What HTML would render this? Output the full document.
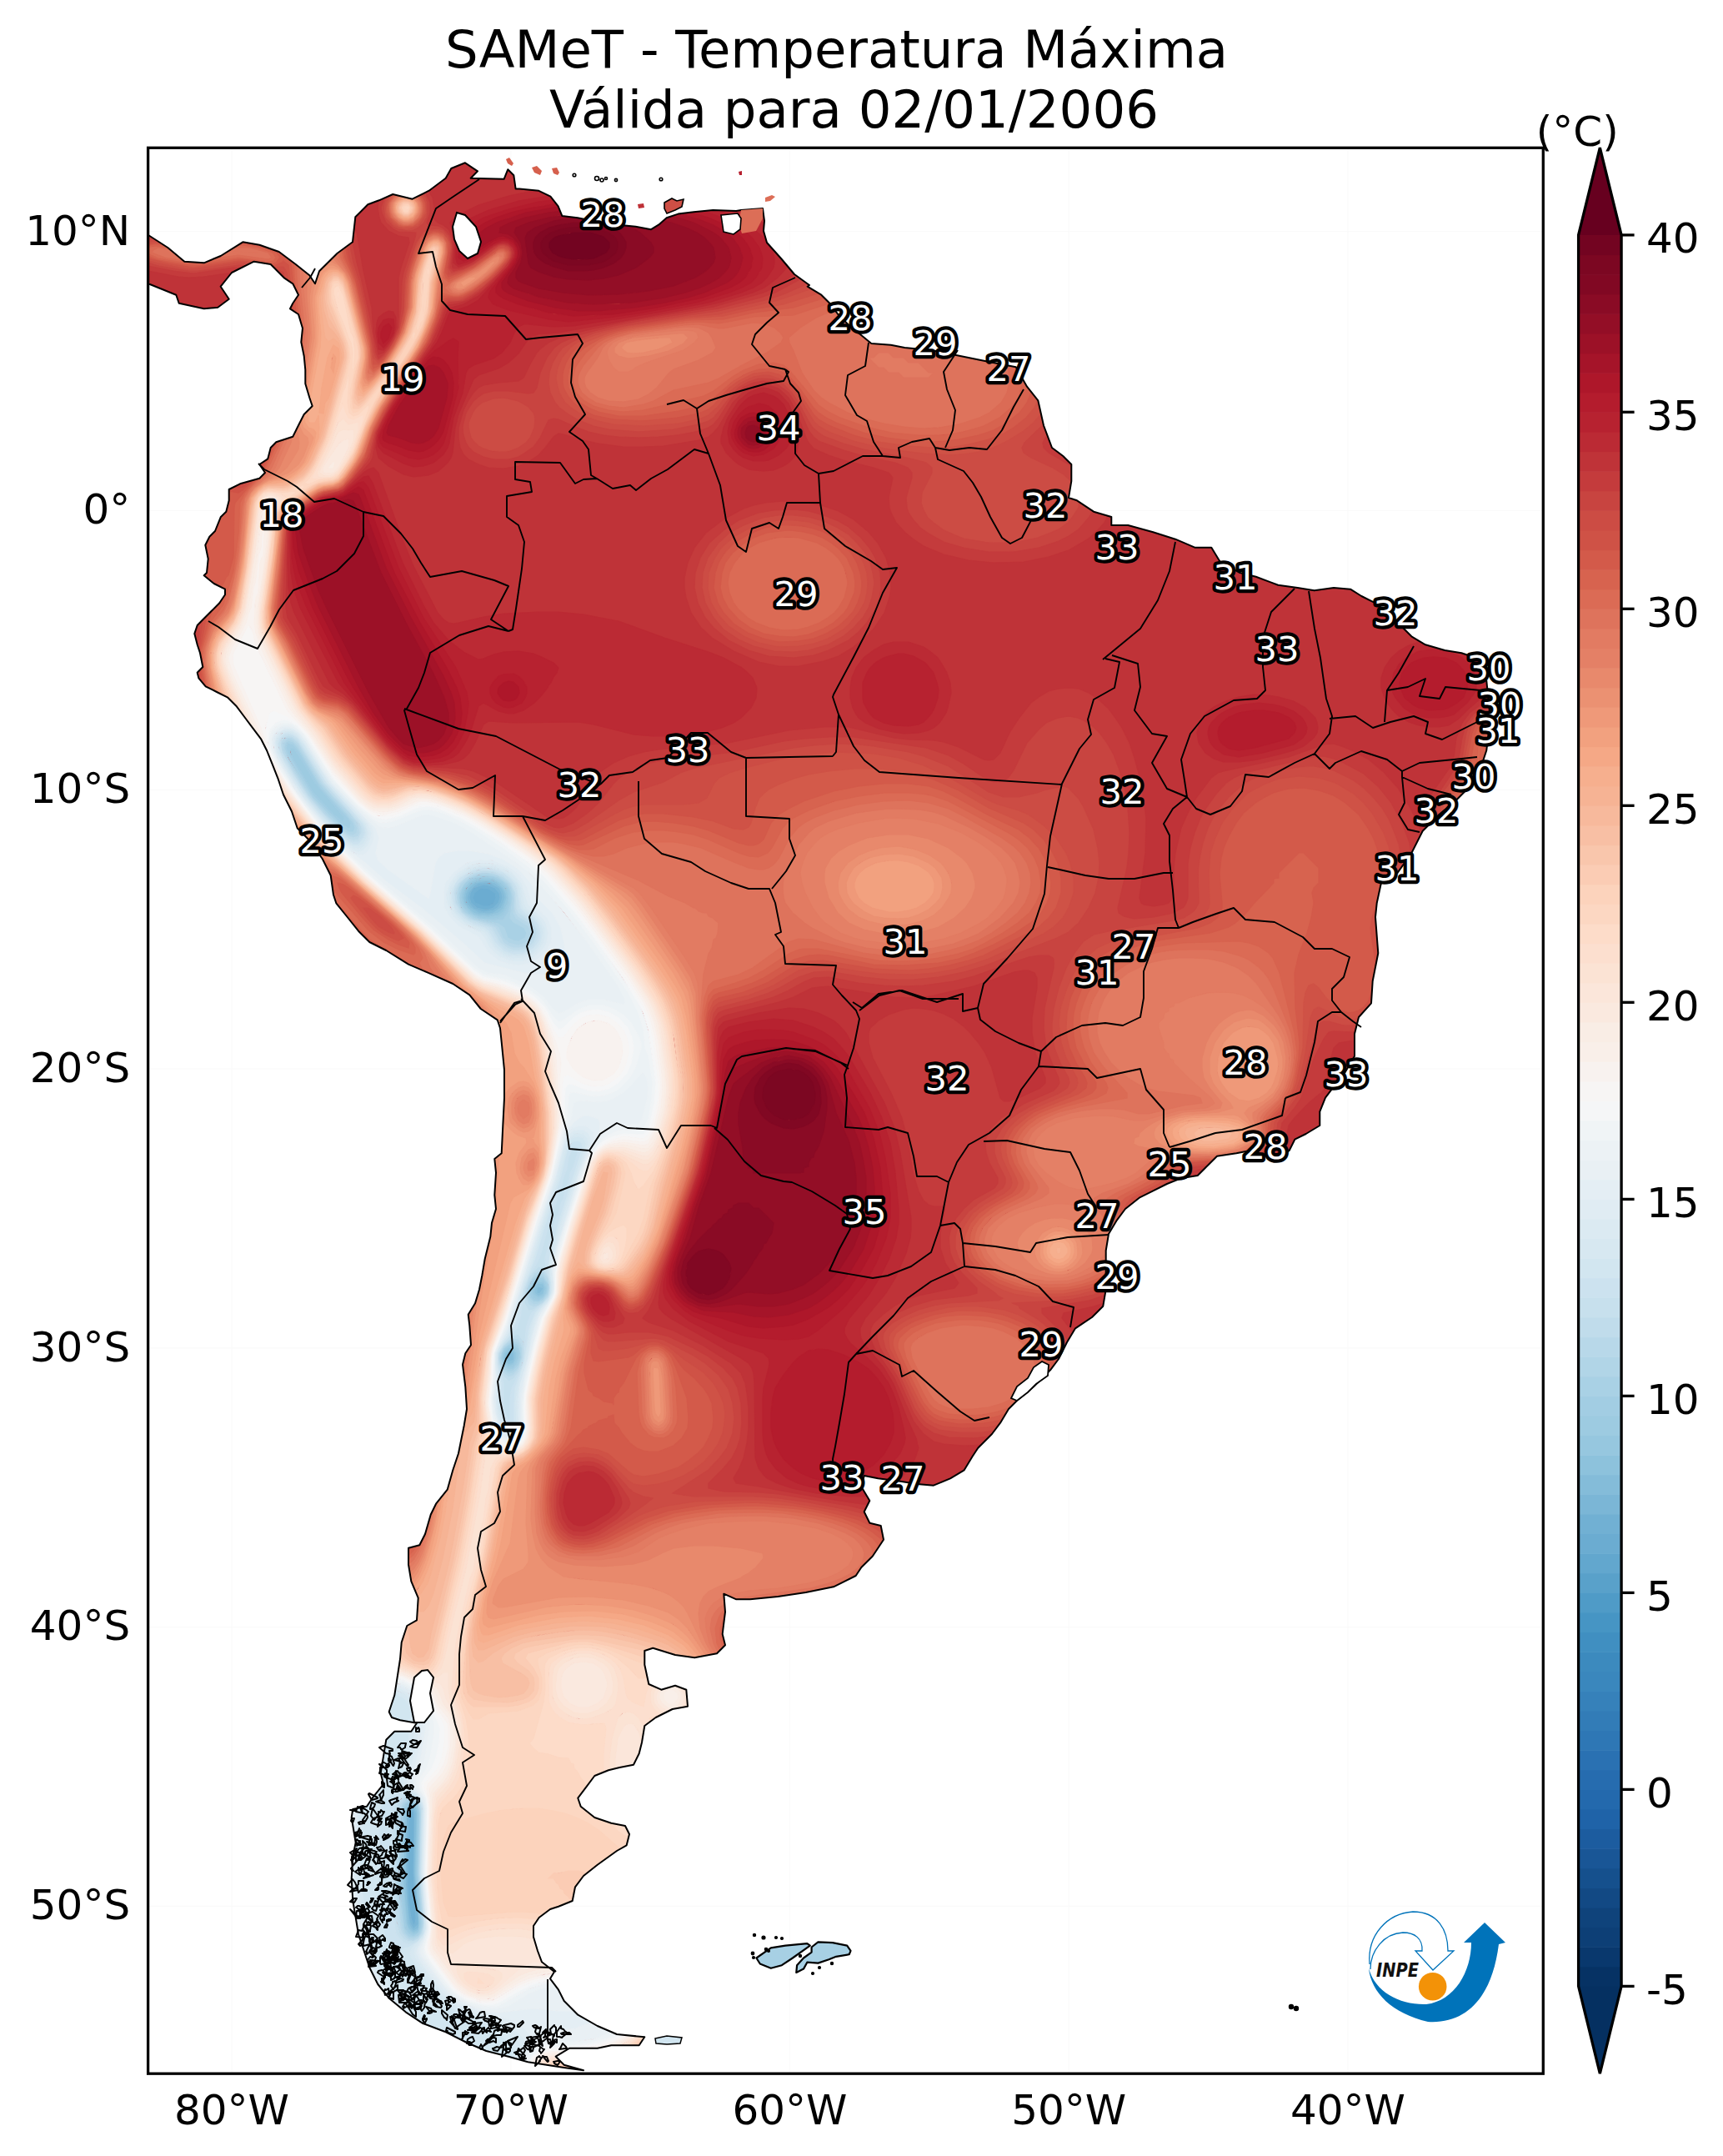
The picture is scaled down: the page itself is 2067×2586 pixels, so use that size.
<!DOCTYPE html>
<html><head><meta charset="utf-8"><style>
html,body{margin:0;padding:0;background:#fff;}
svg{display:block;}
text{font-family:"DejaVu Sans","Liberation Sans",sans-serif;}
</style></head><body>
<svg width="2067" height="2586" viewBox="0 0 2067 2586" xmlns="http://www.w3.org/2000/svg">

<text x="1003.5" y="81" font-size="62.5" text-anchor="middle">SAMeT - Temperatura Máxima</text>
<text x="1024.5" y="153" font-size="62.5" text-anchor="middle">Válida para 02/01/2006</text>
<defs><clipPath id="ax"><rect x="177.6" y="177.3" width="1673.7" height="2309.8999999999996"/></clipPath>
<clipPath id="land"><path d="M178.0,282.0 L201.3,297.0 L221.3,313.7 L244.7,315.3 L264.7,307.0 L291.3,290.3 L311.3,293.7 L334.7,302.0 L354.7,317.0 L371.3,330.3 L378.0,340.3 L383.0,325.3 L404.7,303.7 L423.0,290.3 L426.3,260.3 L441.3,245.3 L454.7,240.3 L471.3,233.0 L494.7,238.7 L514.7,228.7 L534.7,213.7 L541.3,202.0 L558.0,195.3 L573.0,205.3 L564.7,213.7 L604.6,214.8 L609.3,203.2 L616.3,210.2 L618.6,226.4 L623.2,226.4 L646.4,228.8 L660.4,235.7 L669.6,247.3 L674.3,258.9 L692.9,261.3 L716.1,265.9 L739.3,269.4 L762.5,271.7 L781.1,275.2 L790.4,269.4 L799.7,261.3 L813.6,256.6 L832.2,254.3 L855.4,252.0 L883.2,253.1 L889.0,252.0 L915.0,250.0 L917.0,265.0 L916.0,277.0 L920.0,291.0 L937.0,310.0 L953.0,329.0 L971.0,342.0 L968.7,343.7 L985.3,353.7 L995.3,363.7 L1005.3,377.0 L1018.7,390.3 L1035.3,403.7 L1045.3,412.0 L1068.7,413.7 L1085.3,417.0 L1118.7,420.3 L1152.0,427.0 L1185.3,433.7 L1218.7,440.3 L1232.0,463.7 L1245.3,480.3 L1252.0,510.3 L1262.0,537.0 L1275.3,547.0 L1285.3,557.0 L1285.3,577.0 L1282.0,597.0 L1292.0,600.3 L1312.0,613.7 L1333.3,620.0 L1333.3,630.0 L1353.3,630.0 L1383.3,638.3 L1410.0,646.7 L1433.3,656.7 L1453.3,656.7 L1463.3,673.3 L1486.7,686.7 L1506.7,691.7 L1533.3,701.7 L1556.7,705.0 L1576.7,708.3 L1600.0,705.0 L1620.0,706.7 L1633.3,715.0 L1650.0,723.3 L1673.3,743.3 L1693.3,763.3 L1710.0,773.3 L1733.3,780.0 L1753.3,783.3 L1773.3,790.0 L1783.3,816.7 L1786.7,850.0 L1786.7,870.0 L1783.3,900.0 L1776.7,920.0 L1763.3,943.3 L1746.7,960.0 L1726.7,976.7 L1706.7,996.7 L1693.3,1023.3 L1676.7,1046.7 L1656.7,1060.0 L1651.7,1083.3 L1650.0,1100.0 L1653.3,1143.3 L1646.7,1176.7 L1645.0,1203.3 L1630.0,1220.0 L1625.0,1240.0 L1625.0,1266.7 L1613.3,1286.7 L1600.0,1303.3 L1590.0,1316.7 L1583.3,1333.3 L1583.3,1350.0 L1566.7,1360.0 L1553.3,1366.7 L1546.7,1380.0 L1533.3,1390.0 L1500.0,1380.0 L1483.3,1383.3 L1460.0,1386.7 L1446.7,1400.0 L1436.7,1410.0 L1416.7,1413.3 L1400.0,1420.0 L1383.3,1428.3 L1366.7,1436.7 L1350.0,1450.0 L1340.0,1463.3 L1330.0,1480.0 L1326.7,1500.0 L1326.7,1520.0 L1326.7,1546.7 L1323.3,1566.7 L1310.0,1580.0 L1300.0,1586.7 L1290.0,1593.3 L1280.0,1610.0 L1270.0,1630.0 L1260.0,1643.3 L1240.0,1663.3 L1220.0,1680.0 L1210.0,1690.0 L1200.0,1706.7 L1190.0,1720.0 L1173.3,1736.7 L1166.7,1746.7 L1156.7,1763.3 L1140.0,1773.3 L1120.0,1781.7 L1100.0,1780.0 L1080.0,1776.7 L1053.3,1773.3 L1036.7,1770.0 L1033.3,1783.3 L1043.3,1800.0 L1036.7,1813.3 L1043.3,1826.7 L1056.7,1830.0 L1060.0,1846.7 L1046.7,1866.7 L1033.3,1880.0 L1026.7,1890.0 L1000.0,1903.3 L966.7,1910.0 L933.3,1915.0 L900.0,1918.3 L883.3,1918.3 L868.3,1911.7 L870.0,1933.3 L866.7,1960.0 L870.0,1973.3 L860.0,1983.3 L833.3,1988.3 L810.0,1985.0 L783.3,1976.7 L773.3,1980.0 L773.3,1996.7 L778.3,2020.0 L793.3,2026.7 L810.0,2021.7 L823.3,2026.7 L825.0,2046.7 L806.7,2050.0 L786.7,2060.0 L773.3,2070.0 L770.0,2090.0 L766.7,2103.3 L760.0,2116.7 L743.3,2120.0 L730.0,2123.3 L713.3,2130.0 L703.3,2143.3 L693.3,2156.7 L696.7,2166.7 L713.3,2180.0 L733.3,2186.7 L750.0,2190.0 L755.0,2200.0 L751.7,2213.3 L740.0,2220.0 L716.7,2236.7 L700.0,2250.0 L690.0,2263.3 L686.7,2280.0 L670.0,2286.7 L660.0,2290.0 L646.7,2300.0 L640.0,2310.0 L640.0,2323.3 L645.0,2340.0 L650.0,2353.3 L665.0,2365.0 L660.0,2373.3 L670.0,2386.7 L676.7,2400.0 L693.3,2416.7 L716.7,2430.0 L740.0,2440.0 L773.3,2443.3 L766.7,2453.3 L733.3,2453.3 L716.7,2456.7 L683.3,2456.7 L666.7,2466.7 L676.7,2476.7 L700.0,2483.3 L676.7,2480.0 L633.3,2473.3 L610.0,2466.7 L583.3,2460.0 L560.0,2450.0 L533.3,2436.7 L506.7,2426.7 L486.7,2413.3 L466.7,2396.7 L453.3,2380.0 L443.3,2360.0 L436.7,2340.0 L430.0,2320.0 L426.7,2300.0 L423.3,2280.0 L421.7,2253.3 L423.3,2226.7 L426.7,2210.0 L421.7,2180.0 L423.3,2170.0 L440.0,2166.7 L446.7,2156.7 L460.0,2140.0 L456.7,2126.7 L460.0,2106.7 L463.3,2086.7 L473.3,2076.7 L493.3,2076.7 L500.0,2066.7 L480.0,2063.3 L470.0,2060.0 L466.7,2053.3 L473.3,2033.3 L480.0,1990.0 L481.7,1970.0 L488.3,1950.0 L500.0,1943.3 L501.7,1916.7 L493.3,1896.7 L490.0,1876.7 L490.0,1856.7 L503.3,1853.3 L510.0,1840.0 L516.7,1816.7 L523.3,1803.3 L536.7,1786.7 L543.3,1763.3 L550.0,1743.3 L553.3,1726.7 L556.7,1710.0 L560.0,1690.0 L558.3,1663.3 L555.0,1636.7 L558.3,1623.3 L565.0,1613.3 L563.3,1590.0 L561.7,1576.7 L570.0,1563.3 L575.0,1546.7 L578.3,1530.0 L581.7,1510.0 L588.3,1483.3 L590.0,1466.7 L595.0,1450.0 L593.3,1433.3 L595.0,1406.7 L593.3,1390.0 L601.7,1383.3 L603.3,1350.0 L605.0,1316.7 L605.0,1283.3 L601.7,1250.0 L600.0,1233.3 L596.7,1223.3 L576.7,1210.0 L563.3,1193.3 L543.3,1180.0 L513.3,1166.7 L490.0,1156.7 L463.3,1140.0 L443.3,1130.0 L430.0,1116.7 L416.7,1100.0 L403.3,1083.3 L400.0,1073.3 L396.7,1050.0 L386.7,1030.0 L370.0,1006.7 L356.7,993.3 L350.0,973.3 L340.0,953.3 L333.3,933.3 L326.7,916.7 L320.0,900.0 L313.3,886.7 L303.3,873.3 L293.3,860.0 L283.3,846.7 L273.3,836.7 L260.0,830.0 L246.7,823.3 L238.3,813.3 L236.7,806.7 L243.3,800.0 L240.0,783.3 L236.7,773.3 L233.3,760.0 L236.7,750.0 L243.3,743.3 L253.3,733.3 L263.3,723.3 L270.0,713.3 L270.0,706.7 L256.7,700.0 L244.7,690.3 L248.0,687.0 L249.7,670.3 L246.3,653.7 L251.3,643.7 L258.0,637.0 L264.7,620.3 L271.3,613.7 L274.7,600.3 L274.7,587.0 L288.0,580.3 L311.3,573.7 L318.0,567.0 L311.3,557.0 L321.3,550.3 L324.7,537.0 L331.3,530.3 L351.3,523.7 L358.0,510.3 L364.7,497.0 L374.7,487.0 L371.3,477.0 L366.3,460.3 L366.3,443.7 L364.7,427.0 L361.3,410.3 L363.0,393.7 L358.0,377.0 L348.0,370.3 L351.3,363.7 L358.0,353.7 L351.3,340.3 L341.3,333.7 L324.7,317.0 L304.7,313.7 L278.0,327.0 L264.7,343.7 L274.7,358.7 L261.3,368.7 L244.7,370.3 L214.7,363.7 L211.3,353.7 L178.0,340.3 Z"/></clipPath></defs>
<path d="M278.0,177.3 V2487.2 M612.8,177.3 V2487.2 M947.5,177.3 V2487.2 M1282.2,177.3 V2487.2 M1617.0,177.3 V2487.2 M177.6,277.7 H1851.3 M177.6,612.5 H1851.3 M177.6,947.3 H1851.3 M177.6,1282.0 H1851.3 M177.6,1616.8 H1851.3 M177.6,1951.6 H1851.3 M177.6,2286.3 H1851.3" stroke="#fafafa" stroke-width="1.2" fill="none"/>
<g clip-path="url(#ax)">
<g clip-path="url(#land)">
<path d="M178.0,282.0 L201.3,297.0 L221.3,313.7 L244.7,315.3 L264.7,307.0 L291.3,290.3 L311.3,293.7 L334.7,302.0 L354.7,317.0 L371.3,330.3 L378.0,340.3 L383.0,325.3 L404.7,303.7 L423.0,290.3 L426.3,260.3 L441.3,245.3 L454.7,240.3 L471.3,233.0 L494.7,238.7 L514.7,228.7 L534.7,213.7 L541.3,202.0 L558.0,195.3 L573.0,205.3 L564.7,213.7 L604.6,214.8 L609.3,203.2 L616.3,210.2 L618.6,226.4 L623.2,226.4 L646.4,228.8 L660.4,235.7 L669.6,247.3 L674.3,258.9 L692.9,261.3 L716.1,265.9 L739.3,269.4 L762.5,271.7 L781.1,275.2 L790.4,269.4 L799.7,261.3 L813.6,256.6 L832.2,254.3 L855.4,252.0 L883.2,253.1 L889.0,252.0 L915.0,250.0 L917.0,265.0 L916.0,277.0 L920.0,291.0 L937.0,310.0 L953.0,329.0 L971.0,342.0 L968.7,343.7 L985.3,353.7 L995.3,363.7 L1005.3,377.0 L1018.7,390.3 L1035.3,403.7 L1045.3,412.0 L1068.7,413.7 L1085.3,417.0 L1118.7,420.3 L1152.0,427.0 L1185.3,433.7 L1218.7,440.3 L1232.0,463.7 L1245.3,480.3 L1252.0,510.3 L1262.0,537.0 L1275.3,547.0 L1285.3,557.0 L1285.3,577.0 L1282.0,597.0 L1292.0,600.3 L1312.0,613.7 L1333.3,620.0 L1333.3,630.0 L1353.3,630.0 L1383.3,638.3 L1410.0,646.7 L1433.3,656.7 L1453.3,656.7 L1463.3,673.3 L1486.7,686.7 L1506.7,691.7 L1533.3,701.7 L1556.7,705.0 L1576.7,708.3 L1600.0,705.0 L1620.0,706.7 L1633.3,715.0 L1650.0,723.3 L1673.3,743.3 L1693.3,763.3 L1710.0,773.3 L1733.3,780.0 L1753.3,783.3 L1773.3,790.0 L1783.3,816.7 L1786.7,850.0 L1786.7,870.0 L1783.3,900.0 L1776.7,920.0 L1763.3,943.3 L1746.7,960.0 L1726.7,976.7 L1706.7,996.7 L1693.3,1023.3 L1676.7,1046.7 L1656.7,1060.0 L1651.7,1083.3 L1650.0,1100.0 L1653.3,1143.3 L1646.7,1176.7 L1645.0,1203.3 L1630.0,1220.0 L1625.0,1240.0 L1625.0,1266.7 L1613.3,1286.7 L1600.0,1303.3 L1590.0,1316.7 L1583.3,1333.3 L1583.3,1350.0 L1566.7,1360.0 L1553.3,1366.7 L1546.7,1380.0 L1533.3,1390.0 L1500.0,1380.0 L1483.3,1383.3 L1460.0,1386.7 L1446.7,1400.0 L1436.7,1410.0 L1416.7,1413.3 L1400.0,1420.0 L1383.3,1428.3 L1366.7,1436.7 L1350.0,1450.0 L1340.0,1463.3 L1330.0,1480.0 L1326.7,1500.0 L1326.7,1520.0 L1326.7,1546.7 L1323.3,1566.7 L1310.0,1580.0 L1300.0,1586.7 L1290.0,1593.3 L1280.0,1610.0 L1270.0,1630.0 L1260.0,1643.3 L1240.0,1663.3 L1220.0,1680.0 L1210.0,1690.0 L1200.0,1706.7 L1190.0,1720.0 L1173.3,1736.7 L1166.7,1746.7 L1156.7,1763.3 L1140.0,1773.3 L1120.0,1781.7 L1100.0,1780.0 L1080.0,1776.7 L1053.3,1773.3 L1036.7,1770.0 L1033.3,1783.3 L1043.3,1800.0 L1036.7,1813.3 L1043.3,1826.7 L1056.7,1830.0 L1060.0,1846.7 L1046.7,1866.7 L1033.3,1880.0 L1026.7,1890.0 L1000.0,1903.3 L966.7,1910.0 L933.3,1915.0 L900.0,1918.3 L883.3,1918.3 L868.3,1911.7 L870.0,1933.3 L866.7,1960.0 L870.0,1973.3 L860.0,1983.3 L833.3,1988.3 L810.0,1985.0 L783.3,1976.7 L773.3,1980.0 L773.3,1996.7 L778.3,2020.0 L793.3,2026.7 L810.0,2021.7 L823.3,2026.7 L825.0,2046.7 L806.7,2050.0 L786.7,2060.0 L773.3,2070.0 L770.0,2090.0 L766.7,2103.3 L760.0,2116.7 L743.3,2120.0 L730.0,2123.3 L713.3,2130.0 L703.3,2143.3 L693.3,2156.7 L696.7,2166.7 L713.3,2180.0 L733.3,2186.7 L750.0,2190.0 L755.0,2200.0 L751.7,2213.3 L740.0,2220.0 L716.7,2236.7 L700.0,2250.0 L690.0,2263.3 L686.7,2280.0 L670.0,2286.7 L660.0,2290.0 L646.7,2300.0 L640.0,2310.0 L640.0,2323.3 L645.0,2340.0 L650.0,2353.3 L665.0,2365.0 L660.0,2373.3 L670.0,2386.7 L676.7,2400.0 L693.3,2416.7 L716.7,2430.0 L740.0,2440.0 L773.3,2443.3 L766.7,2453.3 L733.3,2453.3 L716.7,2456.7 L683.3,2456.7 L666.7,2466.7 L676.7,2476.7 L700.0,2483.3 L676.7,2480.0 L633.3,2473.3 L610.0,2466.7 L583.3,2460.0 L560.0,2450.0 L533.3,2436.7 L506.7,2426.7 L486.7,2413.3 L466.7,2396.7 L453.3,2380.0 L443.3,2360.0 L436.7,2340.0 L430.0,2320.0 L426.7,2300.0 L423.3,2280.0 L421.7,2253.3 L423.3,2226.7 L426.7,2210.0 L421.7,2180.0 L423.3,2170.0 L440.0,2166.7 L446.7,2156.7 L460.0,2140.0 L456.7,2126.7 L460.0,2106.7 L463.3,2086.7 L473.3,2076.7 L493.3,2076.7 L500.0,2066.7 L480.0,2063.3 L470.0,2060.0 L466.7,2053.3 L473.3,2033.3 L480.0,1990.0 L481.7,1970.0 L488.3,1950.0 L500.0,1943.3 L501.7,1916.7 L493.3,1896.7 L490.0,1876.7 L490.0,1856.7 L503.3,1853.3 L510.0,1840.0 L516.7,1816.7 L523.3,1803.3 L536.7,1786.7 L543.3,1763.3 L550.0,1743.3 L553.3,1726.7 L556.7,1710.0 L560.0,1690.0 L558.3,1663.3 L555.0,1636.7 L558.3,1623.3 L565.0,1613.3 L563.3,1590.0 L561.7,1576.7 L570.0,1563.3 L575.0,1546.7 L578.3,1530.0 L581.7,1510.0 L588.3,1483.3 L590.0,1466.7 L595.0,1450.0 L593.3,1433.3 L595.0,1406.7 L593.3,1390.0 L601.7,1383.3 L603.3,1350.0 L605.0,1316.7 L605.0,1283.3 L601.7,1250.0 L600.0,1233.3 L596.7,1223.3 L576.7,1210.0 L563.3,1193.3 L543.3,1180.0 L513.3,1166.7 L490.0,1156.7 L463.3,1140.0 L443.3,1130.0 L430.0,1116.7 L416.7,1100.0 L403.3,1083.3 L400.0,1073.3 L396.7,1050.0 L386.7,1030.0 L370.0,1006.7 L356.7,993.3 L350.0,973.3 L340.0,953.3 L333.3,933.3 L326.7,916.7 L320.0,900.0 L313.3,886.7 L303.3,873.3 L293.3,860.0 L283.3,846.7 L273.3,836.7 L260.0,830.0 L246.7,823.3 L238.3,813.3 L236.7,806.7 L243.3,800.0 L240.0,783.3 L236.7,773.3 L233.3,760.0 L236.7,750.0 L243.3,743.3 L253.3,733.3 L263.3,723.3 L270.0,713.3 L270.0,706.7 L256.7,700.0 L244.7,690.3 L248.0,687.0 L249.7,670.3 L246.3,653.7 L251.3,643.7 L258.0,637.0 L264.7,620.3 L271.3,613.7 L274.7,600.3 L274.7,587.0 L288.0,580.3 L311.3,573.7 L318.0,567.0 L311.3,557.0 L321.3,550.3 L324.7,537.0 L331.3,530.3 L351.3,523.7 L358.0,510.3 L364.7,497.0 L374.7,487.0 L371.3,477.0 L366.3,460.3 L366.3,443.7 L364.7,427.0 L361.3,410.3 L363.0,393.7 L358.0,377.0 L348.0,370.3 L351.3,363.7 L358.0,353.7 L351.3,340.3 L341.3,333.7 L324.7,317.0 L304.7,313.7 L278.0,327.0 L264.7,343.7 L274.7,358.7 L261.3,368.7 L244.7,370.3 L214.7,363.7 L211.3,353.7 L178.0,340.3 Z" fill="#c53e3d"/>
<path d="M580 1065l6 1 8 5l1 6-3 6l-6 4-6 0l-6-1-4-3l-3-6 2-6l5-4zM496 2267l0 28 0 9l-2-27z" fill="#6bacd1" stroke="#6bacd1" stroke-width="1.2"/>
<path d="M574 1063l6-2 6 1l8 3 4 4l2 8-2 6l-6 6-6 2l-12-1-9-7l-2-6 1-6l4-5zM578 1065l-4 2-5 4l-2 6 3 6l10 4 6 0l6-3 3-7l-1-6-8-5zM496 2171l1 10-1 72l3 48-1 6l-2 3-3-9l-3-22-1-26l1-66 2-12zM495 2271l1 33 0-27l0-10z" fill="#71b0d3" stroke="#71b0d3" stroke-width="1.2"/>
<path d="M580 1059l12 2 7 4l3 6 1 6l-2 6-3 6l-6 3-6 2l-6 0-12-4l-6-7-2-6l1-6 4-6l9-6zM568 1065l-4 6-1 6l2 6 7 6l8 2 6 0l6-2 6-6l2-6-1-6l-5-6-8-3l-6-1zM610 1626l2 3-2 1zM496 2168l2 7 0 6l-1 72 5 48l0 7-6 6l-4-7-2-10l-3-50 2-72l4-6zM492 2175l-2 12-1 72l1 20 3 22l3 9 2-3l1-6-3-54l1-66-1-10z" fill="#7bb6d6" stroke="#7bb6d6" stroke-width="1.2"/>
<path d="M574 1058l6-1 12 1l10 7 3 6l1 6-2 8l-6 7-6 3l-12 1-6-1l-6-3-6-5l-4-10 1-6l3-6 6-5zM574 1059l-6 4-6 7l-2 7 2 6l6 7 12 4l12-2 5-3l4-6 2-6l-1-6-3-6l-11-6zM646 1543l6 2-4 6l-2 1-2-1l0-6zM610 1621l6 1 0 7l0 2-6 3l-3-5 1-6zM609 1629l1 1 2-1l-2-3zM490 2168l6-2 2 3l2 6-2 72l5 60-1 6l-6 3-3-3l-3-6-4-48l1-78zM493 2169l-3 4-2 8l-1 78 3 38l2 10 4 7l6-6 0-7l-5-54 1-72l-2-7z" fill="#84bcd9" stroke="#84bcd9" stroke-width="1.2"/>
<path d="M568 1058l12-3 6 0l12 4 6 6l3 6 1 6l-4 13-6 5l-12 3-12-1l-6-2-6-5l-5-7-1-6l1-6 5-8zM569 1059l-7 6-3 6l-1 6 1 6l5 6 10 6l12 1 6-1l9-6 3-6l2-6-1-6l-3-6-8-6l-8-2-6 0zM646 1539l6 1 1 5l-1 7-6 3l-5-4 0-6zM644 1545l0 6 2 1l2-1 4-6l-6-2zM610 1619l6 0 2 4l0 6-2 6l-6 2-6-8l2-6zM608 1623l-1 6 3 5l6-3 0-8l-6-2zM490 2166l6-2 4 5l1 6-2 72l4 60-1 8l-6 3-6-5l-2-6-4-48l2-78 2-12zM489 2169l-2 18-1 72l4 48 3 6l3 3 6-3l1-6-5-60l2-72-2-6l-2-3z" fill="#8dc2dc" stroke="#8dc2dc" stroke-width="1.2"/>
<path d="M580 1053l7 0 11 4l6 5 5 9l1 8-4 10l-2 5-6 4l-12 2-12-1l-6-2-6-5l-7-9-1-6l1-6 2-6l5-5 6-4zM565 1059l-6 6-2 6l-1 6 1 6l5 7 6 5l6 2 12 1l12-3 6-5l4-13-1-6l-3-6-6-6l-6-3-12-1l-6 1zM646 1537l6 1 3 7l-2 6-1 3l-6 3-6-4l-1-2 1-8zM645 1539l-4 6 0 6l5 4 6-3l1-7-1-5zM610 1617l6-1 4 7l0 6-3 6l-1 2-6 2l-5-4-2-6l1-6zM606 1623l-2 6 4 6l2 2 6-2l2-6 0-6l-2-4-6 0zM496 2162l5 7 1 6l-2 72 4 60l-2 10-6 3l-6-5-3-8l-4-36-1-24l3-72 1-6l4-6zM488 2169l-3 18-1 72l4 48 2 6l6 5 6-3l1-8-4-60l2-72-1-6l-4-5-6 2z" fill="#96c7df" stroke="#96c7df" stroke-width="1.2"/>
<path d="M352 897l12 18 14 24l35 42-1 5l-12-9-24-26l-25-42-3-12zM574 1052l12 0 7 1l11 6 5 6l2 6 0 12l-2 6-5 9l-6 3-6 1l-12 0-12-4l-6-4-5-5l-3-6-1-6l0-6 2-6l7-7zM576 1053l-8 3-6 3l-5 6-2 6l-1 6 2 7l6 8 6 5l6 2 12 1l12-2 6-4l5-11 1-6l-1-6-2-6l-6-6-9-5l-6-1zM640 1539l6-4 6 0l2 4 2 6l-1 6-3 5l-6 3-6-2l-3-6 0-6zM642 1539l-3 6 0 6l1 2 6 4l6-3 1-3l2-6-3-7l-6-1zM610 1615l6-1 3 3l3 6 0 6l-3 6-3 5l-6 1-6-4l-2-8 2-8zM609 1617l-5 6-1 6l2 6 5 4l6-2 1-2l3-6 0-6l-4-7zM490 2162l6-1 3 2l3 4 1 8l-2 72 4 60l-1 6-2 6l-6 2-6-3l-5-11-4-48l2-84 1-6zM490 2163l-4 6-2 12l-1 78 4 48l3 8 6 5l6-3 2-10l-4-60 2-72l-1-6-4-6l-1-1z" fill="#9dcbe1" stroke="#9dcbe1" stroke-width="1.2"/>
<path d="M346 891l6 2 6 7l27 45 33 36l3 6-1 6l-2 1-12-8l-30-31-30-50l-3-8zM348 897l0 6 4 8l24 40 24 26l12 9 1-5l-1-2-34-40l-14-24-12-18zM568 1053l12-3 12 1l12 6 6 7l3 7 0 12l-3 11-6 9l-12 1-18-2l-12-6-7-7l-3-6-1-6l1-6 2-6l4-6zM570 1053l-8 5-7 7l-2 6 0 6l1 6 3 6l5 5 6 4l12 4 12 0l6-1 6-3l5-9 2-6l0-12-2-6l-5-6-12-6l-12-2zM646 1532l6 1 4 6l1 6-1 6l-4 6-6 4l-6-1-3-3l-2-6 1-6l2-6 2-3zM639 1539l-2 6 0 6l3 6 6 2l6-3 3-5l1-6-2-6l-2-4-6 0zM610 1613l6-1 6 5l2 6-3 12l-5 7-6 1l-6-4-3-10l3-10zM607 1617l-3 4-2 8l2 8 6 4l6-1 3-5l3-6 0-6l-3-6-3-3l-6 1zM490 2160l6-1 5 4l2 6 1 6l-2 72 4 60l-1 6-3 6l-6 4-6-3l-5-7-2-18l-3-36 2-84l1-6 3-6zM488 2163l-4 6-1 12l-2 60 0 24l4 36 2 12l3 5 6 3l6-2 2-6l1-6-4-60l2-72-1-8l-3-4-3-2l-6 1z" fill="#a2cde3" stroke="#a2cde3" stroke-width="1.2"/>
<path d="M346 888l6 2 6 7l25 42 10 12l27 30 4 6l2 6-2 5l-6 0-12-9l-24-24-12-15l-27-47-2-6l1-6zM345 891l-2 6 3 8l30 50 30 31l12 8 2-1l1-6-3-6l-33-36-27-45l-6-7zM568 1051l12-2 12 1l8 3 8 6l4 6 2 6l1 6-3 24l4 5 13 7l3 6-2 6l-8 4-6-1l-7-3-4-12l-7-5-30-7l-6-3-6-6l-5-9-1-12l2-6 4-6zM566 1053l-8 6-4 6l-2 6-1 6l1 6 4 7l6 6 12 6l18 2 12-1l6-9 3-11l0-12-3-7l-6-7-12-6l-12-1zM646 1530l6 1 5 8l1 10-6 10l-6 3-6 0l-5-5-2-6l1-6 6-11zM644 1533l-6 6-2 6l-1 6 2 6l3 3 6 1l6-4 4-6l1-6-1-6l-4-6-6-1zM616 1610l6 3 2 4l1 12-3 9l-3 3-3 3l-6 2-6-4l-3-7-1-6l1-6 3-6l6-5zM605 1617l-3 6-1 6l3 10 6 4l6-1 5-7l2-6 1-6l-2-6-6-5l-6 1zM490 2158l6 0 6 5l2 12-2 72l5 60-1 6l-2 6-2 3l-6 2-6-1l-4-4-2-6l-3-18-2-36l1-84 4-12zM486 2163l-3 6-2 12l-1 66 0 24l5 42 5 7l6 3 6-4l3-6 1-6l-4-60 2-72l-2-10-6-6l-6 1z" fill="#a9d1e5" stroke="#a9d1e5" stroke-width="1.2"/>
<path d="M340 890l6-5 6 3l6 6 27 45l39 44 5 10l-1 6-4 3l-6-1-6-4l-18-17-18-20l-12-17-20-34l-5-12zM342 891l-1 6 4 12l30 48 19 20l18 17 6 4l6 0 2-5l-2-6-9-12l-22-24-10-12l-25-42-6-7l-6-2zM580 1047l12 1 6 2l12 9 4 6l3 12-1 18l3 6 15 10l3 8-1 6l-6 6-8 3l-12-3-7-6l-5-12-6-4l-24-6-12-8l-4-6-3-6l-1-12 2-6l4-6 7-6l7-3zM563 1053l-7 7-6 11l1 12 2 6l5 6 10 6l6 2 24 5l7 5 4 12l7 3 6 1l8-4 2-6l-3-6-13-7l-4-5 3-24l-1-6-2-6l-4-6-10-7l-12-3-12 0zM640 1531l6-4 6 1l6 9 1 8l-1 7-6 8l-6 4-6 1l-6-5-2-9l2-12zM640 1533l-4 6-2 6l0 8 1 4l5 5 6 0l6-3 5-8l1-6 0-5l-6-9-6-1zM610 1610l6-2 6 2l4 7 0 6l0 6-4 12l-6 6-6 1l-6-4-4-9l-1-6 4-12zM611 1611l-7 6-3 6l-1 6 4 13l6 4 6-2l6-6 3-9l0-6-3-10l-6-3zM490 2157l6 0 6 4l3 8 0 6l-2 72 5 60l-1 6-2 6l-3 4-6 3l-6-1-6-6l-2-6-2-12l-3-42 2-84l3-12zM484 2163l-3 6-1 12l-2 66 1 30l5 36 2 6l4 4 6 1l6-2 2-3l2-6 1-6l-5-60 2-72l-2-12-6-5l-6 0z" fill="#b1d5e7" stroke="#b1d5e7" stroke-width="1.2"/>
<path d="M346 884l6 1 6 6l29 48 38 42l6 12 1 6l-2 4-6 2l-6-2-6-4l-24-23-18-21l-18-29-13-23l-2-6 0-6l3-4zM339 891l1 9 6 13l18 30 12 17l18 20 18 17l6 4 6 1l4-3 1-6l-5-10-39-44l-27-45-6-6l-6-3zM574 1046l12 0 12 3l8 4 6 6l6 12 0 18l1 6 3 4l13 8 5 7l1 5-1 6l-6 8-6 3l-6 1-6 0l-6-2-6-4l-10-18-8-4l-18-5-6-3l-8-6-4-6l-3-12 2-12l3-6 6-6l10-5zM578 1047l-10 3-6 3l-8 6-4 6l-2 12 4 12l4 6 12 8l24 6 6 4l5 12 7 6l12 3 8-3l6-6 1-6l-3-8-15-10l-3-6 1-18l-3-12-4-6l-12-9-12-3zM646 1524l6 1 5 8l3 12-2 9l-6 8-6 4l-6 2-6-3l-3-8-1-6l4-13 6-10zM638 1533l-6 12 1 12l1 3 6 5l6-1 6-4l6-8 1-7l-1-6-6-11l-6-1-6 4zM616 1605l6 1 3 5l2 6 0 12l-5 14-6 7l-6 2-6-5l-5-12-1-6l1-6 5-9l6-6zM608 1611l-5 6-4 12l1 6 4 9l6 4 6-1l6-6 4-12l0-6 0-6l-4-7-6-2zM490 2155l6 1 6 4l3 9 1 6l-2 72 5 60l-1 6-2 6l-4 6-6 3l-6-1-3-2l-5-6-2-6l-5-54 2-84l3-12 4-5zM488 2157l-6 6-3 12l-2 84 3 42l2 12 2 6l6 6 6 1l6-3 3-4l2-6 1-6l-5-60 2-72l0-6-3-8l-6-4z" fill="#b8d8e9" stroke="#b8d8e9" stroke-width="1.2"/>
<path d="M340 884l6-2 6 2l6 5 31 50l37 42 8 12l0 6-4 8l-6 1-6-2l-6-5-18-17l-24-27-18-28l-14-26-2-12zM341 885l-4 6 0 6l2 6 13 23l18 29 18 21l24 23 6 4l6 2 6-2l2-4-1-6l-2-6-9-12l-23-24-10-12l-29-48-7-6l-5-1zM568 1047l12-3 12 1l12 5 10 9l5 12 1 18l2 5 17 13l4 6 1 6l-1 6-3 6l-6 6-12 3l-6 0-8-3l-8-6-10-18l-28-10-9-8l-7-12-1-12l2-6 3-6l6-5zM571 1047l-13 6-6 6l-3 6-2 6l1 12 6 12l8 6 6 3l18 5 8 4l10 18 6 4l6 2 6 0l6-1 6-3l6-8 1-6l-1-5-5-7l-13-8-3-4l-1-6 0-18l-6-12-8-7l-12-5-12-1zM646 1519l6 2 6 10l2 14-1 6l-1 5-6 7l-12 8-6 1l-5-9 0-6l1-12 4-12l6-8zM641 1527l-7 11-4 13l1 6 3 8l6 3 6-2l6-4 6-8l2-9-2-11l-6-9-6-1zM616 1602l6-2 4 5l3 12-1 12l-6 17-6 8l-6 3-6-6l-6-16-1-6l1-6 6-10zM616 1605l-6 3-6 6l-5 9-1 6l1 6 5 12l6 5 6-2l6-7 5-14l0-12-2-6l-3-5zM484 2156l6-2 6 0l6 4 3 5l1 6-2 78l5 60-2 12l-5 7-6 3l-6 0-6-3l-5-7-3-18l-3-24 0-30l1-72 3-12zM485 2157l-5 6-3 12l-2 60 0 30l5 48 2 6l5 6 3 2l6 1 6-3l4-6 2-6l1-6-5-60l2-72-1-6l-3-9-6-4l-6-1z" fill="#c0dceb" stroke="#c0dceb" stroke-width="1.2"/>
<path d="M340 882l6-2 6 2l6 5 32 52l33 36 10 12l3 6 1 6l-2 6-5 5l-6 0-6-2l-6-4-24-24l-20-23-22-36l-10-18-2-12l3-6zM338 885l-2 6 2 12l14 26 18 28l24 27 18 17l6 5 6 2l6-1 4-8l0-6-3-6l-10-12-32-36l-31-50-6-5l-6-2zM568 1045l12-2 12 1l6 1 12 7l6 7 5 12l2 18 4 6l13 10 5 8l2 6-1 6l-3 6-6 6l-9 5-6 1l-12-2-6-3l-7-7-6-12l-5-6-24-8l-11-10-6-12l-1-12 1-6l4-6 5-6zM566 1047l-10 7-6 5l-3 6-2 6l1 12 7 12l9 8 28 10l10 18 8 6l8 3 6 0l12-3 6-6l3-6 1-6l-1-6-4-6l-17-13-2-5l-1-18-5-12l-10-9-12-5l-12-1zM688 1376l6 1-1 6l-5 17-4 7l-2 12-4 6l-2 13-3 5l-3 14-3 4l-13 48 1 12l6 18-1 12l-2 6-6 7l-14 11-3 6l-4 12-2 36l-3 12-12 24l-2 12 0 24l-2 3-6-14l0-31-6-21l-1-9 0-6l7-12 16-18l4-12 5-36l5-14 10-16l5-12 9-34l3-8 3-11l3-7 3-11l3-7 3-13l4-11 2-13zM644 1521l-4 4-6 8l-4 12-1 12l0 6 5 9l6-1 12-8l6-7 1-5l1-6-2-14l-6-10-6-2zM612 1605l-8 8-6 10l-1 6 1 6l6 16 6 6l6-3 6-8l5-11 2-12l-1-14-6-9l-6 2zM484 2153l6-1 6 1l6 4 3 6l2 12-2 72l5 54-1 12l-1 7-6 8l-6 3-6 1l-6-2-5-5l-4-6-2-12l-4-48 3-90l1-6 5-6zM481 2157l-4 6-3 12l-1 72 1 36l2 24 3 12l5 7 6 3l6 0 6-3l5-7 2-12l-5-60 2-78l-1-6-3-5l-6-4-6 0z" fill="#c7e0ed" stroke="#c7e0ed" stroke-width="1.2"/>
<path d="M346 879l6 2 6 4l34 54 33 36l10 12 3 6l1 6-2 6l-5 6-2 2l-6 0-12-7l-30-31-19-24l-23-38-7-16l0-6 2-6l5-5zM337 885l-3 6 0 6l5 12 31 50l24 27 18 18l6 4 6 2l6 0 5-5l2-6-1-6l-8-12-38-42l-32-52-6-5l-6-2-6 2zM580 1041l18 3 6 2l9 7 5 6l3 6 4 24l6 6 9 6l6 7 2 5l1 6 0 6l-3 6-5 6l-7 5-6 2l-12 1-12-4l-10-10-8-14l-5-4-13-4l-12-7-7-7l-4-6-3-12l0-6 4-12l5-6 11-7l6-3zM562 1047l-6 5-6 6l-5 7-1 6l1 12 6 12l11 10 24 8l5 6 7 13l6 6 6 3l6 1 12 0l6-3 6-4l6-10 1-6l-2-6-5-8l-13-10-4-6l-2-18-2-6l-3-6-6-7l-6-4-12-4l-18-1zM688 1369l6-1 4 3l1 6-27 84l-12 42-2 18l3 18 0 12l-3 7-16 17l-7 18-6 42l-11 30-1 18l0 24-1 9l-6-3-6-9l-3-9-1-18l1-18-5-24l1-12 7-13l9-11 5-12l5-18 6-30l13-30 10-34l20-62 9-36zM687 1377l-5 11-2 13l-4 11-3 13l-3 7-3 11l-3 7-3 11l-3 8-9 34l-5 12-10 16l-5 14-5 36l-4 12-16 18l-7 12 0 6l1 9 6 21l0 31 6 14l2-3 0-24l2-12 12-24l3-12 2-36l4-12 3-6l14-11 6-7l2-6 1-12l-6-18-1-12l13-48 3-4l3-14 3-5l2-13 4-6l2-12 4-7l5-17 1-6l-6-1zM484 2150l12 2 6 3l4 8 2 6l-2 78 4 54l0 12-2 8l-6 8-6 5l-18 7-6 1l-6-8-5-15l-6-42-1-18l1-84 3-12l4-6 10-4zM478 2157l-5 6-2 18l-2 66 1 24l3 36 2 12l4 6 5 5l6 2 6-1l6-3 6-8l1-7 1-12l-5-54 2-78l-2-6-3-6l-6-4-6-1l-6 1z" fill="#cce2ef" stroke="#cce2ef" stroke-width="1.2"/>
<path d="M340 879l6-2 6 2l6 5 6 7l29 48 44 48l3 6 1 6l-1 6-4 7l-6 3-6 0l-12-7-24-24l-22-27-20-31l-12-23-3-12l3-7zM343 879l-3 1-5 5l-2 6 0 6l7 16 23 38l19 24 30 31l12 7 6 0l2-2 5-6l2-6-1-6l-3-6-10-12l-33-36-34-54l-6-4-6-2zM574 1040l12-1 18 5l12 9 5 6l3 6 2 18l2 6 15 12l5 6 3 6l1 6-3 12l-4 6-5 5l-6 3-12 2l-12-1-6-2l-9-7-4-6l-6-12-5-4l-12-4-12-6l-10-10-5-12l-1-6 2-12l2-6 5-6l7-6 6-3zM579 1041l-11 2-6 3l-11 7-5 6l-4 12 0 6l3 12 4 6l7 7 12 7l13 4 5 4l8 14 10 10l12 4 12-1l6-2 7-5l5-6 3-6l0-6-1-6l-2-5-6-7l-9-6-6-6l-4-24-3-6l-5-6-9-7l-6-2-12-3zM688 1364l6-1 6 2l3 6-1 6l-24 72-18 60l-1 12 3 18l0 12-4 9l-14 15-3 6l-5 18-5 30l-7 24-4 18l-1 12 1 30l-2 6-2 2l-6-3-6-9l-6-18-1-14l2-24-3-18l0-12 2-6l16-24 6-18l8-35 10-25l14-48 16-48l11-42 3-7zM685 1371l-4 6-9 36l-20 62-10 34l-14 35-5 25l-5 18-5 12l-9 11-7 13l-1 12 5 24l-1 18 1 18l3 9 6 9l6 3 1-9l0-24 1-18l11-30 6-42l7-18 16-17l3-7 0-12l-3-18 2-18l12-42 27-84l-1-6-4-3l-6 1zM472 2032l6 1 7 4l5 6 3 12l-3 33-10 39l-1 12 2 6l15 5 6 4l5 9 1 6l-2 78 5 54l0 12-3 10l-14 14-2 6l2 6 29 42l11 12 16 10l29 14 35 24l3 6 0 6l-2 6-5 6l-12 0-6-6l-12 0-6-6l-6 0-6-6l-6 0-6-6l-6 0-6-6l-10 0-20-12l-6-6-30-41l-12-18-7-13l-5-18-12-60l-4-24 0-12l3-84 19-18l-6-6 0-24l6-6 0-18l18-18-12-12l0-12 6-6l0-4zM478 2151l-16 6-4 6l-2 6-1 12l-1 78 1 18l6 42 5 15l6 8 6-1l7-4 5-1l12-7 7-10l1-12-4-60l2-78-2-6l-4-8-6-3l-6-2z" fill="#d2e6f0" stroke="#d2e6f0" stroke-width="1.2"/>
<path d="M340 877l6-1 6 1l6 5 7 9l30 48 44 48l4 12-1 8l-6 9-6 2l-6-1-12-7l-24-24-24-30l-24-38-8-15l-2-12 1-6l3-3zM338 879l-5 6-2 6l3 12 12 23l20 31 22 27l24 24 12 7l6 0 6-3l4-7 1-6l-1-6-3-6l-44-48-29-48l-6-7-6-5l-6-2zM568 1039l18-2 12 3l14 7 7 6l4 6 3 6l3 18 3 6l15 12 7 12l0 12-2 6l-4 6-8 8l-6 3-12 2l-6 0-12-3l-12-10-11-18l-25-12-7-6l-5-6-5-12l-1-12 1-6l3-6 8-10l6-4zM569 1041l-7 3-12 8l-8 13-2 6l1 12 5 12l10 10 12 6l12 4 5 4l6 12 4 6l9 7 6 2l12 1 12-2l6-3 5-5l4-6 3-12l-1-6-3-6l-5-6-15-12l-2-6-2-18l-3-6-11-11l-12-6-12-3l-12 1zM694 1359l6 1 5 5l1 6-28 84l-17 60 0 12l2 18-1 6l-4 10-8 8l-7 12-5 18l-5 30-10 36l-2 18 1 24l0 12-6 6l-6-3-6-9l-6-13-3-17l2-30-2-18l0-12 3-6l11-18 5-12l13-48 9-24l16-54 14-42l10-42 6-12l6-5zM686 1365l-4 5-3 7l-11 42-16 48l-14 48-10 25l-8 35-6 18l-16 24-2 6l0 12 3 18l-2 24 1 14l6 18 6 9l6 3 2-2l2-6-1-30l1-12 4-18l7-24 5-30l5-18 3-6l14-15 4-9l0-12-3-18l1-12 18-60l24-72 1-6l-3-6-6-2l-6 1zM472 2027l12 4 6 4l6 7 2 7l1 12-3 28l-4 20-7 24l-1 6 4 6l8 3 6 5l6 9 1 7l-2 78 5 66l-4 12-10 12l-1 6 2 6l12 18 18 24l9 9 18 11l36 16 18 11l9 7 5 6l0 6-2 9l-6 10-6-1l5-6 2-6l0-6-3-6l-35-24-29-14l-16-10-11-12l-29-42-2-6l2-6 14-14l3-10 0-12l-5-54 2-78l-1-6-5-9l-6-4-15-5l-2-6 1-12l10-39 3-33l-3-12-5-6l-7-4-6-1l-6 1 0-5zM435 2163l-3 78 0 12l4 24 12 60l5 18 7 13l42 59 6 6l9 6-3 0l-6-6-7 0l-47-65-6-13l-18-85-3-17l0-18 4-78l4 0zM526 2444l2 1-2 0l-3-3z" fill="#d7e8f1" stroke="#d7e8f1" stroke-width="1.2"/>
<path d="M334 879l6-4 6-1l6 2 6 4l8 11 30 48l45 48 3 6l2 6-1 6l-3 9-6 6l-6 2-6-2l-12-8-24-25l-25-30-23-37l-9-17-2-12l1-6zM336 879l-5 6-1 6l2 12 13 24l19 30 24 29l24 24 12 7l6 1 6-2l6-9 1-8l-4-12-44-48l-30-48-7-9l-6-5-6-1l-6 1zM580 1035l18 2 12 5l6 5 10 12l8 26 17 16l4 6 3 12l-2 12-3 6l-6 6-7 6l-12 4-12 0l-6-1-12-5l-11-10-6-12l-5-6-20-9l-11-9-4-6l-5-12-1-12l4-12 4-6l7-7 12-8zM562 1041l-6 4-6 4l-8 10-3 6l-1 6 1 12l1 6 9 12l13 10 19 8l11 18 12 10l12 3 12-1l12-4 6-5l6-9 2-6l0-12-7-12l-15-12-3-6l-3-18-7-12l-9-8-18-7l-18 0zM688 1356l6-1 6 0l6 4 3 6l0 6-12 30l-31 102-4 18l2 18-1 12l-5 11-11 13l-4 12-5 18l-4 24-9 30l-2 12 0 48l-1 4-6 4l-6-2-6-8l-6-12-3-10l-1-18 2-24l-2-18 1-12l3-8 9-16l5-12 14-48l40-126 10-40l6-12zM691 1359l-3 1-6 5l-6 12-10 42l-14 42-16 54l-9 24-13 48l-5 12-11 18l-3 6 0 12l2 18-2 30l3 17 6 13l6 9 6 3l6-6 0-12l-1-24 2-18l10-36 5-30l5-18 7-12l8-8 4-10l1-6-2-18l0-12 17-60l28-84-1-6l-5-5-6-1zM472 2024l6 0 6 3l12 9 5 7l3 12-1 18l-5 30-9 30l0 6 4 6l9 6 4 6l4 12-2 78l4 66-4 12l-7 12-1 6l6 12 22 30l10 11 6 5l24 12 37 14l17 11 6 6l2 7-1 6l-5 12-6 9l-2-2 6-10l2-9 0-6l-5-6-9-7l-18-11-36-16l-18-11-9-9l-18-24-12-18l-2-6 1-6l10-12 4-12l-5-66 2-78l-1-7-6-9l-6-5-8-3l-4-6 1-6l7-24 4-20l3-28-1-12l-2-7-4-5l-7-6-7-3l-6-1-6 1l0-4zM430 2157l1 0-4 78l0 18 3 17l18 85 6 13l47 65-11-12l-2 0-34-48l-7-12-5-16l-12-59-6-37l4-90z" fill="#dbeaf2" stroke="#dbeaf2" stroke-width="1.2"/>
<path d="M346 873l6 1 6 4l6 7 34 54l40 42 9 12l2 6 0 6l-2 6-5 10l-6 5-6-1l-12-6-24-23l-30-36-25-39l-9-18-2-13l0-5 6-8l6-3zM333 879l-3 6-1 6l2 12 9 17l24 38 24 29l24 25 12 8l6 2 6-2l6-6 3-9l1-6-2-6l-3-6-45-48l-30-48-8-11l-6-4-6-2l-6 1zM562 1035l6-3 12-1l18 2 12 6l6 4 10 10l7 12 5 18l19 18 5 12l0 12-1 6l-7 12-8 7l-12 6-12 2l-12-2-12-4l-12-9-12-19l-24-13-10-10l-7-12-1-6l0-12 2-12l10-13 12-9zM575 1035l-13 3-6 4l-8 5-9 12l-4 12 0 6l1 6 5 12l4 6 11 9l20 9 5 6l6 12 11 10l12 5 6 1l12 0 12-4l7-6 6-6l3-6 2-12l-3-12-4-6l-17-16-8-26l-10-12-6-5l-12-5-12-2zM688 1352l6-2 6 0l6 2 6 6l1 7-17 42l-29 96-4 18l2 24-1 6l-6 12-9 12l-7 18-17 78l0 48-3 7l-6 3-6-2l-6-7-6-11l-4-14-2-18l3-24-2-18l1-12 4-9l8-15 7-18l33-110 21-64l9-38 6-12zM684 1359l-2 2-6 12l-10 40-40 126l-14 48-5 12l-9 16-3 8l-1 12 2 18l-2 24 1 18l3 10 6 12l6 8 6 2l6-4 1-4l0-48 2-12l9-30 4-24l5-18 4-12l11-13 5-11l1-12-2-18l4-18 31-102l12-30 0-6l-3-6-6-4l-6 0-6 1zM472 2021l12 3 12 7l6 6 2 6l3 12 1 12l-6 36-3 12l-6 18-1 6l15 18 3 12l-2 78 5 66l-4 12-6 12l0 6 6 12l18 24 10 12l7 7 12 7l18 7 30 8l12 4 12 8l6 6 3 7l-1 6-8 17l-8 12-2-2l6-9 5-12l1-6-2-7l-6-6-17-11l-37-14-24-12l-6-5-10-11l-22-30-6-12l1-6 7-12l4-12-4-66l2-78-4-12l-4-6-9-6l-4-6 0-6l9-30 5-30l1-18-2-10l-5-8-6-6l-11-6-8-1l-6 0 0-2zM428 2163l-4 76 0 14l18 92 5 16l7 12 34 48l-3 0-31-43l-10-17-4-12l-16-81-2-15l-1-18 4-73l3-3z" fill="#e0ecf3" stroke="#e0ecf3" stroke-width="1.2"/>
<path d="M340 871l6 0 6 2l8 6 5 6l23 37 11 17l52 54 4 12l-4 18 3 9l12 11 42 30l6 4 2-6l6-36 4-7l7-5 17-3l12 0 24 4l18 7 18 11l10 11 5 6l8 18 18 18l10 18 4 18l1 12-2 17l-5 7-19 2l-24-2-47-12l-25-23-48-41l-43-32-27-24l-26-19-24-25l-24-29-15-23l-18-30-4-12l-1-12 3-6l5-4zM342 873l-8 4-3 2l-3 6 0 12l4 12 18 30l20 29 36 41l18 14 6 2l6 1 6-5l5-10 2-6l0-6-2-6l-9-12-40-42l-10-14-20-34l-9-12-7-5l-6-1zM560 1035l-4 2-12 9l-10 13-2 12l0 12 1 6l7 12 10 10l24 13 12 19l12 9 12 4l12 2 12-2l12-6 8-7l7-12 1-6l0-12-5-12l-19-18-5-18l-7-12-5-6l-11-8-18-7l-18-1zM700 1338l6 0 12 4l2 5-1 12l-17 36-29 90l-9 36 1 24l-1 6-2 6l-12 18-3 6l-17 72-4 24l0 42-4 9l-6 3-6-2l-6-6-6-11l-5-17-2-18l3-24-1-18l0-12 5-11l9-19 4-12l35-114 16-48l14-55 6-11l6-7zM686 1353l-4 4-6 12l-9 38-21 64l-33 110-7 18l-8 15-4 9l-1 12 2 18l-3 24 2 18l4 14 6 11l6 7 6 2l6-3 3-7l0-48 17-78l7-18 9-12l6-12 1-6l-2-24 4-18l29-96 17-42l-1-7-6-6l-6-2-6 0zM472 2019l12 2 7 4l11 8 6 10l3 18 0 12l-6 36-9 24l0 6 3 6l9 10 2 8l1 6-2 78l5 60-1 12l-8 18 0 6l3 6 32 42l10 8 18 9l18 5 12 1l42-5 30 3l33 0 3 3l6 0 5 6l-5 2-4 4l-8 2-9 4l-27 3-12 6l-12 12-18 27l-2-1 8-12l8-17 1-6l-3-7-6-6l-12-8-12-4l-30-8-18-7l-12-7-7-7l-10-12-18-24l-6-12 0-6l6-12 4-12l-5-66 2-78l-3-12-15-18l1-6 6-18l3-12 6-36l-1-12-3-12l-2-6-6-6l-9-6-9-3l-12 0 0-3zM425 2163l-4 72 1 18l2 15 16 81l2 6 6 13l37 53-1 0l-5-4-31-44l-7-12-5-18l-17-90 4-89l2-2z" fill="#e4eef4" stroke="#e4eef4" stroke-width="1.2"/>
<path d="M334 872l6-3 6 0l6 2 6 4l9 10 21 35l12 17 30 32l24 21 6 3l12-1 36-15l6 0 18 4l14 6 21 12l62 42 23 24l54 67 36 51l7 14 1 6l-2 2-24-6l-18 0-12 4l-18 11-6 2l-6-5-12-15l-18-14-30-13l-19-2-12-6l-53-50-69-58l-39-35-30-32l-27-35-19-30l-9-18-3-12l1-6 3-7zM336 873l-7 6-3 6l0 6 3 12l5 11 18 31l13 18 29 35l18 18 26 19l27 24 43 32l48 41 25 23l47 12 24 2l19-2 5-7l2-17-1-12l-4-18-10-18l-18-18-8-18l-5-6-10-11l-18-11-18-7l-24-4-12 0l-17 3-7 5l-4 7-6 36l-2 6-6-4l-42-30-12-11l-3-9 4-18l-4-12-52-54l-11-17-23-37l-5-6-8-6l-6-2-6 0zM772 1286l4 7 2 12l-1 12-6 24l-5 7-24 2l-12 6-12 12l-10 15-5 12l-25 78-12 42l-1 12 1 18l-1 6-2 6l-14 24-18 72l-4 30 1 36l-3 6-3 5l-6 2-6-1l-6-6-6-10l-7-20-1-18l3-24 0-30l4-12 9-18l6-18 34-112l15-44 13-54l11-24 3-18l6-3 24 2l12-2 6-3l12-7 11-11l7-8zM695 1341l-7 5-6 7l-6 11-14 55l-16 48-35 114l-4 12-9 19l-5 11 0 12l1 18-3 24l2 18 5 17l6 11 6 6l6 2 6-3l4-9 0-42l4-24 17-72l3-6 12-18l2-6 1-6l-1-24 9-36l29-90 17-36l1-12-2-5l-12-4-6 0zM472 2017l12 2 12 6l8 6 4 6l2 6 6 24l-6 42-4 12l-6 12-1 6l11 18 2 12l-2 78 4 66l-7 24 1 6l3 6 21 30l11 12 13 9l18 7 18 3l12-2 6-2l24-15 17-6l25-3 0 3l6 6 0 6l12 12 6 0l3 3-33 0l-30-3-42 5l-12-1-12-3l-18-8-16-11l-32-42-3-6l0-6 8-18l1-12-5-60l2-78-1-6l-2-8-9-10l-3-6 0-6l9-24 6-36l0-12-3-18l-6-10-11-8l-7-4-6-2l-12 0 0-2zM422 2169l-3 84 17 87l3 15 5 12l35 50-9-9l-24-35-7-12l-3-12-19-96l0-18 4-69l2-2zM715 2419l3 2 6 0l6 6 6 0l7 6-11 6l-18 6-26 4l-30 0-6 2l-6 3-6 5l-16 22-2 0l18-27 12-12l12-6 27-3l9-4 8-2l4-4 5-2z" fill="#e9f0f4" stroke="#e9f0f4" stroke-width="1.2"/>
<path d="M340 867l6 0 6 2l12 10 36 56l30 32 18 15l6 4 6 1l12-2 24-10l12-4 6 0l17 4 14 6l23 12 36 24l32 24 16 15l24 27 36 47l42 61 12 24l6 19 2 23l4 9 5 33l-1 18-4 25l-6 12-6 2l-12-1-12 1l-12 6-6 4l-12 14-8 15l-25 78-11 42l-2 12 0 18l0 6-3 6l-13 24-9 30l-12 60-1 18l1 24-1 10l-6 8-6 3l-6-1-6-5l-9-15-4-12l-2-24 2-24l1-30 15-36l38-126 16-48l10-42 9-30l2-27 2-3l4-1 24 5l12-1 12-4l7-5 12-12l7-12 7-24l0-6-2-6l-10-18-9-9l-12-8-12-4l-18 0-12 5l-18 13-6 2l-6-6-12-18l-6-6-12-9l-24-11-30-7l-12-8-54-51l-67-57-41-39l-18-19-24-30l-29-44-6-12l-5-12-1-12l1-6 4-5l6-5zM332 873l-5 6-2 6l0 12 5 12l25 42 27 35l30 32 39 35l69 58 53 50l12 6 19 2l30 13 18 14l12 15 6 5l6-2 18-11l12-4 18 0l24 6 2-2l-1-6-7-14l-36-51-30-39l-29-34-11-12l-14-11-55-37l-21-12-20-7l-12-3-6 0l-36 15-12 1l-6-3-24-21l-30-32-12-17l-21-35-9-10l-6-4-6-2l-6 0zM770 1287l-4 4-7 8l-11 11-12 7l-6 3-12 2l-24-2-6 3l-3 18-11 24l-13 54-15 44l-34 112-6 18l-9 18-4 12l0 30-3 24l1 18 7 20l6 10 6 6l6 1 6-2l3-5 3-6l-1-36 4-30l18-72 14-24l2-6 1-6l-1-18 1-12l12-42 25-78l5-12 10-15l12-12 12-6l24-2 5-7l6-24 1-12l-2-12-4-7zM472 2015l6 0 11 4l11 6 7 6l6 12 8 24l0 12-5 30l-4 12-8 12l-1 6 1 6l7 12 2 12l-3 78 5 66l-6 24 1 6l3 6 22 30l11 12 16 10l18 5 12 1l6-1 36-20l22-7 17-2l3 2 0 3l-25 3-17 6l-24 15-6 2l-12 2-12-1l-18-6-18-11l-12-13-21-30l-3-6-1-6l7-24-4-66l2-78-2-12l-11-18 1-6l6-12 4-12l6-42-6-24l-2-6-4-6l-8-6-12-6l-12-2-6 0l0-2zM420 2169l-2 54 0-37l1-18 2-2zM417 2229l1 30 19 96l5 11 4 7l24 35-8-8l-15-21-7-12l-4-11-20-97l-1-30 1-4l2-2zM736 2437l7-4 7 0l-8 6-14 6l-22 6-18 2l-30 0-6 2l-6 3-6 5l-13 18-3 0l16-22 6-5l6-3 6-2l30 0 24-3z" fill="#ecf2f5" stroke="#ecf2f5" stroke-width="1.2"/>
<path d="M334 865l6-2 6 1l12 7 12 14l24 39 11 15l25 26 18 14l12 4 6-1l12-3 24-11l12-1 10 2l29 12 21 12l36 24 32 24l13 12 27 31l36 48 42 61l6 10 7 18l5 18 9 60l-2 24-5 24l-2 7-6 7l-6 0-18-1l-12 3-12 6l-6 5-10 15l-22 66-17 60l-2 12-1 24l-2 7-13 23l-8 30-13 60l-1 18 1 24l-2 12-6 8l-6 2-6-1l-6-3-7-12l-7-18-2-24l3-24 1-30l14-36 38-126l17-48 9-42l7-30 0-24l1-12 4-5l6 1 18 7l12 1 12-3l11-7 11-12l5-12 3-18l-2-12-5-12l-11-12-12-7l-12-3-12 1l-9 3-9 6l-12 12-6 2l-6-7-10-19l-14-14-12-8l-24-10-24-5l-12-8-54-51l-69-60-39-37l-18-20-22-27l-13-18-16-24l-10-18-4-12l-2-12 1-6l2-6 4-4zM339 867l-5 2-6 4l-4 6-1 6l1 12 5 12l6 12 29 44l24 30 18 19l41 39 67 57l54 51 12 8l30 7 24 11l12 9 6 6l12 18 6 6l6-2 18-13l12-5 18 0l12 4 12 8l9 9 10 18l2 6 0 6l-7 24-7 12l-12 12-7 5l-12 4-12 1l-24-5-4 1l-2 3-2 27l-9 30-10 42l-16 48-38 126l-15 36-1 30l-2 24 2 24l4 12 9 15l6 5 6 1l6-3 6-8l1-10-1-24l1-18 12-60l9-30 13-24l3-6 0-6l0-18 2-12l11-42 25-78l8-15 12-14l6-4 12-6l12-1 12 1l6-2 6-12l4-25 1-18l-5-33-4-9l-2-23-6-19l-12-24-42-61l-36-47-24-27l-16-15-32-24l-36-24-23-12l-14-6-17-4l-6 0-12 4l-24 10-12 2l-6-1-6-4l-18-15-30-32l-36-56-12-10l-6-2zM472 2013l6 0 12 5l14 7 6 6l16 36 2 6l-1 18-4 18l-5 12-9 12l-3 6 1 6l5 12 1 12l-2 78 5 66l-6 24 4 9l30 41 6 5l12 7 18 5l12 0 6-2l28-17 16-6l28-5 3 3l-17 2-21 6l-37 21-6 1l-12-1-18-5l-16-10-11-12l-22-30-3-6l-1-6 6-24l-5-66 3-78l-2-12-7-12l-1-6 1-6l8-12 4-12l5-30 0-12l-8-24-6-12l-7-6-16-8l-12-2-6 0l0-2zM418 2169l-1 24-1-2l1-21zM415 2229l0 18 2 18l18 90-2-3l-1-3-18-90l-1-24 1-8l2-2zM437 2361l6 12 19 27l-8-8-12-18l-6-12 0-6zM748 2435l2-2 6 0l-8 6-12 6l-18 6-24 4l-30 1-12 2l-6 3-6 5l-11 15-2 0l13-18 6-5l6-3 6-2l30 0 17-2l23-6 14-6z" fill="#f0f4f6" stroke="#f0f4f6" stroke-width="1.2"/>
<path d="M328 852l12 4 12 7l12 11 8 11l28 45 24 27l18 16 12 6l6 0 12-1l24-11 12-3l6 0 18 5l26 12 21 12l19 12 42 30l18 17 24 27l36 47 42 61l12 21 6 14l6 26 6 51l0 18-7 30l-5 14-6 5l-24-3-18 6l-12 8-9 12l-18 54-20 66l-3 18-1 24l-2 6-13 24l-10 36-11 54l-1 18 1 24l-2 12-4 6l-3 3-6 2l-6 0-8-5l-7-12-4-12l-4-24 3-36l0-18 3-12l12-30 35-114l21-66 13-60l0-42 2-14l6-2 16 10l14 4 12-1l7-3 11-8l6-8 3-8l3-12 0-9l-2-9-4-9l-8-9-10-7l-12-3-12 1l-8 3-10 8l-12 15-6 1l-6-10-9-20l-9-12-6-5l-18-11-24-9l-18-4-11-7l-61-58-66-56l-42-42-18-20l-31-40-22-36l-8-18-3-18l4-23zM330 867l-6 6-2 6l-1 12 4 12l5 12 19 30l27 37 24 28l38 37 76 66l54 51 12 8l24 5 24 10l12 8 14 14l10 19 6 7l6-2 12-12l9-6 9-3l12-1 12 3l12 7 11 12l5 12 2 12l-3 18-5 12l-11 12-11 7l-12 3-12-1l-18-7-6-1l-4 5-1 12l0 24-7 30l-9 42-17 48l-38 126-14 36l-1 30-3 24l2 24 7 18l7 12 6 3l6 1 6-2l6-8 2-12l-1-24 1-18l13-60 8-30l13-23 2-7l1-24 2-12l17-60 22-66l10-15 6-5l12-6 12-3l18 1 6 0l6-7 2-7l5-24 2-24l-9-64-6-20l-6-12-18-29l-30-42-30-40l-33-39-20-18l-33-24-28-18l-21-12-29-12l-10-2-12 1l-24 11-12 3l-6 1-12-4l-18-14-25-26l-11-15-24-39l-12-14-12-7l-6-1-6 2zM472 2011l12 2 24 12l6 7 7 17l11 17 2 7l-1 18-3 18l-5 12-15 18l-1 6 4 12l1 12-2 78l5 60-1 12l-4 18 2 6l31 42 11 9l18 7 12 1l12-3 24-15l18-7 14-4l16-2 2 0l-2 3-24 4l-12 4-12 6l-24 14-6 2l-12 0-18-5l-12-7-6-5l-25-32-7-12l-2-6 5-18l1-12-5-60l2-78-1-12l-5-12-1-6l3-6 9-12l5-12 4-18l1-18-2-6l-16-36-6-6l-20-10-6-2l-12 0 0-2zM416 2175l0 16-2-1l0-3 1-15l2-2zM414 2229l0 30 15 78l-2-2-15-76l0-24 0-6l2-2zM431 2343l2 9-3-3l0-11zM438 2367l3 6-5-6l0-5zM445 2379l9 13-7-7l-5-8 0-3zM754 2435l2-2 4 0l-18 12-18 7l-26 5-34 1l-12 2-6 3l-6 6-9 12l-2 0 11-15l6-5 6-3l12-2 30-1l24-4 18-6z" fill="#f5f6f7" stroke="#f5f6f7" stroke-width="1.2"/>
<path d="M298 749l6 11 2 11l5 12 32 66l4 6 22 24l31 48 30 34l12 10 6 3l12 3 18-4l24-11 6-1l13 2 17 6l25 12 29 18l44 30 21 18l37 43 60 83l18 29 8 19l6 24 7 54l-2 24-7 33l-6 11-6 3l-24-3-12 2l-12 5-10 9l-7 12-21 66l-14 48-4 18l-1 24-2 6l-12 24-11 42l-10 48-1 18l1 24-2 12l-3 6-5 4l-6 2-7 0l-5-2-4-4l-7-12-3-12l-4-18 0-12l3-24 0-24l3-12 14-36l34-111 22-69l11-60-2-42l2-24-2-12l-1-2-3-10l-12-30-7-12l-5-6-9-7l-12-7-18-7l-24-6-12-8l-60-57-67-58l-37-36-22-25l-28-35-15-24l-14-24-5-12l-7-24-33-75l-1-9 1-6l13-24zM323 855l-5 18 2 18l6 18 10 18l20 30 32 41l17 19 37 36l66 56 61 58l11 7 18 4l24 9 18 11l6 5 9 12l9 20 6 10l6-1 12-15l10-8 8-3l12-1 12 3l10 7 8 9l4 9 2 9l0 9-3 12l-3 8-6 8l-11 8-7 3l-12 1-14-4l-16-10-6 2l-2 14 0 42l-13 60-21 66l-35 114-12 30l-3 12 0 18l-3 36 4 24l4 12 7 12l8 5 6 0l6-2 3-3l4-6 2-12l-1-24 1-18l11-54 10-36l13-24 2-6l1-24 3-18l20-66 18-54l9-12 12-8l18-6 24 3l6-5 5-14l7-30 0-18l-6-51-6-26l-6-14-12-21l-42-61-36-47l-24-27-18-17l-42-30-29-18l-23-12-20-8l-18-3-12 3l-24 11-12 1l-12-2-6-4l-12-10-24-26l-12-16-24-39l-12-14-12-8l-18-8zM702 1227l-9 6-8 12l-4 12-1 6l0 6 7 12l6 6 7 5l12 4 12-1l12-7 5-7l3-6 3-12l0-6-3-12l-3-6-4-6l-8-6-11-3l-6 0zM472 2009l12 2 28 14l4 6 10 21l7 9 4 6l1 6 0 23l-5 19-7 12l-12 12-2 6l3 24-2 78l5 60-1 12l-3 12 0 6l2 6 22 31l9 11 9 7l18 7 12 1l6-1 6-3l24-15 20-8l28-5 5 0l-3 3-18 2l-20 6-14 6l-22 14-6 2l-12 1-18-5l-10-6-7-6l-31-42-2-6l4-18 1-12l-5-60 2-78l-1-12-4-12l1-6 15-18l5-12 3-18l1-18-2-7l-11-17-7-17l-6-7-24-12l-12-2-6 0l0-1zM415 2175l-1 15-2-3l1-13 2-2zM412 2253l5 29-3-2l-2-14zM418 2289l9 46-2-2l-1-14-2-1l-1-5-3-17zM443 2379l4 6-5-6l0-2zM754 2438l6-5 3 0l-7 6-14 8l-12 5-18 5l-24 3-30 1l-6 1-11 7l-8 12-2 0l9-12 6-6l6-3 12-2l30 0 18-3l14-4 16-6z" fill="#f7f5f4" stroke="#f7f5f4" stroke-width="1.2"/>
<path d="M322 602l1 1 0 6l-1 8-4 4l0 6-2 40l-2 2-2 6l-2 36-4 12l-1 18 2 18l6 18 34 72l9 12 15 18l29 45 30 35l12 10 6 3l12 2 12-2l30-12 12 0l12 3 30 12l21 12 28 18l42 30 13 12l28 31 36 48l30 42 18 29l6 12 7 18l5 24 4 36l1 18-2 24l-8 30-7 13l-6 2-24-4l-18 3-6 3l-9 7-7 12l-23 72-12 42l-4 18-1 24l-2 6-12 24l-11 42-7 30l-4 24 1 36l-2 12-3 7l-6 5-6 2l-12-2-6-6l-8-18-5-30l3-36 1-18l2-12 14-36l34-114 21-60l2-12 9-54l-4-72-5-24l-9-24-7-12l-6-7-12-8l-12-5-18-7l-18-5-8-4l-64-60-75-66l-33-33-18-20l-33-43-23-36l-5-12-9-24l-32-69-5-15l-1-6 4-12l11-18 6-12l3-11 3-7l3-24 2-6l1-6 3-28l1-2 2-6l3-46zM296 753l-16 30-1 6l1 9 33 75l7 24 5 12l14 24 15 24l28 35 22 25l37 36 67 58l60 57 12 8l24 6 18 7l12 7 9 7l5 6 7 12l12 30 3 10l1 2 2 12l-2 24 2 42l-11 60-22 69l-34 111-14 36l-3 12 0 24l-3 24 0 12l4 18 3 12l7 12 4 4l5 2 7 0l6-2 5-4l3-6 2-12l-1-24 1-18l10-48 11-42l12-24 2-6l1-24 4-18l14-48 21-66l7-12 10-9l12-5 12-2l24 3 6-3l6-11 7-33l2-24-7-54l-6-24-8-19l-18-29-60-83l-37-43-21-18l-44-30-29-18l-25-12-17-6l-13-2-6 1l-24 11-18 4l-12-3-6-3l-12-10-30-34l-31-48-22-24l-4-6-37-78l-2-11-3-7l-3-4zM706 1226l12-2 12 4l6 4 5 7l5 12 1 12l-5 17-6 8l-12 7-12 1l-12-4-7-5l-6-6-7-12l0-6 1-6l7-16 6-8zM472 2007l12 3 22 9l9 6 4 6l7 15 12 15l3 12-1 24l-3 18-6 12l-16 18 1 24l-3 78 5 60l-2 30 2 6l26 36 6 6l12 8 12 4l12 1 6-2l30-18 18-7l30-5 4-1l2 2-1 1l-23 3-18 5l-18 8-21 13l-9 3-6 0l-18-5-15-10l-9-11-22-31l-2-6 0-6l3-12 1-12l-5-60 2-78l-3-24 2-6l12-12 7-12l5-19 0-23l-1-6-4-6l-7-9-10-21l-4-6-28-14l-12-2-6 1l0-2zM413 2175l-1 13 0-13l1-1zM413 2271l1 9-2-3l0-11zM419 2301l3 17-3-5l-1-8 0-9zM425 2331l0 2-1-2l0-5zM760 2436l3-3 3 0l-6 6-12 7l-12 6-18 5l-24 4-30 1l-12 2-6 4l-6 6-6 7l-1 0 8-12l11-7 6-1l30-1 24-3l18-5 12-5z" fill="#f8f2ef" stroke="#f8f2ef" stroke-width="1.2"/>
<path d="M316 603l6-5 6 5l-5 18-7 63l-8 51 0 12l3 18 39 84l4 6 19 24l27 42 30 36l12 10 6 3l6 1 12 0l12-3 18-9l6-2 12 1l18 5 27 12l21 12 37 24l34 24 12 12l32 36 53 73l18 27 12 20l9 24 5 24l6 48-2 28l-8 32-4 10l-6 8-6 1l-24-5-18 2l-6 3-6 4l-9 13-23 72l-12 42-4 18l-1 24-2 6l-12 24-11 42l-7 30-4 24l1 36-2 12l-4 8-6 5l-6 2-12-1l-6-4-6-10l-3-12-5-30l4-36 0-18l2-12 14-36l34-114 17-48l7-24 7-42l0-12-4-66l-5-30-9-24l-5-10-8-8l-16-10-24-9l-18-5-10-6l-68-64-71-62l-31-31-18-21l-34-44-23-36l-45-99-7-15l-1-12 3-12l14-24 7-18l4-18 7-42zM320 603l-4 8-3 46l-2 6-1 2l-3 28-1 6l-2 6-3 24l-3 7-3 11l-6 12-11 18l-4 12 1 6l5 15 32 69l9 24 5 12l23 36 33 43l18 20 33 33l75 66 64 60l8 4 18 5l18 7 12 5l12 8 6 7l7 12 9 24l5 24 4 72l-9 54-2 12l-21 60-34 114l-14 36-2 12l-1 18-3 36l5 30 8 18l6 6 12 2l6-2 6-5l3-7 2-12l-1-36 4-24l7-30 11-42l12-24 2-6l1-24 4-18l12-42 23-72l7-12 9-7l6-3 18-3l24 4 6-2l7-13 8-30l2-24-1-18l-4-36-5-24l-7-18-6-12l-18-29-30-42l-36-48-28-31l-13-12-42-30l-28-18-21-12l-30-12-12-3l-12 0-30 12l-12 2-12-2l-6-3-12-10l-30-35-29-45l-15-18-9-12l-34-72-6-18l-2-12 1-18l1-12 3-6l2-36 2-6l2-2 2-46l4-4 1-8l0-6-1-1zM472 2006l6 0 12 5l21 8 9 6l8 18 10 12l3 6 3 9l0 21-4 24l-2 7-6 11l-12 12-3 6l-3 96 5 60l-2 24 3 10l30 41 12 9l12 4 12 0l6-1 24-16l18-9 24-5l13-1 3 2l-22 3-18 5l-12 5-30 18l-12 2-6-1l-12-4-12-8l-6-6-26-36l-2-6 2-30l-5-60 3-78l-1-24 16-18l6-12 3-18l1-24-3-12l-12-15-7-15l-4-6-9-6l-22-9-12-3l-6 1 1-2zM796 2031l6-5 6 1l5 4 1 6l-6 7-6 0l-6-6zM418 2307l2 8-2-2zM760 2439l6-6 2 0l-15 12-12 6l-17 7-30 5l-30 1-12 2l-6 4-10 11l-2 0 10-12l8-5 12-2l30-1 24-4l19-6 13-6z" fill="#f9efe9" stroke="#f9efe9" stroke-width="1.2"/>
<path d="M400 553l2 2-2 6l0 1-6 0l0-2zM322 596l6 1 2 6l-6 18-2 28l-11 74-1 18l1 18 7 18l35 72 8 12l14 18 25 39l30 36 10 9l8 5 6 1l12 0 12-3l17-9 7-1l18 2 30 11l23 12 38 24l42 30 13 12l31 36 57 78l24 37 6 13l6 17 3 17l5 36 2 24l-2 24-8 32l-6 14-6 6l-6 2-24-7l-18 1-6 2l-6 5-8 11l-23 72-14 48l-2 12-2 24l-2 6-11 24l-11 42-7 30l-4 24 1 36l-2 12-5 9l-6 5-6 2l-12-1-6-2l-6-7-8-36l-1-12 0-12l4-24 0-18l3-12 15-42l32-108 19-54l6-24 5-36l1-18-6-66l-6-30-4-12l-5-12-11-12l-14-8-24-10l-18-5-12-7l-66-63-72-63l-36-36-18-22l-34-44-21-36l-23-47-24-54l-4-13 0-6l2-12 15-24l7-18 12-72l7-54 3-9zM315 603l-8 72-7 42l-4 18-7 18l-14 24-3 12l1 12 7 15l45 99 23 36l34 44 18 21l31 31 71 62l68 64 10 6l18 5 24 9l16 10 8 8l5 10 9 24l5 30 4 66l0 12-7 42l-7 24-17 48l-34 114-14 36l-2 12 0 18l-4 36 5 30l3 12 6 10l6 4 12 1l6-2 6-5l4-8 2-12l-1-36 4-24l7-30 11-42l12-24 2-6l1-24 4-18l12-42 23-72l9-13 6-4l6-3 18-2l24 5 6-1l6-8 4-10l8-32 2-28l-6-48-5-24l-9-24-12-20l-18-27-53-73l-32-36-12-12l-34-24-37-24l-21-12-27-12l-18-5-12-1l-6 2-18 9l-12 3-12 0l-6-1-6-3l-12-10-30-36l-27-42-19-24l-4-6-39-84l-3-18 0-12l8-51 7-63l5-18-6-5zM472 2004l12 2 36 15l5 4 7 18l12 17 2 7l1 24-4 24l-5 14-6 9l-12 13-1 6l-4 90 5 60l-1 24 1 6l30 42 12 9l12 5 12 0l6-2 30-21l12-5 12-3l18-2 4 0l3 3-19 2l-18 4-18 9l-24 16-6 1l-12 0-12-4l-12-9-30-41l-3-10 2-24l-5-60 3-96l3-6 12-12l6-11 2-7l4-24 0-21l-3-9-3-6l-10-12-8-18l-9-6-27-11l-6-2-11 0l2-2zM796 2025l6-3 6 1l6 3 3 5l0 6-3 8l-6 4-6 0l-8-6-3-6l0-6zM796 2031l0 7 6 6l6 0 6-7l-1-6-5-4l-6-1zM766 2436l2-3 3 0l-15 12-11 6l-15 6-26 6l-46 4-6 1l-6 4-8 9l-2 0 10-11l6-4 12-2l30-1 30-5l24-10z" fill="#f9ede5" stroke="#f9ede5" stroke-width="1.2"/>
<path d="M412 528l6-2 1 5l-1 6-12 24l-6 6-6 1l-6-1-1-6l7-11 12-17zM398 555l-4 5 0 2l6 0 0-1l2-6-2-2zM316 597l6-3 6 1l4 2 0 6l-7 18-3 39l-10 69-1 18l2 12 42 90l23 30 26 42l31 36 13 8l6 2 12 0l12-4 12-6l12-3 12 1l9 2 30 12l22 12 47 30l34 24 12 12l32 36 54 74l25 40 6 12l7 18 4 24l5 36 1 18l-2 24-9 36l-7 15-6 6l-6 1-24-8l-18 0-6 2l-6 4-7 10l-23 74-12 42l-4 16-2 24l-2 6-11 24l-13 48-9 48l1 36-2 12l-3 6-3 5l-6 4-6 2l-18-1-7-4l-8-42-1-12l1-12 6-54l9-24 40-132l17-48 6-24l5-36 0-18l-6-66-6-30l-3-12-5-10l-6-8-6-6l-12-7-42-15l-12-6-66-64l-72-63-36-36l-18-21-31-40l-26-42-21-42l-24-54-6-18l-1-6 3-12l18-30 6-18l12-72 4-42l2-12zM319 597l-3 3-3 9l-7 54-12 72l-7 18-15 24l-2 12 0 6l4 13 24 54l23 47 21 36l34 44 18 22l36 36 72 63l66 63 12 7l18 5 24 10l14 8 11 12l5 12 4 12l6 30 6 66l-1 18-5 36l-6 24-19 54l-32 108-15 42l-3 12 0 18l-4 24 0 12l1 12 8 36l6 7 6 2l12 1 6-2l6-5 5-9l2-12-1-36l4-24 7-30l11-42 11-24l2-6 2-24l2-12 14-48l23-72 8-11l6-5 6-2l18-1 24 7l6-2 6-6l6-14 8-32l2-24-2-24l-5-36-3-17l-6-17-6-13l-24-37-57-78l-31-36-13-12l-42-30-38-24l-23-12-30-11l-18-2-7 1l-17 9-12 3l-12 0-6-1l-8-5-10-9l-30-36-25-39l-14-18-8-12l-35-72-7-18l-1-18 1-18l11-74 2-28l6-18-2-6l-6-1zM730 1502l0 7-6 2l-1-2 1-5zM688 1995l12-2 12 2l9 6 4 6l4 12-1 6l-4 12-7 6l-11 5-12 0l-11-5-7-8l-3-10-1-6l3-12 4-6zM472 2002l12 3 18 7l26 7 4 6l3 12 10 18l3 12 1 24l-2 18-3 12l-6 14-15 16l-3 13-3 83l5 60 0 24l2 6 14 18l10 18 5 6l9 7 12 5l6 0 6-1l10-5 32-28l12-4 6 0l18 3 4 4l-22 2-12 3l-12 5-30 21l-6 2-12 0l-12-5-12-9l-30-42-1-6l1-24-5-60l4-90 1-6l12-13 6-9l5-14 4-24l-1-24-2-7l-12-17-7-18l-5-4-36-15l-6-1-9-1zM802 2019l6 0 6 4l6 8 1 6l-2 6-5 7l-6 2-6 0l-7-3-6-6l-2-6 1-6l3-6 5-4zM795 2025l-4 6 0 6l3 6 8 6l6 0 6-4l3-8 0-6l-3-5-6-3l-6-1zM766 2438l5-5 1 1l0 1-13 10l-17 9-24 8l-14 1 20-4l18-6 14-8zM652 2468l12-2 28-1l-2 1-26 2l-10 1-8 5l-6 7-2 0l5-6z" fill="#fae9df" stroke="#fae9df" stroke-width="1.2"/>
<path d="M406 518l6-3 6 1l6-1 1 4l-1 10-6 15l-12 20-6 5l-6 2-6-1l-5-3 2-6l12-24zM407 531l-13 19-7 11l1 6 6 1l6-1 6-6l12-23 1-7l-1-5-6 2zM316 596l6-3 6 0l7 4-1 6l-6 12-2 12l-4 42-10 66l0 12 2 12l43 90 23 30l26 41 26 31l10 9 6 3l6 2 12 0l12-4 12-6l12-3 12 1l12 4 17 6l25 12 39 24l45 31 13 11l29 32 36 47l30 42 18 29l10 18 6 18l4 18 5 36l1 24-3 30l-10 36-7 14l-6 6-6 1l-24-10-12-2l-6 0-6 2l-6 5-5 8l-19 57-18 62l-3 13-2 24l-13 30-13 48l-9 48 1 36l-2 12-2 6l-5 6-6 4l-6 2-18 2l-6 1-5-3l-1-24-4-30l0-18 6-54l16-44 33-112l18-48 5-24l5-36 0-18l-6-60-6-36l-6-18-7-10l-6-6-12-7l-42-15-12-7l-60-58-68-59l-43-42-16-18l-37-48-20-30l-14-27 0-3l-6-8-30-66l-6-16-2-12l2-12 19-30l6-18 8-48l8-72 2-6zM315 597l-3 6-2 12l-4 42-12 72l-6 18-18 30l-3 12 1 6l6 18 24 54l21 42 26 42l31 40 18 21l36 36 72 63l66 64 12 6l42 15 12 7l6 6 6 8l5 10 3 12l6 30 6 66l0 18-5 36l-6 24-17 48l-40 132-9 24l-6 54-1 12l1 12 8 42l7 4 18 1l6-2 6-4l3-5 3-6l2-12-1-36l9-48 13-48l11-24 2-6l2-24 4-16l12-42 23-74l7-10 6-4l6-2 18 0l24 8 6-1l6-6 7-15l9-36 2-24l-1-18-5-36l-4-24-7-18l-6-12-25-40l-54-74-32-36l-12-12-34-24l-47-30-22-12l-30-12-9-2l-12-1-12 3l-12 6-12 4l-12 0-6-2l-13-8-31-36l-26-42-23-30l-42-90-2-12l1-18 10-69l3-39 7-18l0-6-4-2l-6-1zM724 1497l6-3 3 3l3 6-1 6l-5 6-7 0l-4-6zM724 1503l-1 6 1 2l6-1 0-8zM688 1989l12-2 13 2l11 6 6 6l3 6 3 12l-1 12-7 12l-10 8-12 4l-12 0-6-1l-12-8-7-9l-3-12 2-18l2-6 6-6zM687 1995l-8 6-4 6l-2 6 0 12l3 10 7 8l11 5 12 0l11-5 7-6l4-12 1-6l-4-12-4-6l-9-6-12-2zM478 2001l24 9 12 3l12-2 6-5l6 0 0 19l2 12 8 18l3 12 1 24l-5 30-8 18l-13 15-2 3l-4 24-2 72l5 54 1 18l2 9 6 6l6 3 6-1l12-11 18-6l24-3 30 1l12 3 12 4l0 7 6 6l0 6 6 7l-24-3-12 4l-32 28-10 5l-6 1-12-2l-8-4-7-6l-5-6-14-24l-8-9-4-9l0-24-5-60l3-83 3-13l15-16 4-8l4-12 3-30l0-12-2-12l-3-8-9-16l-3-12-4-6l-26-7-18-7l-13-3 1-2zM548 2361l2 8 7 10l9 6 8 3l6 0 10-3l7-6 5-6l0-6-4-3l-6-2-36-6l-6 0zM794 2018l2 1 2-2l4-1 6 1l6 2 6 6l3 6 0 6l-1 6-3 6l-5 5-6 2l-6 0-6-2l-7-5-4-6l-1-6 0-6l3-6zM800 2019l-4 2-5 4l-3 6-1 6l2 6 6 6l7 3 6 0l6-2 5-7l2-6-1-6l-6-8-6-4zM754 2067l6 1 7 11l5 20 0 9l0 7-12 12l-18 0-4 4l0-22 3-24l7-14zM772 2435l0-1 1 1l-7 7-18 11l-24 9-12 1l18-4 18-7l12-7zM658 2468l32-2-1 2l-31 2-11 5l-5 6-2 0l6-7 6-4z" fill="#fbe6da" stroke="#fbe6da" stroke-width="1.2"/>
<path d="M406 507l6-5 6 7l12-3 0 11l-6 18-6 13l-13 19-5 4l-6 2-12-1l-2-5 17-36zM405 519l-8 18-12 24l-2 6 5 3l6 1 6-2l6-5 12-20l6-15 1-10l-1-4-6 1l-6-1-6 3zM322 591l6 0 11 6l-10 18-2 12l-5 50-9 58l1 18 4 12l37 78 7 12l20 24 22 36l31 36 7 7l6 3 6 2l12 0 12-4l12-5 12-3l12 1 17 5l28 12 21 12l65 42 16 12l12 12 32 36l61 84 21 36l7 18 5 18l7 48 0 24l-3 24-10 36l-3 10-6 10l-6 5-6 1l-29-14-13-1l-6 2-6 5l-6 11-24 75l-12 43-5 33l-13 34-12 46l-9 46 1 36l-2 12-2 6l-5 6-7 5l-18 4-9 3l-6 12-3 27l-3 9-3 26l-3 10-3 22l-3 8-3 21l-4 9-11 48l-6 30-5 54l2 12 7 18l3 12 0 30l-2 18-6 18l-7 12-13 15l-4 15-3 72l7 78 6 8l6 0 18-10l18-6 24-3l23-1 31 5l0 12-12-4l-12-3-30-1l-24 3-12 4l-6 3-12 10l-6 1-6-3l-6-6-2-9l-1-18-5-54l2-72 4-24l2-3 13-15l8-18 5-30l-1-24-3-12l-8-18-2-12l0-19-6 0l-6 5-12 2l-12-3-18-7l-12-3 0-2l6 1 24 9l12 2 9-3l6-6 4-12l11-49 14-53l18-96 5-36l3-36-4-42l6-54 24-72l26-90 18-48l6-24 3-36l0-18-6-66l-6-30-6-18l-5-8-6-6l-12-7-42-16l-12-7-60-58l-69-60-43-42l-16-18-38-48l-22-36-10-18l0-3 14 27l20 30 37 48l22 24 37 36l68 59 60 58l12 7 18 6l30 12 12 10l6 8 3 8l5 18 5 30l6 60-1 24l-4 30-4 18l-19 54-33 112l-17 50-6 60l5 36 0 18l1 6 5 3l30-5 6-4l5-6 2-6l2-12-1-36l9-48 13-48l13-30 2-24l3-13 18-62l19-57 5-8l6-5 6-2l6 0 12 2l24 10 6-1l6-6 6-10l11-40 3-24l-1-24-6-48l-5-18-7-18l-25-41-58-79l-31-36-12-12l-25-18-56-36l-22-12-28-12l-14-4-12-1l-12 3-12 6l-12 4-12 0l-6-2-6-3l-10-9-32-39l-20-33-23-30l-38-78-6-18l-1-12 1-12l9-60 4-42l2-12 6-12l1-6-7-4l-6 0-6 3l-5 7-2 6l-8 72-8 48l-6 18-16 24l-4 12-1 6l2 12 12 30l27 57-5-4l-28-62-8-21l-1-12 3-14l14-22 8-18l4-18 6-36l10-78 6-9zM730 1489l6 2 3 6l1 6-1 6l-4 6-5 2l-6 0-5-2l-1-2-1-4l1-6 6-10zM724 1497l-5 12 4 6l7 0 5-6l1-6-3-6l-3-3zM694 1983l13 0 17 6l8 6 5 6l4 12 1 18l-3 12-3 5l-11 7-19 7l-6 0-12-2l-12-6-6-5l-4-6-4-12l0-18 2-12l4-6 7-6zM686 1989l-10 6-6 6l-2 6-2 18l3 12 7 9l12 8 6 1l12 0 12-4l10-8 7-12l1-12-3-12l-3-6-6-6l-11-6-13-2zM790 2017l2-2 2 3l-7 7-3 6l0 6 1 6l5 7 6 4l6 2 6 0l6-2 5-5l3-6 1-6l0-6-3-6l-6-6-6-2l-6-1-4 1l4-4 6 1l10 5 5 6l2 6 0 12l-2 6-6 6l-3 0-6 5l-6 0-6-2l-6-3-6-6l-3-6-1-12l2-6zM748 2055l6-2 6 2l7 6 5 9l3 9 3 13l0 11-6 5l-2-17-4-15l-6-8-7-1l-5 4-7 14l-3 24 0 22l-2 2-5 0l0-24 3-24l7-24zM550 2356l6 0 42 8l4 3 0 6l-5 6-7 6l-4 2-6 1l-12-2-11-7l-5-6-3-6l-1-6zM557 2367l0 6 5 6l12 6 6 0l6-2 5-4l2-6-7-5l-6-1-18-2zM772 2437l1-2 2 1l-3 3-18 13l-24 10-6 1l-5 0 17-5l15-7 11-6zM664 2469l25-1-1 2l-30 2-8 3l-6 6-2 0l4-4 6-5z" fill="#fbe3d4" stroke="#fbe3d4" stroke-width="1.2"/>
<path d="M406 348l1 9-1 6l-2-12zM412 367l0 10-1-8zM412 482l3 13 3 6l6 2 12-6l0 7-12 35l-6 12-12 17l-8 5-22 2l-2-2 23-48l9-28 4-8zM405 507l-8 24-17 36l2 5 12 1l6-2 5-4l13-19 6-13l6-18 0-11l-12 3-6-7zM322 590l11 1 11 6l-4 4-6 8l-5 12-15 114l0 12 3 12l43 90 24 30l22 35 30 36l12 9 6 2l12 0 6-1l18-8 12-2l12 1 18 5l30 13 20 12l65 42 16 12l12 12 32 36l61 84 21 36l7 18 5 18l7 48 0 24l-3 24-9 37l-6 15-6 10l-6 7-6 1l-6-3-16-13l-14-5-6-1l-6 2-6 6l-6 12-24 75l-12 44-4 29l-14 36-12 49l-8 41 1 36l-1 12-3 6l-7 9-6 3l-22 6-5 6l-21 117-15 57l-7 36-5 42l-1 18 1 12l7 18 3 18l1 18-2 18l-5 24-6 12l-13 14-6 9l-2 13-3 66l5 55 3 17l3 5 6 0l18-8 18-5l20-4 22-1l18 1 18 3l0 8-30-5l-18 0-18 2l-24 6-24 12l-6 0-6-8l-7-78 3-72l4-15 13-15l7-12 6-18l2-18 0-30l-3-12-7-18l-2-12 5-54l6-30 11-48l4-9 3-21l3-8 3-22l3-10 3-26l3-9 3-27l6-12 9-3l18-4 7-5l5-6 2-6l2-12-1-36l9-46 12-46l13-34 5-33l12-43 24-75l6-11 6-5l6-2 13 1l29 14 6-1l6-5 6-10l3-10 10-36l3-24 0-24l-7-48-5-18l-7-18-21-36l-61-84-32-36l-12-12-16-12l-65-42-21-12l-28-12-17-5l-12-1-12 3l-12 5-12 4l-12 0-6-2l-6-3-7-7l-35-42-18-30l-20-24-7-12l-37-78-4-12l-1-18 9-58l5-50 2-12l10-18-11-6l-6 0-6 3l-6 9-9 72l-8 48-5 18l-6 12-12 18l-5 12 0 12l3 11 12 29l22 49-4-4l-30-70-4-15l-1-6 1-6l4-11 16-25l5-12 4-18l7-42 9-72l2-6 5-5zM310 897l13 24 19 30l38 48 16 18l43 42 69 60l60 58 12 7l42 16 14 9l5 6 7 12l6 24 4 30l6 60-1 18l-4 36-5 18l-18 48-38 126l-11 30-7 60l4 48-8 66l-17 90-15 59l-11 49-4 12l-6 6-3 2l-6 1-12-2l-24-9-6-1l0-2 12 3l18 8 12 1l6-3 4-4l6-12 8-39l20-81 13-72l11-78-3-42l6-54 25-75l27-93 16-42l6-24 3-36l0-18-10-84l-6-24-6-12l-6-6-12-8l-42-16-12-6l-61-60-69-60l-43-42-16-18l-38-48-23-36l-8-15zM730 1483l6 0 6 5l3 9-1 6l-2 6-3 6l-9 4-6 0l-8-4-1-6l3-12 6-9zM726 1491l-2 2-6 10l-1 6 2 6l5 2 6 0l5-2 4-6l1-6-1-6l-3-6-6-2zM682 1982l12-3 12 0l12 3 14 7l7 6 8 12l4 24 2 6l7 5 12 5l3-16 2-6l3-6 9-7l3 3-5 4l-5 6-2 6l1 12 3 6l6 6 6 3l6 2 8-1l-2 2-6 0l-4 3-14-5l-5 2 4 19l-5 5 0 7l-5-19-7-13l-6-5-6-2l-8 2-5 6l-7 24-3 24l0 24-7 0l0-30 3-30l-2-6-7 0l-18 2-18-3l-6-3-10-8l-5-6-2-6l-1-12 1-30l2-6 6-6zM692 1983l-17 6-7 6l-4 6-2 12l1 24 7 12l12 9 12 4l6 0 12-2l18-7 5-4l4-6 3-18l-1-12-4-12l-5-6-8-6l-17-6zM808 2013l6 1 11 10l3 7 0 12l-1 5-7 7l-3 0 6-6l2-6 0-12l-2-6-5-6l-10-5-6-1zM736 2175l6 6 6 0l11 12-5 0l-6-2-10-10l-4-6zM562 2365l12 1 12 2l7 5-2 6l-11 6-6 0l-6-3-6-3l-5-6 0-6zM573 2373l0 6 7 0zM775 2436l1 1-4 4l-18 12-18 8l-7 2-5 0l18-6 12-5l10-7zM652 2474l12-3 24-1l2 1-32 3l-6 3-6 5l-2-1z" fill="#fcdfcf" stroke="#fcdfcf" stroke-width="1.2"/>
<path d="M484 249l6-1 0 1l0 2-6-1zM514 317l1 4-1 11l-2-5zM508 338l1 7-1 33zM406 342l6 13 9 44l3 6 2 18l-2 23-2-5l1-18-2-12l-3-6-4-12l-8-20-6-22l1-6zM404 351l2 12 1-6l-1-9zM411 369l1 8 0-10zM418 450l1 3-2 30l2 12 5 4l6-2 8-8l4-4 1 4l-19 53-12 20l-6 8-5 3l-19 3-12 5l-5-2 5-4l8-14 15-30l15-48 4-14l2-4zM411 483l-1 6-4 8l-9 28-23 48l2 2 22-2l8-5 12-17l6-12 12-35l0-7-12 6l-6-2-3-6zM358 585l6-4 1 4l-7 3-1-3zM316 591l6-2 18 2l12-2 4 2l-4 2-12 11l-6 7-4 10l-15 114 1 12l2 12 43 90l25 30 20 31l28 35 14 12l6 2 12 0l24-9 12-2l12 2 18 5l20 8 23 12l66 42 25 18l28 30 15 18l57 78 16 24l10 18 7 18l4 18 7 48l1 24-3 24l-12 42-12 28l-12 17-6 5l-6-10-3-10l-6-12-7-6l-8-3-6-1l-6 2-6 6l-6 13-24 76l-12 45-3 24l-12 30-15 60l-7 36 1 36l-1 12-3 6l-8 10-6 3l-18 5-6 6l-3 6-15 92l-6 30-15 58l-5 30-5 54l2 12 10 30l2 24-2 30l-1 12-3 6l-8 12-17 17l-4 7-2 12l-2 66 2 26l6 33 6 3l18-7 18-4l24-3 18-1l18 0 22 3l-4 4 0 3l-24-3-30 0l-30 5-12 4l-18 8-6 0l-3-5-3-17l-5-55 3-66l2-13 6-9l13-14 6-12l5-24 2-18l-1-18-3-18l-7-18-1-12l1-18 5-42l7-36 15-57l21-117 5-6l22-6 6-3l7-9 3-6l1-12-1-36l8-41 12-49l14-36 4-29l12-44 24-75l6-12 6-6l6-2 6 1l14 5 16 13l6 3 6-1l6-7 6-10l6-15 9-37l3-24 0-24l-7-48-5-18l-7-18-21-36l-61-84-32-36l-12-12-16-12l-65-42-20-12l-30-13-18-5l-12-1-12 2l-18 8-6 1l-12 0-6-2l-6-4-10-10l-30-36-18-30l-24-30-41-84l-4-12-1-18l15-114 5-12l6-8 4-4l-4-3-7-3l-11-1-6 2l-6 9-2 8l-8 66-10 54l-6 18-16 24l-4 12 0 12l3 12 7 19l24 54-3-4l-27-62-5-13l-1-12 0-6l4-12 17-24l6-18 11-60l8-66 2-6zM311 903l3 4-4-4l0-3zM318 915l23 36 38 48l16 18 43 42l69 60 61 60l12 6 42 16l12 8 6 6l6 12 6 24l4 24 6 66l0 18-4 36l-5 18-18 48l-31 106-17 50l-3 12-5 48l3 42-12 84l-12 66-20 81l-8 39-6 12l-4 4-6 3l-12-1-18-8l-12-3 0-4l30 12 12 1l6-3 4-7l4-12 29-126l12-66 12-72l-3-42 6-54l26-78 26-90l16-42 6-22l3-32 0-24l-9-79-7-29l-5-9-6-7l-12-8-42-17l-12-6-69-67l-69-60-37-36l-16-18-38-48l-17-27 0-3l-5-6-1-4zM742 1471l6-2 4 4l1 6-1 12l-6 18-3 6l-7 5-6 1l-6 0-6-2l-4-4-1-6l5-15 6-10l6-6zM727 1485l-3 3-6 9l-3 12 1 6l8 4 6 0l9-4 3-6l2-6-1-12l-3-6-4-2l-6 0zM688 1977l18-1 18 4l12 6 12 9l18 18 6 0l12-5 5 4l-9 7-3 6l-2 6-3 16l-12-5-7-5l-2-6-3-18l-4-12-5-6l-7-6-8-5l-18-5-18 1l-10 3-8 5l-9 7-2 6l-1 6 0 30l1 6 5 10l6 6 12 7l18 3 24-2l1 0 2 6l-3 30 0 30l-17 17-6-11l-1-3-3-3l-3-6-5-6l-1-5-3-1l-3-6-12-1l-12-4-12-2l-6-5-5-6l5-6 12-43l2-17-1-24l1-6 4-6l10-6zM825 2024l5 5 1 8l0 6-4 5l2-11-1-6zM784 2059l14 5-2 3l-6 0-6 6l0 6-1 1l-4-19zM730 2175l4 0 8 11l6 5 6 2l5 0 7 6l0 3-6 2l-6 0-6-3l-6-4-10-10l-8-12zM574 2373l6 6-7 0zM776 2437l1 1-1 1l-16 12-18 9l-9 3-4 0l13-4 15-8l9-6zM658 2474l32-3 1 2l-31 2-8 4l-4 5-2-3l6-4z" fill="#fddcc9" stroke="#fddcc9" stroke-width="1.2"/>
<path d="M484 247l6-1 2 3l-2 6-6-1l-2-5zM483 249l7 2 0-2l0-1zM520 302l1 1 0 6l-6 24-4 36l-3 15-3 3l-3 11-3-5l6-24 3-40l6-18zM513 321l-1 6 2 5l1-11-1-4zM507 339l1 39 1-33l0-6-1-1zM406 339l6 10 18 70l0 11-4 11l-6 30 1 18l3 6 6-2l10-10 20-25l2 1-2 6l-5 6-9 18l-22 55-15 23l-3 4-6 4l-18 3-12 6l-30 21-8 10l-3 12-13 108l0 12 3 12l44 90 7 9l14 15 28 42l30 35 6 4l12 4 12-2l18-8 18 0l18 4 29 11l41 24 64 42l14 12 23 24l15 18 27 36l30 42 22 36l8 18 5 18l9 60 0 18l-2 18-10 42l-21 54-8 37l-6 17-20 36l-8 6-14 1l-6-1-6-6l-1-6 3-12l4-8 6-10l9-12 6-12l10-42-1-12l-2-6-7-6l-9-2-6 2l-6 6-6 15l-24 76-11 41l-5 30-10 24l-16 65-6 37l1 30-1 12l-3 6-3 5l-6 6-6 3l-14 4-4 3l-4 3-2 6l-18 103-21 89l-7 60 0 12l2 12 8 16l6 9 6 0l12-7 36-3l18-7 6-6l4-14 0-12l-5-18 0-6l10-6 21-7l12-3 12-1l18 2 12 4l30 13 24 8l0 9-12 5l-6 0-11-12l-14-12-10-6l-13-5-12-2l-18 1-12 3l-12 6-6 3l-4 6-1 6l1 24-2 17l-12 43-5 6l5 6 6 5l12 2 12 4l12 1 3 6l3 1 1 5l5 6 3 6l3 3 1 3l6 11-7 7l18 18 6 0l8 12 10 10l6 4 6 3l6 0 6-2l0 3-17 17l-31-27-18-11l-24-9-30-6l-24 0-24 3l-24 6-30 8l-6 4-6 15l-2 30 0 18l2 28 6 17l6 1 72-6l24 1 22 3l-6 6-34-3l-18 0-24 3l-18 4-24 8l-6-3-6-33l-2-32 2-58l1-8 4-12l13-12 10-12l6-12 1-6l2-30-1-18l-3-18-10-30l0-18 5-42l4-24 16-64l6-30 15-92l3-6 6-6l18-5 6-3l8-10 3-6l1-12-1-36l7-36 15-60l12-30 3-24l12-45 24-76l4-11 8-8l6-2 6 1l6 2 9 7l3 6 3 6l3 10 4 8l2 2 6-5l12-17 6-12l8-22 11-42l2-18-1-18l-6-48-4-18l-6-18-8-18l-24-36-48-66l-14-18-28-30l-22-18-56-36l-30-18-26-12l-18-6-18-3l-12 2-24 9l-12 0-6-2l-12-10-24-29l-11-15-15-24l-25-30-40-84l-5-12-1-12l15-120 4-10l6-7 12-11l4-2-4-2l-12 2-18-2l-7 2-5 6l-2 6-8 66l-11 60-6 18l-17 24-4 12l0 6 1 12l5 13 21 51l-3-3-12-28l-12-33-1-12l0-6 4-12l16-24 8-18l11-66 6-54l3-12 7-7l6-2 18 1l6 0 12-7l15-15 10-18l10-24 26-90l1-12-1-6l-21-60 0-12l2-5zM401 345l-1 6 4 18l10 24 4 12l3 6 2 12l-1 18 2 5l2-23-2-20l-3-4-9-44l-6-13zM417 453l-3 12-2 4l-15 50-7 18l-14 29-6 9l-5 4 5 2l12-5 19-3l5-3 6-8l12-20 19-53l-1-4-4 4l-8 8-6 2l-5-4-2-12l2-30-1-3zM357 585l1 3 6-2l1-1-1-4zM738 1473l-8 5-6 6l-6 10-4 9l-1 6 1 6l4 4 6 2l6 0 6-1l6-4 4-7l4-12 2-12l0-12-4-4zM496 398l3 1-3 10l-2-4zM490 413l0 6-1-2zM466 452l1 1-1 2l-1-2zM293 873l2 3-3-3l0-3zM317 915l1 3-2-3l0-2zM324 927l20 30 49 60l44 42 69 60l56 56 12 9l48 19 12 8l6 7 5 9l7 30 9 84l0 18-4 36l-5 18-20 54l-22 78-26 78l-6 54 3 42l-17 102-12 60l-15 60-10 48l-7 12-6 4l-6 0-12-3l-24-10 0-4l24 12 12 3l6-1 6-5l5-14 6-30l21-84 12-66l10-66 5-18l0-12-2-30l6-54 27-82l21-74 21-54l4-18 3-36l0-24-10-84l-6-24-3-7l-6-7-15-10l-45-18-12-9l-57-57-69-60l-44-42-50-60l-20-30 0-3zM830 2029l2 2-1 12zM777 2438l1 1-6 6l-12 8-18 9l-9 1 27-12zM664 2475l27-2 1 1l-28 3-12 4l-2 4-2-1l4-5 6-3z" fill="#fcd7c2" stroke="#fcd7c2" stroke-width="1.2"/>
<path d="M484 245l6-1 3 5l-3 7-7-1l-2-6zM482 249l2 5 6 1l2-6-2-3l-6 1zM520 299l3 4-1 6l-6 24-2 34l-6 21-6 14l-12 21-40 60l-11 24-14 36l-7 12-13 18l-5 3-12 2l-12 4-36 24l-7 9-3 12l-2 29-10 73l-1 12 1 12l5 12 41 83l6 8 17 17l23 36 32 38l6 5 12 4l12-2 18-7l18-1 20 5l28 12 42 24l65 42 13 12l23 24 34 42l30 42 16 24l15 24 7 18l5 18 9 66l-1 24-3 18l-10 36-15 42l-9 42-5 17l-6 12-16 25l-8 7-12 2l-14-3-6-6l-1-6 1-6l5-12 13-24l5-12 10-36l2-12-1-6l-3-6-5-4l-6-2-6 2l-5 4-7 18l-24 78-10 36l-5 30-10 24l-11 44-6 27l-4 25 0 36l-1 12-3 6l-4 7-12 9l-12 3-6 4l-4 7-20 108l-14 60-5 24l-6 60 1 18l6 11 6 5l42 0 12-2l12-4 6-4l4-6 2-6l0-12-6-12l-10-12 3-6l7-2 42-11l12-1 12 0l24 5 57 18l-3 3 0 4l-24-8-33-14l-15-4-18-1l-23 5-16 6l-10 6 0 6l5 18 0 12l-4 14-6 6l-18 7-36 3l-12 7-6 0l-6-9-6-12l-3-10-1-12l3-36 5-36l20-83 18-103l2-6 4-3l4-3 14-4l6-3 6-6l3-5 3-6l1-12-1-24l1-12 5-31l6-26 10-39l10-24 5-30l11-41 24-76l6-15 6-6l6-2 6 1l10 7 2 6l2 6-5 24l-6 24-6 12l-9 12-7 12l-5 12-1 6l1 6 6 6l6 1 12 0l6-3 4-4l4-6 16-30l6-17 8-37l21-54 10-42l2-18 0-18l-7-48-3-18l-6-18-9-18l-19-30-30-42l-37-48-28-30l-14-12-83-54l-22-12-23-9l-18-6-18-1l-12 3-12 6l-12 2-12-4l-6-4-30-35l-28-42-14-15l-7-9-44-90l-3-12 0-12l13-108 3-12l8-10 30-21l12-6 18-3l6-4 3-4l15-23 22-55l9-18 5-6l2-6-2-1l-20 25-10 10l-6 2-3-6l-1-18 6-30l4-11 0-11l-18-70-6-10l-6 1-2 5l0 12 21 60l1 12-5 24l-20 66-7 18l-12 24-6 10l-6 6-6 5l-12 7-6 0l-18-1-6 2l-7 7-3 12l-6 54-11 66l-8 18-16 24l-4 12 0 12l3 12 9 24l13 31-3-3l-15-37-7-21l-2-12 2-12l3-6 16-24l8-18 11-66l6-54 3-12l8-8 6-3l18 2 6-1l18-12 7-8l7-12 11-24l4-12 21-72l4-18 0-6l-2-12-19-48l-1-12 2-12l2-2 6-1l6 9 18 67l1 17-6 24l-3 24 2 13l6 0 6-5l26-32 13-18l17-30 7-18l4-18 2-30l3-15 6-17zM518 303l-4 8-7 22l-2 36-6 24l3 5 3-11l3-3 3-15l4-36 6-24l0-6-1-1zM495 399l-1 6 2 4l3-10-3-1zM489 417l1 2 0-2l0-4zM477 435l1 2 0-2l0-1zM465 453l1 2 1-2l-1-1zM322 927l20 30 50 60l44 42 69 60l57 57 12 9l45 18 15 10l6 7 3 7l6 24 10 84l0 24-3 36l-4 18-21 54l-21 74-27 82l-6 54 2 36l-6 30-10 66l-12 66-20 78l-6 30-4 12l-7 7-6 1l-6-1-29-13l-1-1 0-7l19 14 11 5l6 1 6-2l3-4 6-12l6-30 21-85l13-71 9-60l5-24-1-36l8-60 26-80l22-76 20-51l3-15 3-24l0-36-10-84l-7-24-7-12l-12-9-48-20l-12-8-58-59l-69-60-44-42l-50-60-17-24l-2-4 0-3zM628 2169l18 0 18 3l14 3 16 6l12 6 12 8l31 27-7 7l-6 0-18 18l-6 0-6 6l-6-7-12-2l-24 3-6 6l6 0 4 6l2 1 2 5l4 2 1 4l5 4 1 2l8 3-15 15l-12 0-2 2l-22-3-24-1l-72 6-6-1l-6-17-3-34l3-40 6-17l12-6 33-9l21-4zM772 2445l6-6 1 2l-6 4-13 10l-18 8-4 0l16-7zM682 2475l10-1 2 2l-30 3-7 2l-6 6-1-2l2-4 6-3z" fill="#fcd3bc" stroke="#fcd3bc" stroke-width="1.2"/>
<path d="M484 243l6 0 5 6l-3 6-2 2l-6 0-2-2l-3-6zM481 249l3 7 6 0l3-7-3-5l-6 1zM520 296l2 1 3 6l-9 36-2 34l-6 18-12 24l-44 68-12 24l-16 41-12 19l-6 7-6 3l-18 3-6 3l-36 25-6 7l-3 12-3 36l-10 66 0 12l1 12 45 93l6 8 19 19l23 35 31 37l8 6 9 2l12-1 18-7l18 0 23 6l25 10 35 20l65 42 16 12l30 30 24 30l35 48 25 36l10 18 8 18l5 18 8 60l0 24-4 24l-9 36-16 48l-10 46-6 16l-6 10-13 18l-5 6-6 3l-18 0-11-3l-5-6-1-6l3-12 19-42l9-30 3-18l0-6-3-6l-8-4-6 2l-7 8-23 74l-12 42-8 40l-10 27-12 47l-6 29-3 17l1 36-2 12l-2 6-6 9l-6 5-18 7l-5 3-3 6l-20 108-18 78l-3 24-2 42l1 12 1 6l7 7 12 2l24 2 12-1l12-3 6-3l6-7 1-9l-1-6-6-9l-13-9-5-6l2-6 9-6l13-3 48-8l18-1 18 2l48 12 26 10l-8 0-3 3l-57-18-24-5l-12 0-12 1l-42 11-7 2l-3 6 10 12l6 12 0 12l-2 6-4 6l-6 4-12 4l-12 2-42 0l-6-5-3-5l-3-9-1-9l6-66 5-24l14-60 20-108l4-7 6-4l12-3 12-9l4-7 3-6l1-12 0-36l4-25 6-27l11-44 10-24l5-30 10-36l24-78 6-15l6-7 6-2l6 2 5 4l3 6 1 6l-2 12-10 36l-5 12-13 24l-5 12-1 6l1 6 6 6l8 2 12 1l8-3 6-6l4-6 12-19l6-12 6-20l8-39 19-54l9-42 1-18l-1-18-5-42l-6-24-6-18l-10-18-20-30l-30-42-32-42l-29-30-13-12l-84-54-23-12l-24-10-18-6l-18-1-12 3l-12 5-12 2l-12-4-6-5l-32-38-23-36l-17-17-6-8l-41-83-5-12l-1-12 1-12l10-73 2-29l3-12 7-9l36-24 12-4l12-2 5-3l13-18 7-12l14-36 11-24l40-60 12-21l6-14 6-21l2-34 6-24l1-6-3-4l-6 8-6 17l-3 15-2 30l-4 18-7 18l-17 30-13 18l-26 32-6 5l-6 0-2-13l3-24 6-24l-1-17-18-67l-6-9-6 1l-2 2-2 12l1 12 19 48l2 12 0 6l-4 18-21 72l-4 12-11 24l-7 12-7 8l-18 12-6 1l-18-2-6 3l-6 6-4 8l-10 78-8 48l-8 18-16 24l-3 6-2 12l2 12 7 21l15 37-3-3l-12-30-8-25l-2-12 2-12l2-6 6-9l12-16 7-17l7-42 10-78l3-12 4-6l5-3 6-3l18 1 6-1l6-3 12-9l6-7 7-11l11-24 4-12l22-78 2-12l0-6-2-12l-19-48-1-12l2-12 4-5l6 0 6 8l18 65 2 10l0 12-6 30l-2 18 1 6l5 4 6-5l6-7 27-34l18-30 6-12l7-24 4-36l3-18 7-17zM324 933l17 24 50 60l44 42 69 60l58 59 12 8l48 20 12 9l7 12 7 24l10 84 0 36l-3 24-3 15l-20 51-22 76l-26 80-8 60l1 36-5 24l-9 60-13 71l-29 121-4 6l-3 4-6 2l-6-1-11-5l-18-12-1-2l0-13 6 7l4 8 5 6l9 6 12 2l5-2 5-6l2-6 30-129l12-65 7-52l6-24 0-42l7-54 28-84l21-72 21-53l2-13 3-30l0-30-11-84l-6-24-8-12l-10-7-48-20l-12-9-59-60l-69-60-45-42l-50-60-17-26l0-2zM670 2247l12-3 12 0l6 2 6 6l0 1-6 6l0 12-9 9l-8-3-1-2l-5-4-1-4l-4-2-2-5l-2-1-4-6l-6 0 6-6zM778 2442l1-1 1 1l-14 11-18 9l-7 1 19-8zM658 2481l36-5 2 2l-30 3-8 4l-3 2-4 0z" fill="#fbccb4" stroke="#fbccb4" stroke-width="1.2"/>
<path d="M484 242l6 0 2 1l4 5-2 7l-4 3-6 0l-4-3-2-6l4-6zM483 243l-4 6 3 6l2 2 6 0l2-2 3-6l-5-6zM520 295l6 2 0 6l-9 36-3 36l-6 18-12 25l-40 59-6 12l-12 24-8 24l-6 13-12 17l-6 8-6 3l-18 3-6 4l-30 20-6 4l-5 6-3 12l-4 42-9 60l0 12 1 12l40 84 7 12l25 24 20 32l24 29 10 11l8 5 6 1l6 0 24-7l18 0 24 6l24 10 30 17l72 46 16 12l31 30 29 36l35 48 20 30l10 18 7 18l5 18 8 60l0 24-3 24l-10 36-13 42l-11 48-4 13l-6 13-18 26l-6 6-6 1l-12 0-12-2l-6-2-6-7l0-6 2-12l18-42 10-36l2-12-1-6l-1-3-6-4l-6 2-6 9l-18 55-18 62l-7 35-11 33l-12 48-7 39l0 36-1 12l-3 6-7 10l-6 5-18 8l-7 7-19 108l-17 72-4 36l1 36 3 12l7 6 24 5l12-1 12-2l6-2 5-6l2-6-2-6l-7-6-23-12l-2-6 4-6l8-6 13-6l14-3 48-7l18 0 18 1l36 8 24 7l18 8 15 10l-8 0-7-6l-4 0-14-6l-18-5-54-12l-24 0-48 8l-12 3-6 4l-4 2-2 6l5 6 13 9l6 8 1 7l-1 9-6 7l-6 3-18 4l-24-1-18-3l-6-6-3-13l1-42 3-24l4-24 15-60l11-60 7-42l2-6 3-6l24-12 7-6l6-12 2-12l-1-36 3-17l6-29 12-47l10-27 8-40l12-42 24-74l6-8 6-2l8 4 3 6l0 6-3 18l-9 30-14 30l-7 18 0 12l4 5 6 3l12 2 12-1l6-2 5-7l13-17 6-11l5-14 11-48l21-66 7-36l1-18 0-18l-6-42-5-24l-7-18-9-18l-20-30-30-42l-38-48-23-24l-14-12-85-55l-20-11-22-9l-18-6-18-3l-13 0-17 7l-12 1-9-2l-9-7-30-36l-23-35-19-19l-6-8-45-93l-1-12 0-12l10-66 3-36l3-12 6-7l36-25 6-3l18-3 6-3l6-7 11-18l7-14 10-28l12-24 44-68l12-24 6-18l2-34 9-36l-3-6-2-1l-6 8-6 17l-4 18-4 36l-7 24-6 12l-18 30-27 34l-6 7-6 5l-5-4-1-6l2-18 6-30l0-12-2-10l-18-65-6-8l-6 0-4 5l-2 12 1 12l19 48 2 12l0 6-2 12l-24 84-14 32l-6 9-6 7l-12 9-6 3l-6 1-18-1l-6 3-6 5l-5 10-10 78l-8 48-7 17l-12 16-6 9l-3 12 0 12l2 12 8 24l11 25-3-3l-11-28-7-24l-2-12 2-12l3-7 18-26l6-15 9-48l8-72 3-12l4-6 6-4l6-3 18 1l6-2 18-12l6-7 5-9l14-30 23-84l3-12 0-6l-3-12-16-36l-4-12 0-12l2-12 6-7l6 0 6 7l18 66 3 12l0 12-6 30l-1 12 0 6l4 7 6-4l27-33 23-36l6-12 7-24l3-36 4-18l8-20zM323 933l2 4-3-4l0-2zM331 945l13 18 45 54l45 42 69 60l59 60 12 9l48 20 10 7l8 12 6 24l11 84 0 30l-3 30-2 13l-21 53-21 72l-28 84-7 54l0 42-6 24l-7 52-12 65l-30 129-6 12l-6 2-12-2l-9-6-5-6l-4-8-6-7l0-3 6-6l0-2 5 8l5 18 5 6l9 4 6 0l6-4 5-18l4-18 21-84l12-63 10-69l8-25 0-41l7-54 29-88l21-74 18-42l5-18 1-18l0-42-9-77l-6-26-6-11l-5-6-8-6l-47-20-12-9l-61-61-68-60l-45-42-51-60l-9-14 0-2zM778 2444l2-2 1 1l-15 11-17 9l-4 0 21-10zM670 2481l26-3 2 1l-20 4-2-2l-3 3-11 3l-7 0 3-2l6-3z" fill="#f9c6ac" stroke="#f9c6ac" stroke-width="1.2"/>
<path d="M484 241l6 0 4 2l3 6-2 6l-5 4-6 0l-5-4-1-3l0-4 2-5zM482 243l-4 6 2 6l4 3 6 0l4-3 2-6l-4-6-2-1l-6 0zM520 294l6 1 1 8l-9 36-2 30l-2 11-12 29l-6 10-45 70l-12 24-9 24l-5 12-12 18l-7 9-6 3l-18 3-36 23l-6 5-4 5l-4 12-4 42l-8 60-1 12l2 12 44 90l9 12 15 12l5 6 24 36l20 24 10 10l6 4 6 2l6-1 24-6l18 1 18 4l30 12 29 16l76 48 22 18l24 24 25 30l35 48 25 36l10 18 7 18l3 12 5 24l5 48 0 18l-4 24-9 36l-13 43-12 51l-6 16-6 12l-16 22-8 6l-6 1-12-1l-18-4-4-2l-5-6 1-12l6-18 14-33l9-39 1-6l-1-6-3-3l-6 2-6 11l-18 56-18 60l-7 30-11 40l-12 49-6 37l1 30-2 12l-2 6-9 12l-6 5-18 7l-4 6-2 6l-17 96-19 78l-2 24 2 22l6 7 6-2l11-9 13-8l23-10 43-7l30-3 18 1l18 3 42 10l24 10 12 7l10 9-7 0l-15-10-18-8l-24-7-36-8l-18-1-18 0l-48 7-14 3l-13 6-8 6l-4 6 2 6l25 14 5 4l2 6-2 6l-5 6-6 2l-12 2-12 1l-18-3-6-2l-6-4-3-8l-2-36 0-18l4-24 17-72l18-102 1-6l5-6 20-9l3-3 6-6l7-12 1-12l0-36 7-39l12-48 11-33l7-35 12-42l18-57 8-22l4-5 6-2l6 4 1 3l1 6-2 12l-10 36-16 36l-3 12-1 12l4 6 8 3l12 2 12 0l6-1 6-6l12-16 12-23l6-19 9-42l17-54 9-42l1-18-1-18l-7-48-4-18l-6-18-10-18l-19-30-35-48l-33-42-24-24l-14-12-87-56l-18-10-18-8l-24-8-18-4l-12 1-24 7l-6 0-6-1l-6-4-6-5l-30-36-20-32l-22-21-6-8l-44-91-1-12l0-12 9-60l4-42 3-12l5-6 6-4l30-20 6-4l18-3 6-3l6-8 12-17l6-13 8-24l12-24 6-12l40-59 12-24l6-19 3-36l9-31 0-11l-6-2-3 2l-3 4-6 16l-6 22-3 36l-7 24-6 12l-23 36-27 33l-6 4-4-7l0-6 1-12l6-30 0-12l-3-12-18-66l-6-7-6 0l-6 7-2 12l0 12 4 12l16 36 3 12l0 6-3 12l-23 84-14 30l-5 9-6 7l-18 12-6 2l-18-1-6 3l-6 4-4 6l-3 12-8 72l-9 48-6 15l-18 26-4 13l-1 12 3 12l8 24 9 22l-3-3-10-25l-7-24-1-12l2-12 4-10l18-25 6-16l8-45 8-72l3-12 5-7l6-5 6-2l18 0 6-1l18-13 6-8l6-10 12-28l25-94-1-14l-6-14-12-20l-3-12-2-12l2-12 3-9l6-6 6 1l6 6 6 18l13 50 3 18l-6 42-1 6l3 9 6-3l26-30 12-18l14-24 10-30l2-12 1-24l5-18 8-22zM329 945l13 18 46 54l45 42 68 60l61 61 12 9l47 20 8 6l5 6 6 11l6 26 9 77l0 42-1 18l-5 18-18 42l-21 74-29 88l-7 54 0 41l-8 25-10 69l-12 63-28 114l-2 6-6 4l-6 0-6-2l-8-8-5-18l-5-8 0-4l7-7 2 1l3 6 3 24l2 6 7 5l6-1 6-10l3-18 21-82l6-30 12-67l7-49 8-24l2-36 5-42l4-18 22-68l26-88 6-18l10-18 6-18l2-18 0-48l-8-65-6-32l-6-14-6-7l-12-8-36-16l-18-11-62-63l-69-60-44-42l-51-60-8-11l0-3zM781 2443l1 1-16 12l-13 7-4 0l17-9zM688 2481l10-2 2 2l-19 6-3-4zM664 2487l9-3-3 3l-8 0z" fill="#f8bfa4" stroke="#f8bfa4" stroke-width="1.2"/>
<path d="M484 240l6 0 6 3l2 6-2 6l-6 5-6 0l-7-5-1-6l2-4zM480 243l-3 6 1 3l1 3 5 4l6 0 5-4l2-6-3-6l-4-2-6 0zM520 292l6 2 2 3l0 6-7 30l-4 36-3 14l-12 28-50 78l-12 24-14 36l-12 18-8 10l-6 3-18 3l-36 23-9 9l-4 12-5 48l-7 54 0 18l4 12 41 84l10 12 18 14l24 36 29 34l7 5 6 2l6 0 24-5l18 1 15 3l21 8 18 8l18 10 91 58l34 30 26 30l56 78 12 18l9 18 6 18l4 24 7 48l0 24-3 18l-6 24-19 66l-12 48-7 18l-6 13-12 17l-7 6-5 3l-12-1-18-2l-13-6-4-6l0-12 3-12l14-34 6-19l5-31-5-1l-12 31-12 39l-9 33-9 24l-5 24-19 73l-6 28-3 19l0 36-2 12l-2 6-10 12l-7 6-14 6l-6 6-2 6l-18 102-15 60l-4 24 0 12l1 6 4 8l6 0 36-16l24-6 48-7l36 1 30 6l36 11 12 5l12 8 16 14l-6 0-16-13l-24-11-36-10l-30-5-18-1l-18 1-36 5l-18 4-12 4l-12 6-13 8l-11 9-6 2l-6-7-2-16l2-30 19-78l17-96 2-6l4-6 18-7l6-5 9-12l2-6 2-12l-1-30 6-37l12-49 11-40l7-30 18-60l18-56 6-11l6-2 3 3l1 6-4 23l-6 22-14 33l-6 18-1 12l5 6 10 4l18 3 12-1l6-4 18-24l6-12 6-16l12-51 19-67l7-36 0-24l-6-48-5-24l-6-18-6-12l-19-30-48-66l-25-30-24-24l-14-12-89-57l-18-10-18-8l-24-8-18-4l-18 1-18 5l-6 1-9-4l-8-6-25-30l-24-36-5-6l-15-12-9-12l-41-84-4-12l0-18 8-60l4-42 4-12l4-5 6-5l36-23 18-3l6-3 7-9l11-16 6-14l9-24 12-24l39-60 12-20l6-13 7-21l3-36 8-30l1-12-1-2l-6-1-5 3l-7 17-6 22l-4 39-5 18l-8 18-11 18l-17 24-21 24l-6 3-3-9l1-6 6-42l-3-18-13-50l-6-18-6-6l-6-1-6 6l-3 9-2 12l2 12 3 12l12 20 6 14l1 14-25 94l-12 28-6 10l-6 8-18 13l-6 1-18 0l-6 2-6 5l-5 7-3 12l-8 72-8 45l-6 16-18 25l-6 16 0 6l1 12 9 30l8 19-3-3l-6-16-9-33l-1-15 4-12l6-12 15-19l5-17 8-42l8-72 3-12l6-8 6-5l6-2 18 0l6-2 17-13l7-8 6-11l11-29 25-90l0-6-4-12l-2-5-6-8l-6-6-6-21l-1-14 3-18l3-6 7-5l6 1 6 6l6 16 17 66l0 12-6 36l1 9 6 1l12-12 12-16l13-18 14-24l11-30 1-12l1-24 3-12l11-30zM331 951l56 66 44 42l69 60 62 63l18 11 36 16l12 8 6 7l6 14 6 32l8 65 0 48l-2 18-6 18l-10 18-6 18l-26 88-22 68l-4 18-5 42l-2 36-8 24l-7 49-12 67l-6 30-21 82l-3 19-6 9l-6 1-7-5l-3-12-2-18l-5-7 5-5l0-8 18 0l6-7 11-33l6-24 12-60l10-78 4-12l11-13 1-5l2-30 8-54l47-156 9-24l11-21 6-21l1-12-1-54l-12-81-6-20l-6-8-6-5l-30-13-24-14l-6-4-63-65l-69-60-45-42l-46-54-11-15l0-2zM1444 1353l20 0 15 6l-4 6-1 1l-18 3-12 0l-9-4-3-6l6-5zM782 2444l1 1-11 9l-16 9-3 0l13-7zM700 2481l-6 6-13 0z" fill="#f7b99c" stroke="#f7b99c" stroke-width="1.2"/>
<path d="M478 243l6-4 6 0l6 3 3 7l-2 6-7 6l-6 0-7-6l-2-6zM479 243l-3 6 1 6l7 5 6 0l6-5 2-6l-2-6-6-3l-6 0zM520 291l6 1 3 5l0 6-8 30l-3 36-4 16l-12 27-49 77l-12 24-14 36l-12 18-9 11l-6 2-18 4l-36 23-8 8l-4 12-5 48l-7 54 0 18l4 12 41 84l9 10 19 14l23 33 30 36l6 4 6 2l30-2 24 2l18 5 18 7l18 9 18 10l87 56 41 36l26 30 47 66l15 24 10 18l5 18 4 24l7 48 0 24l-3 18-7 30l-16 55-14 53l-7 18-9 18l-12 17-6 5l-6 1-32-5l-15-6-7-7l-6 9-6 15l-10 49-14 57l-6 36-1 33l-1 12-8 12l-5 6-9 8l-12 6-5 4l-3 6-18 102l-16 65-2 19l2 14 6 3l42-15 42-8l36-3 36 3l36 8 30 12l18 12 15 16l-5 0-16-14l-12-8-12-5l-36-11-30-6l-36-1-48 7l-24 6-36 16l-6 0-4-8l-1-6 0-12l4-24 15-60l18-102 2-6l6-6 14-6l7-6 10-12l2-6 2-12l0-36 3-19l6-28 19-73l5-24 9-24l9-33 12-39l12-31 5 1l-5 31-6 19l-14 34-3 12l0 12 4 6l13 6 18 2l12 1 5-3l7-6 12-17l6-13 7-18l12-48 19-66l6-24 3-18l0-24-7-48l-4-24-6-18l-9-18-12-18l-56-78-26-30l-34-30-91-58l-18-10-18-8l-21-8-15-3l-18-1-24 5l-6 0-6-2l-7-5-29-34l-24-36-18-14l-10-12-41-84l-4-12 0-18l7-54 5-48l4-12 9-9l36-23 18-3l6-3 6-6l12-18 6-12l10-28 12-24l44-68 12-23l8-23 3-36l8-30 1-12l-2-3-6-2l-6 5-6 15l-7 21-3 42l-11 30-14 24l-13 18-12 16l-12 12-6-1l-1-9 6-36l0-12-17-66l-6-16-6-6l-6-1-7 5l-3 6-3 18l1 14 6 21l6 6 6 8l2 5 4 12l0 6-25 90l-11 29-6 11l-7 8-17 13l-6 2-18 0l-6 2-6 5l-6 8-3 12l-8 72-8 42l-6 18-18 24l-6 18 1 18l9 30 6 16l-3-3-5-13l-8-30-1-12l3-18 7-12l10-12 6-10l6-20 7-42l7-66 3-12l7-9 6-5l6-2 20-2l10-5 8-7l10-12 13-30l8-30 15-48l4-18-1-6l-3-12-6-5l-6 4-4-5l-1-6-4-30l-1-12 7-24l3-3 6-4l6 1 6 6l5 12 19 72l0 12-4 24l-2 12 3 6l3 2 12-12l16-20 22-36l7-18 5-18l2-30 2-12l11-30zM330 951l55 66 45 42l69 60 63 65l6 4 24 14l30 13 6 5l6 8 6 20l12 81 1 54l-1 14-6 19l-11 21-9 24l-22 76-22 68l-6 24-5 42l-2 30-1 5l-11 13-4 12l-10 78-12 60l-11 42-6 15l-6 7-18 0l0-9 10-7l5-6 8-12l4-12 11-42l7-36 9-66l0-11 1-7l5-13 6-6l6-4 4-7l2-7 2-23l5-42 3-12l47-156 10-24l11-17 5-19l1-12-1-18l0-36-8-42l-3-25-6-26l-4-9-5-6l-8-6-19-8l-24-13-12-9l-64-66-68-60l-46-42-47-54l-3-4 0-2l-6-6 0-3zM1426 1352l12-3 24 0l18 3 7 7l-2 6-14 6l-27 2-11-2l-9-6-3-6l2-6zM1438 1353l-6 6 3 6l9 4 12 0l18-3 1-1l4-6-15-6l-14-1zM1270 1496l3 1-1 6l-2 1-2-1l-1-6zM783 2445l-11 11-12 7l-4 0 16-9z" fill="#f6b394" stroke="#f6b394" stroke-width="1.2"/>
<path d="M478 242l6-4 6 0l6 3 3 8l-1 6-2 4l-6 3-6 0l-6-4-2-3l-2-6zM477 243l-2 6 2 6l7 6 6 0l7-6 2-6l-3-7-6-3l-6 0zM520 290l7 1 3 6l0 6-8 30l-3 36-5 18l-12 27-18 29l-27 40-7 12l-11 24-12 30l-15 24-6 5l-6 3-12 2l-12 5-32 21l-6 6-2 6l-14 108 1 18l4 12 43 86l6 6 15 10l8 6 25 36l24 28 6 5l6 3 30-1l18 2 18 4l30 11 30 17l90 57 36 30l28 30 51 72l16 24 9 18l7 30 6 48l2 18 0 18l-5 24-8 36l-28 98-7 16l-11 22-12 17l-5 3-7 1l-37-7-11-4l-6-1-6 6l-3 5-3 10l-5 26-1 12l1 12-1 6l-11 36-6 30l-5 54-5 12l-5 6-16 16l-13 8-4 6l-16 90-15 59l-5 31 1 6l2 6 2 2l6 0 36-12l48-9 36-2l36 4 30 7l30 12 18 12l20 22-5 0l-9-10-12-10l-18-11-30-10l-30-7-36-3l-36 3-42 8l-42 15-6-3l-2-14 2-19l16-65 18-102l3-6 5-4l12-6 9-8l5-6 8-12l1-12 1-33l6-36 14-57l10-49 6-15l6-9 7 7l15 6 32 5l6-1 6-5l12-17 9-18l7-18 14-53l16-55 7-30l3-18 0-24l-7-48-4-24l-5-18-10-18l-15-24-47-66l-26-30-41-36l-87-56-18-10l-18-9-18-7l-18-5-24-2l-30 2-6-2l-6-4-30-36l-23-33-19-14l-9-10-41-84l-4-12 0-18l7-54 5-48l4-12 8-8l36-23 18-4l6-2 6-6l12-18 6-11l11-30 12-24l43-67 12-23l9-24 3-36l8-30 1-12l-3-5-6-1l-7 6-11 31l-2 11-2 30l-5 18-7 18l-22 36-16 20l-12 12-3-2l-3-6 2-12l4-24 0-12l-19-72-5-12l-6-6-6-1l-6 4-3 3l-7 24 1 12l4 30 1 6l4 5 6-4l6 5 3 12l1 6-4 18l-15 48-8 30l-13 30-10 12l-8 7-10 5l-20 2-6 2l-6 5-7 9l-3 12-8 72l-8 42-3 12l-4 6-17 24l-6 18 1 18l8 30 5 13l-3-3-3-10l-8-30-1-12l3-18 6-12l14-18 4-6l3-12 9-44l7-70 3-12l8-10 6-5l6-2 18-2l10-5 8-6l6-6 6-8l12-28 1-12l-1-15-1 3l-3 6-6 0l-2-1-1-11l15-78 1-18l-3-30 0-12l7-24 5-6l6-2 6 1l6 5 6 13l19 73 0 12l-5 30 1 6l3 5 6-4l18-20 15-23l10-18 7-18l5-18 2-30l3-14 10-28l2-3zM398 417l-5 12-7 36l-3 30 5 1l2-13 4-5l12-38 1-11l-1-11-6-4zM337 963l47 54 46 42l68 60 58 61l18 14 24 13l18 8 6 4l6 5 6 12l6 26 3 25l7 36 2 60l-1 12-5 19l-11 17-10 24l-47 156-3 12l-5 42-2 23l-2 7-4 7l-6 4-6 6l0-7 10-10l3-6 13-78l42-144 11-30l11-15 6-11l4-16 0-12l-2-18 1-30l-1-12-2-15l-5-15-7-41l-6-20-6-8l-6-4-18-9l-30-20-12-9l-59-63-67-58l-48-44-47-54l-1-4zM1426 1347l18-2 30 2l12 4 3 2l3 6-1 6l-11 7-24 4l-18-1-15-4l-7-6-2-5l1-7zM1423 1353l-2 6 3 6l9 6 11 2l27-2 14-6l2-6-7-7l-18-3-24 0zM1264 1491l6-2 6 1l5 7 0 6l-5 7-6 1l-6-1-5-7l0-6zM1267 1497l1 6 2 1l2-1 1-6l-3-1zM547 1719l-3 13 0-13l4-4zM542 1749l-8 66-6 30l-11 42-4 12l-8 12-5 6l-10 7 6-7l-3-3 9-8l6-10 8-21l7-24 6-30l9-60 0-12l5-5zM772 2456l4-3-10 9l-6 1z" fill="#f6af8e" stroke="#f6af8e" stroke-width="1.2"/>
<path d="M484 237l6 0 6 3l3 3 1 6l-1 6-3 5l-6 3-6 0l-4-2-5-6l-1-6 1-6zM476 243l-2 6 2 6l6 6 8 1l6-3 2-4l1-6-1-6l-8-5-6 0zM520 289l6 0 2 2l3 6 0 6l-8 30-4 36l-5 18-12 28l-18 30-23 32l-10 18-9 18l-14 36-16 24l-6 6-6 3l-12 2-12 5l-30 20-6 6l-3 6-14 108l1 18 4 11l10 19 32 66l6 7 20 11l7 6 21 29l26 31 10 7l54 6 18 5l24 9 24 13l98 62 38 30l30 30 47 66l19 30 6 12l6 24 8 54l2 24 0 18l-3 18-12 48l-27 90-7 18l-7 16-12 20l-6 8-6 2l-6 0-18-6l-30-5-6 0l-7 7-5 16l-4 20 2 12l5 12-1 6l-11 30-6 24l-9 66-7 12l-10 12-7 9l-14 9-5 6l-14 84-6 24l-9 28-5 20l-2 18 1 7l6 4 60-15l30-4 18-2l24 1 36 5l30 9 24 11l18 15 19 23l-5 0-20-22l-18-12-30-12l-30-7-36-4l-36 2-48 9l-36 12-6 0l-2-2-2-6l-1-6 5-31l15-59 16-90l4-6 13-8l16-16 5-6l5-12 5-54l6-30 11-36l1-6-1-12l1-12 5-26l3-10 3-5l6-6 6 1l11 4 37 7l7-1 5-3l12-17 11-22l7-16 28-98l8-36 5-24l0-24-7-54l-5-24-6-18l-10-18-16-24l-47-66-28-30l-36-30-90-57l-30-17-30-11l-18-4-18-2l-30 1-6-3l-6-5-24-28l-25-36-8-6l-15-10-6-6l-43-86-4-12l-1-18 8-54l5-48 3-12l8-7 36-23l6-2 12-2l6-3 6-5l12-18 6-12l9-24 11-24l7-12 27-40l18-29 12-27l5-18 2-30l8-30 1-12l-4-7-6 0l-6 4-2 3l-11 30-2 12l-2 30-9 30l-13 24-12 18l-15 19-6 6l-6 4-3-5l-1-6 5-30l0-12-19-73l-6-13-6-5l-6-1-6 2l-5 6-7 24l0 12 3 30l-1 18-15 78l1 11 2 1l6 0 3-6l1-3 1 15l-1 12-12 28l-6 8-6 6l-8 6-10 5l-18 2-6 2l-6 5-8 10l-3 12-7 70l-9 44-3 12l-4 6-17 24l-6 18 1 18l8 30 3 10l-3-3-2-7l-7-30-1-12l3-18 7-13l13-17 5-9l2-9 10-50l7-64 2-12l9-11 6-5l12-4 12-1l6-2 9-7l11-12 11-24l2-12-3-4l-6-2-4-6l-1-6 16-90l1-18-3-36l7-24 4-6l4-3 6-1l6 1 6 5l5 10 20 78l1 12-5 30l3 8 6-3l18-20 14-21l10-18 7-18l5-18 2-30l4-17 9-25l3-4zM400 414l6 4 1 5l0 12-13 43l-4 5-2 13l-5-1 3-30l7-36zM398 429l-1 12 3 6l3-18-3-4zM335 963l47 54 48 44l67 58 59 63l12 9 30 20l18 9 6 4l6 8 6 20l7 41 5 15l2 15 1 12l-1 30 2 18l0 12-4 16l-6 11-11 15l-11 30-42 144l-13 78-3 6l-10 10 0-5l9-11 3-7l13-83 37-156l4-7 7-5l5-1 12-11l6-11 1-7l2-12-3-24l1-30-1-19l-6-17-12-19l-5-5-6-12l-4-24-6-12l-3-3-2-3l-19-18-27-20l-42-46-18-18l-116-102-40-45l0-3-6-6l0-1zM1420 1346l18-3 36 1l12 3 6 4l4 8-1 6l-3 3-5 3l-7 3-24 4l-25-1-16-6l-7-6-2-6l1-6 8-6zM1424 1347l-9 6-2 6l3 6 7 6l15 4 18 1l24-4 11-7l1-6-3-6l-3-2-12-4l-30-2zM1270 1484l6 1 6 5l3 7 0 6l-2 6-7 5l-6 2-6-2l-7-5-2-6l0-6 3-7l6-4zM1263 1491l-4 6 0 6l4 6 7 2l6-2 5-6l0-6-4-6l-7-2zM536 1767l-7 54-6 30l-7 24-10 24l-13 15-3-3l0-1 6-5l8-12 6-12l6-18 6-24l6-30 6-44l3-3zM766 2462l3-2-3 3l-2 0z" fill="#f5a886" stroke="#f5a886" stroke-width="1.2"/>
<path d="M484 236l6 0 6 3l4 4 1 6l-1 6-4 6l-6 3-6 0l-6-3-4-6l-1-6 1-6l4-4zM483 237l-8 6-1 6l1 6 5 6l4 2 6 0l6-3 3-5l1-6-1-6l-3-3-6-3zM520 288l6 0 3 3l3 6 0 6l-8 30-5 42l-4 12-10 24l-21 35-26 37l-12 24-16 41l-17 25-7 7l-6 2-12 2l-12 6-30 20l-6 5-3 6l-13 108 0 18l4 9 11 21l26 54 7 12l10 10 18 8l7 6 24 30l23 26 6 5l12 5 48 7l24 8 18 8l30 17 80 50l17 12 46 36l18 18 55 78l13 24 4 12l2 12 10 78l0 18-5 32l-12 51-24 75l-6 17-12 26l-12 20-6 7l-6 2-24-9l-30-4-6 1l-6 7-6 15l-2 18 4 12l4 8 1 10l-9 24-7 24l-12 72-6 12l-27 30-4 6l-2 6-10 78l-20 45-6 20l-2 13 2 11l6 2 60-14l30-3 42 0l18 2 24 5l30 10 18 11l12 11 23 31l-4 0-19-23l-18-15-12-6l-18-7-30-8l-36-4-36 1l-30 4-60 15l-6-4-1-7l2-18 5-20l9-28 6-24l14-84 5-6l14-9 7-9l10-12 7-12l9-66 6-24l11-30 1-6l-5-12-2-12l4-20 5-16l7-7 6 0l30 5 18 6l6 0 6-2l6-8 12-20l7-16 7-18l27-90 12-48l3-18 0-18l-2-24-8-54l-6-24-6-12l-19-30-47-66l-30-30-38-30l-98-62-24-13l-24-9-18-5l-54-6-10-7l-26-31-21-29l-7-6-20-11l-6-7-32-66l-10-19-4-11l-1-18 14-108l3-6 6-6l30-20 12-5l12-2 6-3l6-6 13-18l6-12 9-24l11-24 10-18l23-32 18-30l12-28 5-18l4-36 8-30l0-6-3-6l-2-2-6 0l-5 2-4 6l-3 7-9 29l-2 30-2 12l-8 24-6 12l-15 24-12 17l-12 12-6 3l-3-8 5-30l-1-12-20-78l-5-10-6-5l-6-1-6 1l-4 3-4 6l-7 24 3 36l-1 18-16 90l1 6 4 6l6 2 3 4l-2 12-11 24l-11 12-9 7l-6 2-12 1l-12 4-6 5l-9 11-2 12l-7 64-10 50l-2 9-5 9l-13 17-5 7l-5 18 1 18l9 37-2-1l-2-6-6-30l-2-12 4-18l8-16 12-14l6-12 1-6l11-56 6-58l2-12 9-12l7-5 6-3l19-4 10-6l7-5 6-7l10-24 2-6l-5-6-7-6l-2-6 0-6l17-90 0-18l-2-36 7-24l4-7 6-4l6-1 6 2l6 5 3 5l5 12 18 72l1 12-4 18l0 12 1 4l6-1 12-12l12-15 14-24l6-12 9-30l2-30 4-18l9-24 4-6zM400 425l3 4-3 18l-3-6zM343 975l43 48 110 96l18 18 42 46l27 20 19 18l2 3 3 3l6 12 4 24l6 12 5 5l12 19 6 17l1 19-1 30l3 24-3 18l-6 12-6 7l-18 10-4 7l-37 156-13 83l-3 7-9 11l0-5 7-12l3-12 20-133l14-83 6-90l3-18 1-3l1 3 11 11l6 4 9 3l1 6-9 12l-4 12 0 6l3 12 4 6l2 2 6 0l6-5 6-12l1-9-1-18l-5-6-1-4l-4-2 4-1l5-23 1-12l-2-12-4-11l-6-7-6-2l-6 1-6 4l-9 9-3 8l-4-8-2-12l0-30-1-1l-2-41-5-12l-11-12-17-12l-13-12-37-42l-17-18-117-102l-38-43 0-2zM1054 1034l18-2 12 0l12 3 12 6l7 6 4 6l2 6 0 6l-1 6-4 6l-6 6-10 6l-10 3-12 2l-12 0-12-2l-8-3-10-6l-6-6-3-6l-2-6 0-6l2-6 4-6l7-6zM1426 1341l42-1 18 3l6 4 6 6l2 6-2 6l-6 6-12 5l-12 2-24 2l-24-3-13-6l-6-6-2-6l1-6 7-6zM1415 1347l-8 6-1 6l2 6 7 6l17 6 24 1l24-4 7-3l5-3 3-3l1-6-4-8l-6-4-12-3l-36-1-12 1zM1258 1485l6-4 6-1l6 1 7 4l5 6 1 6l0 6-2 6l-5 6-6 3l-6 1-6-1l-6-3-5-6l-2-6 0-6l1-6zM1265 1485l-8 6-2 6l0 6 2 6l7 5 6 2l6-2 7-5l2-6 0-6l-2-6-7-6l-6-1zM533 1767l-5 42-6 30l-6 24-6 18l-6 12-8 12l-6 5-1-6l7-5 8-12l5-12 6-18l7-30 7-45l3-3 0-12l2-2z" fill="#f2a17f" stroke="#f2a17f" stroke-width="1.2"/>
<path d="M484 235l6 0 6 3l5 5 1 6l-1 6-4 6l-7 4-6 0l-6-3-5-7l-1-6 1-6l5-5zM481 237l-7 6-1 6l1 6 4 6l6 3 6 0l6-3 4-6l1-6-1-6l-4-4-6-3zM514 290l6-3 6 0l4 4 2 6l0 10-7 26l-4 36-7 24l-12 24-46 72l-12 24-14 36l-16 24-8 8l-24 6-36 24l-6 7-3 9l-6 54-6 48l0 18 3 7l12 23 24 50l9 16 9 8l24 11 6 5l46 54 14 9l12 4 24 3l18 4 24 8l24 12 110 68l59 42 11 10l12 15 48 71l12 22 3 14l9 76 2 32l-3 18-17 74l-30 88-12 25l-14 23-4 4l-6 1-24-11l-24-3-6 0l-6 2-6 7l-6 18 0 12l2 6 8 18l0 6-14 42l-14 78-6 12l-21 24-4 12l-2 60 3 36l0 10-1 2l-5 7-24 12l-6 8-6 15l-1 6 7 5l6 0 66-12l36-1 42 4l30 7 18 6l12 5 12 10l33 48-4 0l-23-31-6-6l-12-10-24-10l-24-7-30-5l-36-2-36 3l-66 15-6-2l-2-5 1-18l7-21 20-45l10-78 2-6l4-6 27-30l4-6 4-12l10-66 7-24l9-24-1-10l-4-8-4-12l2-14 4-16l2-3 6-7l6-1 30 4l24 9 6-2l6-7 6-10l18-36 24-73l12-44 6-26l5-32 0-18l-10-78-2-12l-4-12-13-24l-55-78-18-18l-46-36-17-12l-80-50-30-17l-18-8-24-8l-48-7-12-5l-6-5-23-26l-24-30-7-6l-18-8-10-10l-7-12-26-54l-11-21-4-9l0-18 13-108l3-6 6-5l30-20 12-6l12-2 7-3l6-6 13-18l6-12 9-24l11-24 10-18l40-60 13-30l5-18 4-36l8-30 0-6l-3-6-3-3l-6 0-6 3l-4 6-11 30l-2 12-2 30l-9 30-6 12l-14 24-12 15l-12 12-6 1l-1-4 0-12l4-18-1-12l-20-78-6-11l-6-5-6-2l-6 1-7 5l-3 6-7 24l2 36 0 18l-17 90 0 6l2 6 7 6l5 6-2 6l-10 24-6 7l-7 5-10 6l-19 4-6 3l-7 5-9 12l-2 12-6 58l-6 35-6 27l-6 12-15 18l-5 12-3 12l1 18 8 36l-1 0-2-6l-6-30-1-18l5-18 6-12l13-14 6-16l12-63 5-51l2-12 3-6l5-6 9-6l6-3 18-6l6-3 7-6l11-14 6-14l-1-8-6-6l-3-6-1-6l2-16 3-2l0-9 13-75l-3-48 2-12l7-18 5-6l6-3 6 0l6 3 6 5l6 10 20 75l1 18-3 24l2 6 4 1l12-11 12-16l13-22 6-12l9-30 2-30l2-12 8-24zM568 332l4 1-4 3l-4 3-8 5l-4-5 10-6zM341 975l43 48 22 17l82 73 24 24l38 43 12 11l17 12 6 6l5 6 5 12l2 41-5-5l0-30-2-1l-1-11-7-12l-35-30-36-42l-24-24-75-66l-36-30-30-33l0-3zM1048 1027l18-3 18 0l18 4 12 7l8 6 8 12l1 12-3 12l-5 6-9 8l-12 6-12 4l-12 1-18-1l-12-2-12-6l-12-9-5-7l-3-6-1-12l3-8 6-10l12-8zM1050 1035l-12 6-7 6l-4 6-2 6l0 6 2 6l3 6 6 6l10 6 20 5l12 0 12-2l10-3 10-6l6-6 4-6l1-6 0-6l-2-6-5-7l-12-8-12-4l-12-2-12 0zM1492 1232l12 0 6 1l9 6 9 12l4 12 2 9l-2 15-4 12l-3 6-5 6l-9 6-13 4l-12-2-12-9l-6-6-6-11l-2-12 2-16l6-14 6-8l6-5zM598 1299l2 12 4 8l3-8 5-6l10-7 6-1l6 2 6 7l5 17 1 15l-2 9-4 17l-4 1 4 2l1 4 5 6l1 18-1 9l-6 12-6 5l-6 0-2-2l-6-12-1-12l4-12 9-12l-1-6-9-3l-6-4-11-11l-1-3-4 21l-6 90-14 83l-20 133-3 12l-7 12 0-4l4-8 4-18l16-118 16-98l6-106 2-2zM621 1305l-7 6-3 6l-2 12 2 12l2 6 9 8l6 3 6-1l6-5 3-11l0-12-2-12l-2-6-5-6l-6-2zM630 1383l-4 6-2 12l1 6 3 6l6 4 6-4l2-6 4-9l0-9-1-6l-5-6-6 2zM1414 1341l18-3 48-1l6 2 11 8l4 6 2 6l-2 6-6 6l-15 7-30 4l-18-1-12-1l-10-3-11-6l-5-6-2-6l2-6 6-6zM1425 1341l-18 6-7 6l-1 6 2 6l6 6 13 6l24 3 24-2l12-2 12-5l6-6 2-6l-2-6-6-6l-6-4-18-3l-30 0zM1264 1477l12 0 6 2l7 6 3 6l1 12-1 6l-5 6-5 4l-6 3-12 0l-6-3-6-5l-4-5-1-6l1-12 4-6l6-5zM1257 1485l-5 6-1 6l0 6 2 6l5 6 6 3l6 1 6-1l6-3 5-6l2-6 0-6l-1-6-5-6l-7-4-6-1l-6 1zM784 1640l6 1 1 6l2 42 0 6l-3 6-4-6l-2-12-1-30zM529 1785l-7 42-11 42l-9 22-6 8l-7 5-4-3l11-8 6-8l9-22 10-42l6-37 2-2z" fill="#ef9979" stroke="#ef9979" stroke-width="1.2"/>
<path d="M478 237l6-3 6 0l6 3 5 6l2 6-1 6l-6 9-6 2l-6 0-8-5l-4-6-1-6l1-6zM479 237l-6 6-1 6l1 6 5 7l6 3 6 0l6-3 5-7l1-6-1-6l-5-5-6-3l-6 0zM514 289l6-3 6 0l6 5 1 6l0 6-7 31l-4 35-8 24l-11 24-46 72l-12 24-14 36l-16 24-9 9l-24 6-36 24l-6 7-3 8l-5 54-6 48l0 18 41 84l8 12 7 6l18 7 10 5l53 60 15 9l48 9 24 9l18 8 18 10l60 39 31 18l74 48 7 6l9 12 49 72l11 18 5 18l10 108-1 12l-3 19-18 71l-29 84-13 29l-12 21-6 6l-6 0-13-8l-11-5-24-3l-6 1-6 3l-6 8-4 14l0 12 10 22l0 8-10 30l-5 18-12 72l-6 12-16 18l-6 12-2 60l3 24 6 19l6 9 6 6l18 12 18 3l48 4 30 4l24 8 12 6l6 5 6 6l6 10 16 34l15 23-1 1l-3 0-27-41l-12-12-12-8l-24-8-30-7l-42-4-36 1l-66 12-6 0l-7-5 1-6l6-15 6-8l24-12 5-7l1-2 0-10l-3-36 2-60l4-12 21-24l6-12 14-78l14-42 0-6l-8-18-2-6l0-12 6-18l6-7 6-2l6 0 24 3l24 11 6-1l4-4 14-23l12-25 30-88l17-74 3-18l-2-32-9-76l-3-14-12-22l-48-71-12-15l-11-10-59-42l-110-68-24-12l-24-8-18-4l-24-3-12-4l-14-9-46-54l-6-5-24-11l-9-8-9-16l-24-50-12-23l-3-7 0-18l13-108 3-6l5-4 36-24l6-2 12-2l8-4 6-6l13-18 6-12l11-30 12-24l46-72 9-18l9-24 5-42l7-30 0-9l-2-3-4-4l-6 0-6 3l-5 7-11 30l-2 12-2 30l-9 30-6 12l-13 22-12 16l-12 11-4-1l-2-6 3-24l0-12-20-78l-6-12-7-6l-6-3-6 0l-7 3-4 6l-3 6-5 18l-1 12 3 30l0 12-13 75l0-3-2-1l12-71-3-48l6-36 2-3l9-8 6 2l12 6 6 6l5 9 22 78l1 12-2 30l4 5 6-4l12-13 15-24l10-18 9-30l1-30 3-12l7-24zM592 313l2 2-5 6l-21 18-12 7l-6 1-4-2l2-6 26-13zM562 333l-10 6 4 5l8-5 4-3l4-3-4-1zM796 405l8 0 3 6l-12 6-11 3l-12 3-12 1l-8-1-4-3l-3-3 6-6l9-2zM361 495l-2 12 1 6l4 8 5 4l1 6-6 16l-6 10-12 10l-14 6-10 3l-12 7-8 8l-3 6-2 12l-5 51-6 37l-6 28-6 14l-16 20-5 12l-3 12 0 12l9 42-2 0l-9-42 1-12l2-12 5-12l6-8 12-15l6-15 6-29l6-40 4-49l5-12 5-6l10-7 21-11l7-6 8-12l6-12 1-6l-2-12 0-12l2-13 2-3zM349 987l33 36 30 24l88 78 47 54l35 30 7 12l1 11-3-3l-4-14-4-6l-35-30-29-36l-17-18-25-24l-61-53-33-25l-33-36 0-3zM1060 1016l18-1 24 5l18 8 12 10l8 15 2 12l-1 6-6 12l-9 11-12 7l-12 5-12 3l-18 1-12-1l-18-4-12-5l-14-11-8-12l-2-6-1-12l3-12 9-12l13-9 12-5zM1042 1029l-11 6-7 6l-6 10-3 8l1 12 3 6l5 7 12 9l12 6 12 2l18 1 12-1l12-4 12-6l9-8 5-6l3-12-1-12l-8-12-8-6l-18-8-18-3l-18 1zM1498 1221l12 2 6 4l12 11 7 13l4 18 0 12l-3 12-2 8l-6 10-12 10l-18 8-5 6l12 18 1 6l-2 6-5 6l-13 7-18 4l-18 1-18 0l-18-2-14-4l-10-6-5-6l-1-6 2-6l6-6 10-5l18-5 42-3l17-5-3-6l-12-12-9-12l-4-12 0-18l6-18 11-16l12-9 12-4zM1488 1233l-10 6-11 12l-6 18-1 18l5 12 9 12l12 8 12 2l13-4 9-6l5-6 3-6l4-12 2-8l-1-10-5-18l-6-9-6-5l-6-4-6-1l-6-1zM1413 1341l-13 6-6 6l-2 6 2 6l5 6 11 6l10 3 12 1l18 1 30-4l15-7 6-6l2-6-2-6l-4-6-11-8l-6-2-48 1zM622 1305l6-2 6 2l5 6 2 6l2 12 0 12l-3 11-6 5l-6 1-6-3l-9-8-2-6l-2-12 2-12l5-7zM620 1311l-4 6-2 6l0 12 1 6l7 9 6 3l6-2 4-4l2-6 1-12l-1-9-6-10l-6-2zM595 1347l-6 108-15 92l-16 118-4 18l-4 8 0-5l3-9 5-30l16-121 11-64l1-1 4-76l2-2 0-36l4-4zM634 1379l6-2 5 6l1 6 0 9l-4 9-2 6l-6 4-6-4l-3-6-1-6l2-12zM639 1383l-5 2-5 10l-1 6 2 6l4 4 6-2l4-14-1-6zM1264 1472l12 0 12 5l7 8 3 6l1 12-2 6l-4 6-5 5l-12 5-12 1l-11-5-7-6l-3-6-2-6l1-12 3-6l7-7zM1259 1479l-7 6-4 6l-1 12 1 6l4 6 6 4l6 3 12 0l6-3 5-4l5-6 1-6l-1-12-4-7l-6-5-6-2l-6-1-6 1zM784 1632l6 1 1 2l5 24 1 36l-1 8-6 4l-7-6-2-12l-1-48 1-6zM783 1641l2 48 1 6l4 6 3-6l0-6-2-42l-1-6-6-1zM527 1785l-4 30-5 24l-9 30-9 18l-4 6-11 8l-1-2 0-2l12-10 6-9l6-15 8-24l8-46 2-2l0-6 1-1z" fill="#eb9172" stroke="#eb9172" stroke-width="1.2"/>
<path d="M478 236l6-3 6 0l6 2 6 7l2 7-1 6l-4 6-3 4l-6 2-6 0l-6-3-3-3l-4-6-1-6l1-6zM477 237l-5 6-1 6l1 6 4 6l8 5 6 0l6-2 6-9l1-6-2-6l-5-6-6-3l-6 0zM520 285l6 0 6 5l2 7 0 6l-7 30-5 42l-7 18-11 24l-47 72-12 24l-13 36-16 24l-10 9-18 5l-10 4-32 22l-6 8-2 6l-5 54-7 48l1 18 16 30l25 54 8 12l6 5 23 7l7 5 37 43l18 18 8 6l9 4 42 7l24 9 18 8l30 17 42 28l114 67 6 5l9 11 49 72l11 18 6 18l1 36 8 78l-2 18-16 74l-31 88-17 39l-12 22-6 4l-6 0-15-11l-9-3-12-3l-12-1-6 1l-6 4-6 8l-3 12 1 12l8 18 2 6l0 6-14 48l-12 72-6 12l-16 18-5 12l-1 54 2 24l4 12 4 8l6 7 6 4l6 3 18 4l36 2 36-3l18-5 18-9l12-5 24-3l24 0 33 3l26 6 1 6l-10 12-2 1l-6 5-6 3l-4 3-26 10l-12 6-6 6l-4 8-2 12l2 18 7 18l12 21-2 2l-15-23-16-34l-6-10-6-6l-12-9-18-7l-24-5-78-8l-6-1-18-12l-9-10-6-12l-4-18-2-18l2-60 6-12l16-18 6-12l12-72 5-18l10-30 0-8l-10-22 0-12l4-14 6-8l6-3 6-1l24 3 11 5l13 8 6 0l6-6 12-21l13-29 29-84l18-71 3-19l1-12-10-108l-5-18-11-18l-49-72-9-12l-7-6-74-48l-31-18-60-39l-18-10-18-8l-24-9-48-9l-15-9-53-60l-10-5-18-7l-7-6-8-12l-41-84 0-18l13-108 3-6l4-3 36-24l6-2 12-2l9-5 6-6l12-18 7-12l11-30 12-24l46-72 11-24l7-18 5-42l7-30 0-6l-1-6-6-5l-6 0-6 3l-6 8-10 30l-3 12-1 30l-9 30-10 18l-15 24-12 13l-6 4-4-5l2-24 0-12l-20-78-6-12l-8-9-12-6l-6-2-2 1l10-10 3 8l13 13 7 11l21 78 1 12l-2 24 1 6l2 3 6-4l12-13 14-22l10-18 9-30l1-30 4-18l10-25 6-8zM598 307l2 2-2 6l-12 12-16 12l-9 6-11 4l-7-4 3-6l9-6 19-9l18-14zM588 315l-14 11-26 13l-2 6 4 2l6-1 12-7l15-12 11-12l-2-2zM368 319l2 2 6 0l3-3-3 9l-5 30 3 48l-12 71-2-2l11-69 0-12l-3-36zM760 405l54-5 6 0l6 5-6 7l-18 9-24 6l-24 3-12-3l-5-4 0-6l5-6zM790 405l-24 3-12 2l-3 1-6 6l3 3 4 3l8 1 12-1l18-4 17-8l-3-6zM359 495l-3 18 3 18l-1 8-6 10l-8 12-7 6l-21 11-10 7l-5 6-5 12l-4 49-6 40l-6 29-6 15l-12 15-6 8l-5 12-2 12l-1 12 9 42l-1 0-9-42l0-12 7-24l4-6 16-19l6-18 6-35l6-38 3-40l5-12 5-6l11-9 14-9l5-6 14-30l7-34 3-3zM346 987l33 36 33 25l61 53 25 24l17 18 29 36l35 30 4 6l4 14-3-4l-4-10-4-6l-35-30-11-12l-17-24-16-18l-25-24-60-51l-36-27-30-33zM1042 1005l24-4 24 0l24 5 24 11l16 12 6 6l7 12 3 12l0 6-4 12l-8 12-13 12l-19 11-24 7l-24 2-18-1l-24-5-18-8l-13-12-11-18l-5-18 0-12l1-6 7-12l9-8 17-10zM1055 1017l-13 4-12 5l-13 9-9 12l-3 12 1 12l6 12 6 8l12 9 12 5l18 4 12 1l18-1 18-5l12-6 10-9l8-12 3-6l1-12-4-12l-9-12-15-10l-18-7-18-3zM1486 1213l12-2 6 1l12 6 6 4l6 7 7 10l5 12 2 12l1 12-1 12l-2 9-5 9l-8 12-24 18l0 6 5 12l1 6-2 6l-5 6-16 8l-18 4-18 2l-24-1-18-1l-42-8-8-4l2 0 1-6l5-2 1-4l7-6 9-6l12-6 25-7l30-2 14-3l2-6-15-18l-7-12-2-12l0-12 5-18l10-18 12-12zM1497 1221l-11 3-6 2l-12 9-11 16l-6 18 0 18l4 12 9 12l12 12 3 6l-17 5-42 3l-18 5-10 5l-6 6-2 6l1 6 5 6l10 6 14 4l18 2 18 0l18-1 18-4l13-7 5-6l2-6-1-6l-12-18 5-6l18-8 12-10l6-10 2-8l3-12 0-12l-5-21-11-15l-7-6-6-4zM622 1310l6-2 6 2l6 10 1 9l-1 12-2 6l-4 4-6 2l-6-3-7-9l-1-6 0-12l2-6zM620 1317l-3 12 3 12l2 3 6 4l6-2 2-5l2-6-1-12l-2-6-1-2l-6-2zM640 1383l3 6 1 6l-2 6-2 8l-6 2-4-4l-2-6 1-6l5-10zM633 1395l1 9 6-1l1-8-1-5l-6 4zM590 1389l-2 48-2 18l0-32 2-36l2-2zM1264 1461l18 1 12 5l8 6 5 6l3 6 1 6l-1 12-8 12l-14 10-12 4l-6 1-12-2l-17-7-7-6l-10-12-4-12l2-6 4-6l6-6 9-6l11-4zM1260 1473l-10 6-8 12l-1 12 2 6l3 6 6 6l6 3 12 2l12-2 6-4l5-5 4-6l2-6-1-12l-3-6-5-6l-8-5-12-3zM584 1467l-4 24 0-16l1-9 4-4zM579 1497l-11 71-10 79l-5 30-3 9l0-7 7-44l11-88 4-24l2-2 0-11l2-16 4-3zM784 1628l6 0 5 7l1 6 2 18l2 30-1 12l-3 7-6 3l-7-4-3-6l-2-12-1-48l1-6zM781 1635l-2 12 3 48l2 7 6 5l6-4 1-8l-2-42-2-12l-3-8-6-1zM524 1797l-7 36-9 32l-6 13-6 9l-12 10 0-6l12-9 6-9l6-14 7-26l7-38 2-2z" fill="#e8896c" stroke="#e8896c" stroke-width="1.2"/>
<path d="M478 235l6-2 6-1l6 2 3 3l5 6 1 6l-1 6-3 6l-5 5-6 2l-6-1-6-2l-6-6-2-4l-1-6 1-6zM476 237l-5 6-1 6l1 6 4 6l3 3 6 3l6 0 6-2l3-4 4-6l1-6-2-7l-6-7-6-2l-6 0zM520 283l6 1 6 4l3 9-1 12l-5 18-7 48l-6 18-11 24l-47 72-12 24l-13 36-16 24l-5 6-6 4l-18 4-9 4l-33 23-6 7l-1 6-4 42l-8 60 1 15l3 9 10 18l29 60 6 10l6 5 24 7l6 4 6 6l40 46 12 12l14 8 42 8l18 6 24 10l24 14 59 38l109 60 7 6l14 18 41 60l11 18 4 12l1 12 1 36l6 66 0 18l-1 14-18 78l-30 86-24 50l-6 10-6 4l-6 0-18-14l-12-4-12-1l-12 1-6 4l-4 6-2 6l-2 12 4 12l6 12 2 6l0 6-14 48l-11 72-6 12l-15 18-3 6l-2 12-2 48l4 24 4 12l5 6 12 9l24 5 24 0l30-4 18-6l24-16 12-5l18-6 29-7l31-2 36-1l36 4 27 5l18 6 12 6l8 6 5 6l2 5-1 7l-5 9-13 9l-14 6-22 6l-35 6-36 3l-18 4-12 3l-12 8-5 6l-3 6-2 12l2 12 3 12l10 18-2 3l-12-21-7-18l-2-18 2-12l4-8 6-6l12-6 26-10l4-3 6-3l6-5 2-1l10-12-1-6l-26-6-33-3l-24 0-24 3l-12 5-18 9l-18 5-36 3l-36-2-18-4l-6-3-6-4l-6-7-4-8l-4-12-2-24l1-54 5-12l16-18 6-12l12-72 14-48l0-6-2-6l-8-18-1-12l3-12 6-8l6-4 6-1l12 1 12 3l9 3 15 11l6 0 6-4l12-22 17-39l31-88 16-74l2-18-8-78l-1-36-6-18l-11-18-49-72l-9-11-6-5l-114-67-42-28l-30-17-18-8l-24-9-42-7l-9-4-8-6l-18-18-37-43l-7-5-23-7l-6-5-8-12l-25-54-16-30l-1-18 13-108l7-8 36-24l6-2 12-2l6-3 4-3l6-6 12-18l7-12 10-30l12-24 47-72l11-24 7-18l5-42 7-30l0-6-1-6l-7-6-6 0l-6 3-4 3l-6 12-7 24l-3 12-1 30l-9 30-10 18l-14 22-12 13l-6 4-2-3l-1-6 2-18l0-12-20-78l-6-12-16-18l-3-8 4-4l3 12 14 18l5 12 19 78l1 12-2 18l2 6 6-2l12-13 13-21l10-18 8-24l2-12 1-24l5-24 7-18l3-6 5-5zM592 308l6-3 5 4l-5 8-18 17l-18 12-12 5l-6-2-4-4l3-6 31-17zM592 309l-18 15-19 9l-9 6-3 6l7 4 6-1l22-15 20-18l2-6-2-2zM362 314l6 5 0 38l4 42-2 18l-10 57-2-2l10-61 1-12l-4-42zM784 399l36-3 12 1l4 2 2 6l-5 6-13 9l-45 15-13 6l-2 2-6 3l-12 0-6-5l-6-10-2-8l2-6 5-6l12-6 7-1zM757 405l-15 6-5 6l0 6 5 4l12 3 24-3l24-6 18-9l6-7-6-5l-6 0zM355 501l-6 30-14 30l-5 6-14 9l-11 9-5 6l-5 12-3 40l-6 38-6 35l-6 18-16 19l-4 6-7 24l0 12 8 42l-2-2-1-4l-6-36 0-12l7-24 7-12l14-17 6-21l6-29 7-71l3-12 8-12l22-18 4-6l18-42 5-19l3-3zM1066 981l30 1 30 6l28 11 21 12l11 8 10 10l5 6 3 6l4 12 0 6l-2 12-2 7l-8 11-10 11l-10 7-23 12l-21 7-30 6l-36 0-30-4l-12-3-16-6l-18-12-6-6l-9-12-9-18l-4-12-2-12l1-6 3-9l4-9 8-10l8-8 10-6l12-5 24-7zM1040 1005l-22 9-12 7l-9 8-7 12l-1 6 0 12l5 18 11 18l13 12 18 8l24 5 18 1l24-2 24-7l19-11 13-12l8-12 4-12l0-6-3-12l-7-12-6-6l-16-12-24-11l-24-5-24 0zM348 993l21 24-23-24l0-3zM376 1023l30 22 66 56l19 18 22 24l17 24 11 12l35 30 4 6l4 10-4-3l-2-7-5-6l-29-24-13-12l-25-36-16-18l-84-73-30-18l0-5-5-5zM1450 1191l18-1 12 1l12 3 12 6l12 8 12 12l12 19 4 12l2 12 0 12l-1 12-3 12l-3 6-8 12l-21 18-2 6l3 18-1 6l-5 6-13 8l-24 6-24 1l-42-1-12 2l-6 2-21 18l-11 6-17 6l-29 7-12 1l-12-3-18-9l-12-10-6-7l-5-9-2-6l1-9 4-9l5-6 7-6l11-6 21-6l30-3 18 1l24 5 12 0l42-12 32-3l4-1 6-4l1-1-4-6l-27-24-18-18l0-3-5-3l-1-5-2-1l-4-6 0-6l-6-18 0-6l6-6 1-6l5-2 0-4l6-2 1-4l5 0 12-6zM1480 1215l-12 8-6 5l-9 11-6 12l-5 18 0 12l2 12 7 12l15 18-2 6l-14 3-30 2l-25 7-12 6l-9 6-7 6l-1 4-5 2l-1 6-2 0l8 4 42 8l18 1 24 1l18-2 18-4l16-8 5-6l2-6-1-6l-5-12 0-6l24-18 8-12l5-12 2-12l1-12-2-12l-1-7-6-13l-6-8-12-11l-12-6-6-1l-12 2zM622 1316l6-3 6 2l3 8 1 12l-2 6-2 5l-6 2-6-4l-4-9 0-12zM623 1323l-2 6 1 6l6 7 6-5l1-8-1-6l-6-4zM587 1389l-1 34 0-34l2-2zM634 1394l6-4 1 5l-1 8-6 1l-1-3zM1246 1448l18-4 18 0l12 4 18 11l13 14 6 12l-1 12-6 12l-8 6-21 12l-13 5-12 2l-18-2-22-5l-16-6-10-6l-7-6-7-12l-1-12 3-7l6-8 11-9l13-6zM1260 1461l-8 2-11 4l-9 6-6 6l-4 6-2 6l1 6 3 6l4 6 13 12l5 3 8 3l10 2 12 0l6-1 12-7l8-6 4-6l4-6 1-6l-1-12-8-12l-14-9-12-3zM581 1467l-1 8 0-8l1-1zM576 1497l-2 13 0-13l2-3zM571 1527l-3 20 0-15l1-6 3-3zM566 1557l-9 78-7 44l0-11 14-113l3-3zM778 1629l6-4 6 0l6 7 4 15l3 42-1 12l-2 6-4 5l-6 2-6-2l-4-5-4-12l-2-54 1-6zM781 1629l-4 6 0 6l2 54 1 6l3 6 7 4l6-4 3-6l1-6-3-48l-2-12-4-6l-7-1zM522 1797l-7 36-7 26l-6 14-6 9l-12 9 0-5l12-10 6-9l6-14 7-26l5-30 2-2z" fill="#e48066" stroke="#e48066" stroke-width="1.2"/>
<path d="M478 234l6-2 6 0l6 1 5 4l4 6 1 6l-1 6-3 6l-6 6-6 2l-6 0-6-3l-6-5-3-6l-1-6 1-6l4-6zM475 237l-5 6-1 6l1 6 3 6l5 4 6 2l6 1 6-2l5-5 3-6l1-6-1-6l-5-6-3-3l-6-2-6 1zM514 285l6-3 6 1l6 4 3 4l1 6-2 12l-4 18-1 18l-6 30-6 18l-11 24-47 72l-12 24-13 36l-17 24-5 7l-6 4-18 4l-8 3-34 24l-5 6-2 6l-4 48-7 54l0 12 4 12l11 18 27 58l6 10 6 5l6 3 18 4l7 4 11 11l36 43 18 16l12 4 42 8l30 12 24 13l57 37 21 12l36 17 66 28l36 19 20 8l10 6 2 0l4 4 6 2l4 0 2 4l5 2 7 6l-1 12-2 6l-3 2-2 10l-4 7-6 24l-4 53 7 78l0 12-3 21l-18 75-30 85l-22 47-8 13l-6 4-6-1l-20-16-16-4l-12 0-6 2l-4 2-5 6l-2 6-1 12l3 12 7 12l2 6 1 6l-13 45-10 63l-5 18-3 6l-14 18-3 6l-2 12-3 36l1 18 2 12l4 12 4 6l11 9 12 5l12 1 24 0l24-5 18-7l25-15 17-7l15-5 21-4l36-4 36-1l42 3 30 6l18 6 15 6l10 6 6 6l4 6 2 6l-1 6-2 6l-5 6-8 6l-11 6-16 6l-22 6-80 11l-18 5-12 8l-5 6-3 6l-2 12 4 18l8 16-3 2l-10-18-4-18l-1-12 2-6l3-6 5-6l12-8 12-3l18-4 36-3l35-6 22-6l14-6 13-9l5-9 1-7l-2-5-5-6l-8-6-12-6l-18-6-27-5l-36-4-36 1l-31 2-29 7l-18 6-12 5l-24 16-18 6l-30 4-24 0l-24-5-12-9l-5-6-4-12l-4-24 2-48l2-12 3-6l15-18 6-12l11-72 14-48l0-6-2-6l-6-12-4-12l2-12 2-6l4-6 6-4l12-1 12 1l12 4 18 14l6 0 6-4l6-10 24-50l30-86 18-78l1-14 0-18l-6-66-1-36l-1-12-4-12l-11-18-41-60l-14-18-7-6l-109-60-59-38l-24-14-24-10l-18-6-42-8l-14-8-12-12l-40-46-6-6l-6-4-24-7l-6-5-6-10l-29-60-10-18l-3-9-1-15l8-60 4-42l1-6 6-7l36-24 24-7l5-4 18-24l9-18 8-24l12-24 47-72l11-24 6-18l7-48 6-24l0-6-1-6l-2-3-6-4l-6-1-6 3l-5 5-5 12l-10 30-2 36l-9 30-10 18l-13 21-12 13l-6 2-2-6l2-18-1-12l-16-66-5-18l-8-13-9-11l-3-12 3-3l4 15 11 18l5 12 19 78l1 12-2 18l7 2 6-5l12-16 12-19l6-13 7-27l2-30 2-12l10-30 3-6zM196 303l8 0-8 1l-4-1zM262 303l12-1 36 1l-42 1zM598 303l6 0 1 6l-4 6-15 15l-12 10-18 11l-6 1-7-1l-5-6 3-6l33-18zM590 309l-16 13-31 17l-3 6 4 4l6 2 12-5l18-12 18-17l5-8-5-4zM220 309l12-1 12 1l-18 1-9-1zM359 310l3 4 3 43l4 42-1 12l-10 61 0-10l6-45 2-18l-7-66zM814 393l12-1 12 1l12 6 4 6l5 12-4 6l-17 9-30 11l-6 5-14 17l-10 8-12 6l-18 3-18-1l-13-4-9-6l-5-6-2-6l0-6 3-6l13-18 6-12l6-6 11-6l14-4zM783 399l-29 5-7 1l-12 6-5 6l-2 6 2 8l6 10 6 5l12 0 6-3l2-2 13-6l45-15 13-9l5-6-2-6l-4-2-12-1zM1054 423l12 0 6 6l12 0 6 6l12 0 12 12l6 0-6 6l-30 0-6-6l-12 0-6-6l-6 0-12-12l6 0zM353 501l-1 5 0-5l1-1zM350 513l-7 18-13 30l-4 6-22 18l-8 12-3 12l-7 71-10 43l-2 7-4 5l-14 19-9 23l-1 18 7 40l-3-4-5-36l1-18 8-24l3-6 11-12l6-12 12-52l6-62 2-12l8-12 20-18l4-6 16-36l5-13 4-4zM1030 975l24-4 18-1l18 0 18 2l16 3 14 5l18 8 19 11l27 18 8 8l8 10 4 12l2 12-2 12l-6 12-16 18l-16 12-10 7l-12 5-18 7l-23 5-13 2l-36 2-33-4l-25-6-14-5l-26-13-9-6l-14-12-9-12l-3-12 0-12l3-12 5-12l11-22 12-14l7-6 17-8l18-6zM1065 981l-35 6-24 7l-12 5-10 6l-8 8-8 10l-4 9-3 9l-1 6 2 12l4 12 9 18l9 12 6 6l18 12 16 6l12 3 30 4l36 0 30-6l21-7 23-12l10-7 10-11l8-11 2-7l2-12 0-6l-4-12-3-6l-5-6-10-10l-11-8-21-12l-28-11-30-6zM378 1029l28 17 78 67l22 24 25 36l13 12 29 24l5 6 2 7l-12-15-18-16l-2 0-8-6l-20-18-4-6l-7-18-10-12l-17-18-76-65l-12-7-12-4l0-2-6-6l0-1zM1408 1149l24 0 18 1l21 5 15 7l12 8 12 13l24 35 6 10l6 15 3 14l1 12-2 18l-3 12-6 12l-9 12-14 12l-4 6 2 18l-2 6-4 6l-9 6-19 7l-24 3-48 1l-12 2-9 5l-12 12-9 6l-12 7-31 11l-10 6-1 6l3 6 15 18l6 8 2 8l-2 2 0 20l-9 10-15 11l-24 9-24 3l-30-4-24-8l-12-7-11-10l-6-12 0-12l4-12 13-12l18-10 34-14l8-6 0-6l-23-30-4-12l0-6 3-10l4-8 6-6l9-6 12-6l19-6 16-3l18-2 18 0l12 1 18 5l12 0 42-10l22-3-2-6l-8-3-30-3l-18-3-12-4l-12-7-14-10l-13-12-9-14l-7-16-1-18l2-13 6-17l12-15 17-15l13-7 18-6zM1447 1191l-21 6-12 6l-5 0-1 4l-6 2 0 4l-5 2-1 6l-6 6 0 6l6 18 0 6l4 6 2 1l1 5 5 3l0 3 18 18l27 24 4 6l-1 1-6 4l-4 1-32 3l-42 12-12 0l-24-5-18-1l-30 3-21 6l-11 6-7 6l-5 6-4 6l-1 6 2 12l5 9 9 9l15 11 12 6l12 3 12-1l29-7 17-6l11-6 21-18l6-2 12-2l42 1 24-1l24-6 13-8l5-6 1-6l-3-18 2-6l15-12 9-9l6-10 3-11l3-12 1-12l-2-12-3-12l-5-12-9-13l-12-12-12-8l-12-6-12-3l-12-1zM1240 1449l-19 6-12 6l-11 9-6 8l-3 7 1 12l7 12 7 6l10 6 16 6l28 6 18 0l18-5 13-7l11-7 9-11l3-6 1-6l-2-12-5-8l-6-6-18-14l-12-6-12-1l-12 0zM628 1319l6 4 1 6l-1 8-6 5l-6-7-1-6l2-6zM564 1557l-14 111 0-14l4-35 2-2l0-10 6-50l2-2zM784 1622l7 1 6 6l3 6 3 18l1 18 1 24l-2 12-4 6l-3 3-6 1l-6-1-8-9l-2-6-1-12l-2-42 1-12l2-6 4-4zM777 1629l-2 6-1 12l2 48 4 12l4 5 6 2l6-2 4-5l2-6 1-12l-3-42-4-15l-6-7-6 0zM520 1797l-5 30-9 30l-4 10-6 9l-12 10 0-5l12-10 6-10l4-10 8-26l5-27z" fill="#e27b62" stroke="#e27b62" stroke-width="1.2"/>
<path d="M484 231l5-1 7 2l6 5 4 6l1 6-1 6l-3 6-7 7l-6 2-6 0l-6-3-7-6l-3-6-1-6l1-6 4-5l6-5zM473 237l-4 6-1 6l1 6 3 6l6 5 6 3l6 0 6-2l6-5 3-7l1-6-1-6l-4-6-5-4l-6-1-6 0l-6 2zM514 284l6-3 6 1l6 3 4 6l1 6-2 12l-4 18 0 18l-1 6-8 30l-12 30-50 78l-12 24-10 30l-7 12-13 18l-6 8-6 4l-24 6-30 21l-6 4-4 5l-2 6-4 48l-7 54 0 12l4 12 11 18l26 55 6 11l8 6 22 6l9 6 47 54l16 14 12 5l42 8 30 11l24 13 71 45l25 13 18 6l12 3 12 0l12-3 16-7l20-5 18-2l18 0 12 2l21 5 39 17l18 7 12 2l6 0 6-2l6-4 6-7l13-25 10-12l8-6 11-6l24-9 30-7l30-4 30-1l24 3 24 7l18 9 46 26l14 10 8 8l8 12 4 12l1 12-2 12l-5 12-9 12l-14 12-17 12l-16 9-18 7l-18 5-24 5l-24 2-24 0l-31-4-59-16l-18-1-12 4l-43 31-17 8l-30 8-6 5l-5 15-3 24l7 78-1 18l-21 90-31 89l-23 49-7 10l-5 2-7 1l-18-16-6-3l-12-3-12 0l-6 2-6 6l-3 7-2 12l2 6 11 24l0 12-11 36l-12 78-5 12l-14 18-3 6l-3 12-2 18l-1 24 2 18l5 14 7 10l11 8 12 3l12 1 18-2l24-6 42-22l15-6 21-5l42-7 48-1l29 1 19 3l19 3 23 6l16 6 12 6l8 6 6 6l4 6 1 6l0 6-3 6l-4 6-16 12l-14 6-18 6l-27 6-67 9l-14 3-12 6l-7 6-3 6l-4 12 2 18l6 13-2 3l-8-16-4-18l2-12 3-6l5-6 12-8l18-5 80-11l22-6 16-6l11-6 8-6l5-6 2-6l1-6-2-6l-4-6-6-6l-10-6-15-6l-18-6-30-6l-42-3-36 1l-36 4-21 4l-15 5-17 7l-25 15-18 7l-24 5-24 0l-12-1-12-5l-11-9-4-6l-4-12-2-12l-1-18 3-36l2-12 3-6l14-18 3-6l5-18 10-63l13-45-1-6l-2-6-7-12l-3-12 1-12l2-6 5-6l4-2 6-2l12 0 16 4l20 16 6 1l6-4 8-13l22-47 30-85l18-75 3-21l0-12-7-78l4-53 6-24l4-7 2-10l3-2 2-6l1-12-7-6l-5-2-2-4l-4 0-6-2l-4-4-2 0l-10-6-20-8l-36-19-66-28l-36-17-21-12l-57-37-24-13l-30-12-42-8l-12-4-18-16l-36-43-11-11l-7-4-18-4l-6-3-6-5l-6-10-27-58l-11-18-4-12l0-12 7-54l4-48 2-6l5-6 36-24l24-7 6-4l14-19 10-18l11-30 12-24l28-42 25-42l10-24 7-36l1-18 5-24l0-12-3-4l-6-4-6-1l-6 3-6 6l-8 18-7 24l-2 36-9 30l-9 18-13 20l-12 12-6-1l1-25-3-18l-19-72-14-24l-4-15 3-3l3 18 10 18l7 18 17 72l0 24 5 6l6-5 12-15l12-20 6-13l6-25 2-30l2-12 10-30l4-7zM1027 975l-33 10-17 8l-7 6-12 14l-14 28-4 12l-1 12 1 12l2 6 9 12l14 12 9 6l26 13 14 5l25 6 33 4l36-2 13-2l23-5 18-7l12-5 10-7l16-12 16-18l6-12 2-12l-2-12-4-12l-8-10-8-8l-17-12-21-12l-32-15-12-4l-18-3-36-1zM274 297l24 0 24 6l4 6-4 2l-36-5-54 8l-34-5-16-6l2-3 6-3l29 5 1 1l36 0 3-3zM260 303l8 1 42-1l-36-1zM217 309l15 1 12-1l-12-1zM598 302l6-1 2 2l0 6-2 4l-13 14-17 14l-12 8-12 5l-6-1-5-2l-6-6 11-9l30-17zM597 303l-23 18-33 18l-3 6 5 6l7 1 6-1l18-11 12-10l15-15 4-6l-1-6zM355 307l4 3 0 23l7 66-2 18l-6 45 0-16l5-47-7-66zM994 375l14-4 16 16l6 0 18 18l36 0 6 6l42 0 6 6l24 0 6 6l24 0 6 6l5 0 6 12l1 6 1 12l-3 12-4 9l-6 7-11 8l-7 4-21 8l-27 5-30 2l-24-3-24-4l-37-12-23-12l-12-9-6-6l-14-21-10-26l-5-10-1-6l14-12 19-12zM1054 423l-6 6-6 0l12 12 6 0l6 6 12 0l6 6 30 0l6-6-6 0l-12-12-12 0l-6-6-12 0l-6-6zM904 387l12 1 13 5l7 6 4 6l-3 6-17 12l-28 14-30 17l-12 5-42 9l-24 13-12 4l-24 4-18-2l-15-4-10-6l-7-6-3-6l-2-6 0-6l2-6 5-9l17-21 7-6l12-6 24-7l60-8 18-1l24 5 6 0zM811 393l-57 8-14 4l-11 6-6 6l-6 12-13 18l-3 6 0 6l2 6 5 6l9 6 13 4l18 1 18-3l12-6 10-8l14-17 6-5l30-11 17-9l4-6-5-12l-4-6-12-6l-12-1zM347 513l-21 48-4 6l-20 18-8 12l-2 12-6 62l-12 52-6 12l-11 12-3 6l-8 24-1 18l6 37-2-1l-5-36 1-18l7-24 4-7l12-14 6-14l6-24 6-34l4-51 3-12l7-12 19-18l24-51 4-4zM388 1039l12 5 12 9l70 60 17 18l10 12 7 18l4 6 28 24l-4 0-38-30l-3-6 4-6l-5-12-22-24l-26-24-48-39l-6-3-6-2l-9 0-3-4l0-4zM1390 1142l18-2 18-1l24 0 18 2l24 7 12 7l7 6 10 12l7 13 18 44l4 15 2 12l0 18-3 18l-4 12-7 12l-18 18-4 6l-1 6 1 12l-1 6-4 6l-7 6-12 5l-18 5-18 2l-42 1-12 3l-6 3-13 11l-11 9-33 15l-10 6-4 6l1 6 16 24l0 6-4 4l-2-8-6-8l-15-18-3-6l1-6 10-6l31-11 12-7l9-6 12-12l9-5 12-2l42 0 18-2l24-6 12-5l4-4 4-6l2-6-2-18l4-6 18-16l8-14 6-18l2-18-1-12l-3-12-4-12l-8-15-27-39l-9-9-13-9l-17-7-18-4l-18-1-18 0l-18 2-18 4l-25 12-15 12l-8 10-6 10l-6 15-2 13l0 12 3 12l6 12 8 12l9 9 12 10l12 7 12 5l12 3 42 5l8 3 2 6l-22 3-42 10l-12 0-18-5l-12-1-18 0l-18 2-16 3l-19 6-12 6l-9 6-6 6l-4 8-3 10l0 6 4 12l23 30 0 6l-8 6-44 18l-14 11-7 7l-4 12-1 6l4 12 9 12l8 6 11 6l17 6 29 4l24-1 11-3l16-6 10-6l8-6 9-10l0 10-12 10l-17 8-19 6l-12 2-18 0l-23-2-19-5l-12-5-12-8l-12-12-5-12l-1-12 6-13l12-13 15-10l27-12 8-6l3-6-2-6l-12-18-6-12l-1-12 3-12l7-9 9-9l10-6 14-6l27-7 58-11l0-6-28-31l-12-18-5-11l-2-12-1-12l2-12 6-17l6-11 6-8l12-12 12-8l12-6 12-5zM556 1197l15 12 5 9zM560 1569l-4 38 0-18l2-22 3-3zM1132 1592l24-3 24 2l12 2 12 4l16 8 13 12l7 12 2 12l-1 6-5 12l-8 10-12 8l-13 6-17 5l-18 2-18 0l-12-1-12-5l-6-5-6-9l-20-41-2-12l2-6 8-6l12-7zM554 1623l-4 31 0-7l-1-1 3-25l2-2zM778 1622l6-2 6 0l6 4 4 5l2 6 4 18l2 42-1 12l-5 9-6 4l-6 1-6-2l-8-6-3-6l-3-12-2-54l4-12zM781 1623l-7 6-2 12l2 54 0 6l4 8 6 7l6 1 6-1l3-3 4-6l2-6-2-42l-2-18-4-12l-7-6-6-1zM518 1803l-8 36-8 22l-6 10-12 10l0-6 12-10l6-9 8-23l7-33 2-2z" fill="#de735c" stroke="#de735c" stroke-width="1.2"/>
<path d="M484 229l3 0 2 1l-5 1-6 2l-6 4-4 6l-1 6 1 6l3 6 7 6l6 3 6 0l6-2 7-7l3-6 1-6l-1-6-4-6l-6-5-4-1l4 0 8 6l3 6 1 6l-1 6-2 6l-9 8-6 2l-6 0-6-2l-9-8-2-6l0-12 3-6l8-5zM514 282l6-2 6 0l6 4 4 7l1 12-5 30l6 5 30-16l30-22 6 0l4 3-1 6l-3 6-18 18l-24 17-12 5l-6 0-12-3l-5 11-4 18l-12 30-51 80l-12 24-9 28l-11 18-16 21l-6 4-18 4l-6 2-35 23l-4 6-3 12l-4 48-6 48l1 12 3 10l9 14 27 57l9 15 9 6l18 4 12 8l42 49 18 17l12 6 36 6l30 10 24 11l69 45 27 13l18 7 12 0l6-1 26-13l22-7 18-2l18 0 18 2l18 3 18 6l36 16 12 4l12 1 11-5l5-6 13-24l5-6 14-9l18-8 30-10l30-6 30-3l30 0 24 4l18 6 78 42l11 8 10 12l7 12 4 12l1 12-1 12l-5 12-8 12l-14 12-18 12l-21 12-20 9l-18 5-24 5l-18 2-24 1l-24-1-18-3l-54-11-18 0l-6 1-12 5l-30 20-17 9l-17 6-26 8l-6 7-5 21l0 24 5 66l-1 12-5 28l-12 52-5 16l-26 72-23 54l-7 12-5 7l-6 3-6-1l-5-3-11-12l-8-5-12-3l-12 1-5 1l-6 6-3 6l-1 12 1 6l12 24 0 12l-10 42-4 30l-5 36-7 18l-14 18-4 6l-3 12-3 24l0 18 2 18l5 12 9 12l6 4 12 3l12 1 12-1l12-2 12-5l42-21 30-10l24-5 24-3l30-2 24 0l24 1 30 4l30 6 18 5l17 7 10 6l9 7 7 11l2 9-34 33l-15 6-22 6l-28 6-54 6l-12 3-12 5l-6 4-6 6l-4 12 0 12l5 17-3 2l-6-13-2-18l4-12 3-6l7-6 12-6l14-3 67-9l27-6 18-6l14-6 16-12l4-6 3-6l0-6-1-6l-4-6-6-6l-8-6-12-6l-16-6-23-6l-19-3-19-3l-29-1-48 1l-42 7-21 5l-15 6-42 22l-24 6-18 2l-12-1-12-3l-11-8-7-10l-5-14-2-18l1-24 2-18l3-12 3-6l14-18 5-12l12-78 11-36l0-12-11-24l-2-6 2-12l3-7 6-6l6-2 12 0l12 3 6 3l18 16 7-1l5-2 7-10l23-49 31-89l21-90 1-18l-7-78 3-24l5-15 6-5l30-8 17-8l43-31 12-4l18 1 59 16l31 4 24 0l24-2 24-5l18-5 18-7l16-9 17-12l14-12 9-12l5-12 2-12l-1-12-4-12l-8-12-8-8l-14-10-46-26l-18-9-24-7l-24-3-30 1l-30 4-30 7l-24 9-11 6l-8 6-10 12l-13 25-6 7l-6 4-6 2l-6 0-12-2l-18-7-39-17l-21-5-12-2l-18 0-18 2l-20 5-16 7l-12 3-12 0l-12-3-18-6l-25-13-71-45l-24-13-30-11l-42-8-12-5l-16-14-47-54l-9-6-22-6l-8-6-6-11l-26-55-11-18l-4-12 0-12l7-54 4-48l2-6 4-6l36-24 6-2l18-4 6-4l6-8 13-18l7-12 10-30l12-24 43-66l12-24 7-18l9-36 0-18l5-24 0-12l-4-6-6-3l-6-1-6 3l-7 7-8 18l-5 18-2 12l-2 30-6 25l-6 13-12 20l-12 15-6 5l-5-6 0-24l-17-72-7-18l-10-18-3-18l2-2 4 20l9 18 4 12l18 72 2 12l0 18 3 4l6-4 6-7l12-18 8-17l9-30 2-30l2-12 13-36zM594 303l-20 16-30 17l-11 9 6 6l5 2 6 1l12-5 12-8l18-15 10-11l4-6 0-6l-2-2-6 1zM178 297l12-2 26 5l3 2-29-5l-6 3-2 3l16 6 28 5l12-1 48-7l36 5 4-2l-4-6-22-6l-20 0-21 3l3-3 24-3l18 2 18 5l5 2 4 6l-3 4-6 1l-36-5-48 7l-12 0-38-7l-13-6zM352 304l3 3 1 26l7 66-5 47l0-19 2-28l-7-66zM1000 363l4-1 2 1l0 6 2 2l-15 4-14 6l-19 12-14 12l1 6 5 10l10 26 14 21l9 9 9 6l23 12 16 6l27 7 24 4l24 2 18-1l24-4 25-8l12-6 14-12l7-12 3-12l-1-14-7-16l13 0 3 4l3 5 4 15l-1 12-3 12l-9 12-9 9l-15 9-15 6l-30 7-36 3l-38-4-40-10l-22-8-20-10l-12-12-18-23l-12-13-6-5l-12-3-18 2l-18 7-12 7l-24 18-12 6l-78 18-24 1l-24-5-12-5l-6-4-9-9l-3-6-1-6l1-12 5-12l4-6 12-12l8-6 11-6l14-5 24-5l60-8 12-1l24 2 12-2l30-6 48-2zM903 387l-35 7-6 0l-24-5-18 1l-60 8-24 7l-12 6-7 6l-17 21-5 9l-2 6 0 6l2 6 3 6l7 6 10 6l15 4 18 2l24-4 12-4l24-13 42-9l12-5 30-17l28-14 17-12l3-6-4-6l-7-6-13-5zM342 519l-23 48-19 18l-7 12-3 12l-4 51-6 34l-6 24-6 14l-12 14-4 7l-7 24-2 12l6 42-2 0l-2-18-3-18l0-12 4-18l6-18 16-22l12-40 6-44l2-38 6-12l22-24 23-48l4-3zM934 645l24 0 22 6l11 6 9 7l6 6 6 11l5 18-1 6l-3 12-7 12l-5 6-8 6l-10 6-13 5l-12 3-18 1l-17-3-16-6l-10-6-11-10l-6-8-5-12l-2-12 2-12l6-12 10-12l8-6 11-6zM1780 879l0 10-2-4zM1774 891l2 6-2 26l-6 14-12 16l-4-2 4-6l8-12 4-11l1-1 3-6zM1750 954l1 3-1 3l-2-3zM388 1045l6 0 6 2l6 3 68 57l18 18 10 12l5 12-4 6l3 6 30 24l-4 0-6-6l-2 0-40-27l-25-15-18-12l-53-60 0-18l-3-2zM395 1053l1 6 7 12l30 36 15 14l12 9 18 9l18 6 2-2l0-6-3-6l-10-12-19-18l-60-48-6-2zM1420 1131l60-2 12 0l12 3 10 5l8 6 6 8l6 12 6 19l13 57 3 18l-1 12-3 24l-7 18-8 12l-17 18-2 6l1 12-1 6l-4 6-8 6l-20 9-24 4l-48 3-12 4l-24 20-36 19l-6 7-1 6l2 6 9 14l-4 4-16-24l-1-6 4-6l10-6 33-15l11-9 13-12l6-2 12-3l42-1 24-4l18-5 13-9l4-6 1-6l-1-12 1-6l4-6 18-18l7-12 5-18l3-18-1-12l-3-18-21-53l-6-12-6-8l-6-6-12-9l-12-5-18-5l-18-2-24 0l-24 1-16 3l-19 6-13 6l-18 12-17 18l-10 18-3 12l-2 12 2 18l6 18 12 17l28 31 0 6l-58 11-24 6l-18 8-16 11l-9 12-3 12l0 6 4 12l15 24 2 6l-3 6-8 6l-30 14-16 10l-10 12-4 12l0 6 1 6l5 12 12 12l9 6 12 6l22 6 23 2l24-1 18-4l12-5 12-6l12-10 0 7l-12 8-18 8l-18 5-18 2l-18 0-24-3l-18-6-12-5l-14-10-10-12l-5-12-1-12l4-12 9-12l17-12 30-15l3-3 4-6l0-6-14-24l-3-12 1-12l6-12 11-12l16-10 20-8l44-12 11-6l2-6-2-6l-22-30-5-12l-3-12-2-12l1-18 4-12l6-13 6-11l10-12 14-10l12-8 13-6l18-6 17-3zM558 1569l-2 20 0-20l2-2zM1126 1586l30-4 24 2l24 5 21 10l15 12 6 8l4 10 2 14l-3 10-2 6l-10 12-15 12l-14 6-16 5l-18 3-24 0l-18-2-12-6l-6-7-6-10l-21-43-3-12l0-6 4-6l7-6 13-7zM1128 1593l-17 6-11 6l-6 6-2 6l2 12 20 41l6 9 6 5l12 5 12 1l18 0 18-2l17-5 13-6l12-8 8-10l5-12 1-6l-2-12-7-12l-13-12-16-8l-12-4-12-2l-24-2zM552 1623l-3 23-2-2l1-14 2-1l0-6 2-2zM778 1619l6-1 6 0l8 5 7 12l5 24 3 30l-1 18-3 6l-4 6-9 6l-12-1-6-3l-7-8-4-12l-3-48 1-12l3-12 4-6zM776 1623l-4 6-4 12l2 54 3 12l3 6 8 6l6 2 6-1l6-4 5-9l1-12-2-42l-4-18-2-6l-4-5-6-4l-6 0zM516 1803l-6 30-8 23l-6 9-12 10l0-6 6-3l6-6 6-10l6-17 7-31l2-2z" fill="#db6b55" stroke="#db6b55" stroke-width="1.2"/>
<path d="M478 230l6-2 2 0l1 1-3 0l-6 3-6 4l-5 7-1 6l1 6 2 6l9 8 6 2l6 0 6-2l9-8 2-6l1-6-1-6l-3-6-8-6l1-1 8 7l3 6 1 6l-1 6-2 6l-4 5-6 5l-12 1-6-2l-10-9-3-12l1-6 3-6zM520 279l6 0 6 3l5 9 1 12l-5 24 2 6l3 2 30-14l30-22 6-1l5 5 0 6l-4 6-13 14l-24 19-12 6l-6 2-6 0l-6-1-6 0l-10 32-10 24l-52 82-12 24l-8 26-6 12l-13 18-9 10l-6 4-18 3l-6 3-33 22l-5 6-3 12l-4 48-5 48l0 12 2 7l13 23 29 60l5 6 7 4l18 4 12 8l43 50 11 11l9 7 15 6l24 3 18 4l24 9 30 16l60 40 30 13l12 2 6-1l48-22 18-5l18-1 24 2l24 4 18 5l36 15 12 3l6 0 6-2l6-5 9-20l9-10 12-7l18-9 36-12l30-6 30-3l30 0 24 3l18 6 18 9l36 20 36 17l13 10 11 12l7 12 5 12l3 18-1 12l-4 12-7 12l-13 12-18 12l-26 14-23 10l-19 7-24 5l-42 3-36-1l-54-11-12-1l-12 1-18 5l-36 22-13 6l-17 6-24 6l-6 3-6 10l-3 17 0 18l5 66-2 19l-17 71-5 18l-26 75-22 51l-8 15-6 6l-6 3-6 0l-6-4-12-14l-12-6-12-1l-7 1-8 6l-3 6-2 12l2 6 10 18l3 12 0 6l-6 30 0 12l5 20 5 4l1 3 7 3l5 4 11 2l1 2 0-8l4-6 2-1l1-5 5-6l15-30 5-6l10-7 6-1l6 0 6 3l6 5 4 6l5 12 13 36l2 24-1 12l-7 12-10 9l-18 7-12 0l-6-1-8-3l-8-6-10-12l-4-7-5-5l-1-10-6 2l-1 2-11 3l-3 3-3 1l-6 3-1 2l-5 2-3 4l-3 2-26 28l-6 12-3 12l-3 24 1 18l5 18 8 13l7 5 11 4l12 1 12-1l18-6 48-24l30-10 24-4l30-4 30-1l30 1 29 2l31 5 28 7l17 6 22 12l12 12 2 3l-3 3 0 6l-3 3-2-9l-3-6-5-6l-11-8-18-9l-23-7-28-6l-27-3-24-2l-24 0-30 1l-24 3-24 4l-30 9-48 24l-12 5-12 2l-12 1-12-1l-12-3-6-4l-9-12-5-12l-2-18 0-18l3-24 3-12l4-6 14-18l7-18 5-36l4-30 10-42l0-12-12-24l-1-6 1-12l3-6 6-6l5-1 12-1l12 3 8 5l11 12 5 3l6 1 6-3l5-7 7-12l23-54 26-72l5-16 12-52l5-28 1-12l-5-66 0-24l5-21 6-7l26-8 17-6l17-9 30-20l12-5 6-1l18 0 54 11l18 3 24 1l24-1 24-3l24-5 18-6l14-7 21-12l18-12 14-12l8-12 5-12l1-12-3-18l-5-12-8-12l-11-10-12-8l-72-38-24-8l-24-2-30 0l-30 4-30 6l-30 11-18 9l-8 6-5 6l-13 24-5 6l-11 5-12-1l-12-4-36-16l-18-6-18-3l-18-2-18 0l-18 2-22 7l-26 13-6 1l-12 0-18-7l-27-13-69-45l-24-11-30-10l-36-6-12-6l-18-17-42-49l-12-8-18-4l-9-6-9-15l-27-57-9-14l-3-10-1-12l6-48 4-48l3-12 4-6l35-23 6-2l18-4 6-4l7-9 13-18l7-12 9-28l12-24 51-80l12-30 4-18l5-11 12 3l6 0 6-2l12-6 18-14l18-18 3-6l1-6-4-3l-6 0-30 22l-30 16-6-5l5-30-1-12l-4-7-6-4l-6 0-6 2l-4 3-4 6l-3 6-10 30l-2 12-2 30l-9 30-8 17l-12 18-6 7l-6 4-3-4l0-18-2-12l-16-66-6-18l-9-18-4-20l2-2 4 22l13 30 17 72l2 24 2 7l6-3 6-7l18-28 6-16l3-13 2-12l1-30 9-30l5-12 4-5l6-5zM772 1623l-4 6-4 18l2 48 2 12l3 6 7 8l6 3 12 1l6-3 6-6l4-9 1-6l-2-36-4-24l-5-12-6-8l-6-3-6 0l-6 1zM178 294l12-1 23 4l3 3-20-4l-12-1-7 2l-2 6 15 7l36 6 12 0l48-7 36 5l6-1 3-4l-4-6-17-6l-18-3-23 2l3-3 14-1l18 2 18 4l10 5 4 6l-5 6-3 1l-6 1-24-5l-12-1-48 7l-12 0-36-6l-18-7 0-9zM352 303l1 30 7 60l0 12-2 22l0-4-2-2l1-28-8-84l0-6zM994 356l3-1 7 7l-16 4-36 12l-48 2-30 6l-12 2-24-2l-18 1-66 10l-26 8-11 6l-14 12-9 12l-4 6-3 12l1 9 3 9l9 9 12 7l18 5 18 2l24-2 72-17l12-6 24-18l12-7 18-7l18-2 12 3l6 5 36 43l12 8 14 7l34 12 28 6l32 3 30 0l24-4 24-7l19-10 14-12l9-12 3-12l1-6-1-12l-6-14 15 14l0 6 4 5l0 7-3 12l-7 12-12 12l-12 9-18 8l-18 5-18 4l-36 3-42-3l-36-8-30-11l-18-9-12-10l-24-32-12-10l-12-5-18 1l-18 6-16 10l-20 19-12 7l-12 4-18 4l-42 6-30 0l-18-3-12-4l-12-6-6-5l-6-6-6-10l-1-6 1-12l4-12 8-12l7-6 9-6l27-12 23-5l60-9 18-2l30 0 36-8l42-5zM336 525l-20 42-22 24l-6 12-2 38l-6 44-12 40l-16 22-9 30l-1 12 4 30l1 12-2 0l-1-18-4-18l1-18 9-31l8-23 5-18l5-5 3-7l3-3 6-22l1-59 1-6l15-18 17-18l22-48 3 0zM922 639l18-3 12 0l24 5 11 4l10 6 9 7l10 11 8 18l2 12-1 12l-8 18-10 12l-7 6-12 7l-18 7-18 3l-18-1-18-3l-16-7-14-10l-12-13-7-13l-3-12 2-18l4-12 9-12l13-11 12-7zM930 645l-20 6-11 6l-8 6-10 12l-6 12-2 12l2 12 5 12l6 8 11 10l10 6 16 6l17 3 18-1l12-3 13-5l10-6 8-6l5-6 7-12l3-12 1-6l-2-12-3-8l-6-9-7-7l-8-6-11-6l-22-6-12-1zM1780 867l6 4 1 8l-8 48-6 13l-33 33-4-4l0-6 23-36l5-12 4-24l4-18 2-3zM1779 879l-1 6 2 4zM1773 897l-1 18-3 6l-1 1-4 11l-8 12-4 6l4 2 12-16l6-14 2-26l-2-6zM1748 957l2 3 1-3l-1-3zM1558 1023l6 0 18 18l0 18-6 6l-2 6 2 12l-3 18-5 18l-10 26-5 22l1 42 5 42l-1 18-4 24l-3 12-5 11l-6 7-16 18l-2 6-2 18l-3 6-13 10l-18 6-24 4l-42 3-12 4l-24 21-34 18l-6 6-2 6l2 6 4 8l0 4-2 2l-9-14-2-6l1-6 6-7l36-19 24-20l12-4 48-3l24-4 18-7l10-8 4-6l1-6-1-12l2-6 20-21l8-15 5-18l3-24-3-24l-18-72-8-18l-5-6-12-8l-12-4-12-2l-68 2-34 5l-30 10-18 11l-19 16-12 18l-5 12-4 12l-1 18 2 12l3 11 9 19l18 24 2 6l-2 6-11 6l-40 11-18 7l-14 6-15 12l-8 12-2 6l-1 12 3 12l14 24 0 6l-4 6-3 3l-30 15-17 12l-9 12-2 6l-2 12 1 6l5 12 10 12l8 6 12 7l24 8 30 3l24-1 18-4l12-4 12-6l12-8 0 5l-18 10-18 7l-18 3-24 2l-24-2-18-4l-18-8-14-8l-10-10-6-8l-5-12 0-12l5-14 6-8l6-6 12-9l30-16 5-7l1-6-2-6l-10-18-4-12l1-12 5-12l11-12 17-11l18-8 36-12l10-5 5-6l0-6-3-6l-12-18-7-12l-4-12-2-18l1-16 3-14l7-18 8-12l10-12 14-10l12-8 14-6l34-9 62-9l19-6 11-6l13-12 9-11l24-25 0-5l6-1 0-6zM400 1051l6 2 6 4l60 50 23 24l3 6 0 6l-2 2-18-6l-18-9-18-14l-39-45-7-12l-1-6zM405 1059l2 6 8 12l33 38 18 12l12 6 12 4l1-6-9-12l-12-12-28-24l-24-18-6-4l-6-2zM398 1077l44 49 17 11l25 15 40 27l-4 0-6-6l-4 0-68-42l-12-11-36-41l0-7zM1126 1580l24-3 30 1l24 5 24 10l16 12 8 10l4 8 4 12l0 6-2 12l-38 38-16 6l-24 5-24 1l-24-2-12-5l-7-7-8-12l-23-48-5-12l0-6 2-6l5-5 8-7l16-7zM1122 1587l-16 6-11 6l-7 6-4 6l0 6 3 12l21 43 6 11l6 6 6 3l12 4 24 2l18-1 18-4l12-4 18-10l9-8 10-12l4-12 1-6l0-6-4-12l-8-12-6-6l-12-8-24-10l-24-4-24 0zM548 1635l-1 9-2-2l1-9 2-3zM515 1803l-7 30-6 17l-6 10-6 6l-6 3 0-6l6-3 6-6l6-10 6-17l3-15 3-3l0-6 1-1zM1024 1899l-6 6-6 0l-5 5-13 1l-4 3-2 1l-11 2-13 0l-3 3-9 1l-23 2-13 0l-2 2-19 4l-9 0-6 6l0 2-6 7l-5 9-1 12l4 14-3 3l-5-17 0-12l4-12 6-6l6-4 12-5l12-3 54-6l28-6 22-6z" fill="#d7634f" stroke="#d7634f" stroke-width="1.2"/>
<path d="M478 228l6-1 2 1l-8 2-6 4l-6 9-1 6l3 12 10 9l6 2 12-1l6-5 4-5l2-6 1-6l-1-6-3-6l-8-7 1-1l9 8 3 6l1 6-1 6l-3 6-5 7l-6 4-12 1l-6-1-6-5l-5-6-3-6l-1-6 4-12zM520 277l6 1 6 2l4 5 3 6l0 12-4 24l3 5 12-4l18-8 30-22l6-1 6 4l1 2-1 6l-4 6-14 15l-24 19-12 7l-6 1-12 0l-6 2-9 28l-7 18-7 12l-49 77-12 25l-10 30-8 12l-8 12-10 11l-6 3-18 4l-6 3-32 21l-5 6-3 12l-5 60-4 36l0 12 2 6l14 24 27 56l6 8 6 4l18 4 12 7l48 56 9 9l9 6 12 4l36 6 30 10l24 12 60 40l24 12 12 3l12 0 6-2l42-22 18-6l12-2 24 0l36 4 24 5l24 9 12 1l6-3 3-5l5-18 5-12l5-5 6-5l12-6 18-7l18-5 24-4l30-3 30 0l36 4 30 9l30 13 36 21l42 18 12 8l12 12 11 16l6 12 4 18l0 18-6 18l-9 12-12 11l-12 7-54 27l-18 6-24 6l-24 4-24 2l-42-2-60-10l-18 1-18 6l-30 19-12 5l-18 7-30 7l-6 4-6 14l-2 12 5 78l-3 24-18 78l-28 78-25 60l-7 13-6 5l-6 2-6 0l-6-4-14-16l-10-5-6-1l-12 2-6 3l-5 7-1 6l2 12 12 24l2 6-1 24l3 9 6 1l36-5 6-3l9-8 9-4l12 0 6 2l10 8 14 19l13 11 11 12l6 9 4 9l2 18-1 12l-5 12-6 11l-7 7-11 9l-12 8-24 8l-18 3-12-2l-6-4-24-21l-12-5-18-3l-12 2-6 4l-9 7-7 12l-4 12-3 18l0 18 2 12l4 12 3 6l6 6 8 5l6 2 12 1l11-2 17-6l44-23 30-10l42-7 36-2l30 0 30 2l30 4 33 6l21 6 18 7l17 11 9 9l-5 6-7-9l-14-11-15-7l-17-6-24-6l-28-5-48-4l-54 2-24 3l-24 4-30 10l-48 24-18 6l-12 1-12-1l-11-4-7-5l-8-13-5-18l-1-18 3-24l3-12 6-12l26-28 3-2l3-4 5-2l1-2 6-3l3-1 3-3l11-3 1-2l6-2 1 10l5 5 4 7l10 12 8 6l8 3 6 1l12 0 18-7l10-9 7-12l1-12-2-24l-13-36-5-12l-4-6-6-5l-6-3-6 0l-6 1-10 7l-5 6-15 30l-5 6-1 5l-2 1-4 6l0 8-1-2l-11-2-5-4l-7-3-1-3l-5-4-5-20l0-12 6-30l0-6-3-12l-10-18-2-6l2-12 3-6l8-6 7-1l12 1 12 6l12 14 6 4l6 0 6-3l6-6 8-15l22-51 26-75l5-18 17-71l2-19-5-66l0-18 3-17l6-10 6-3l24-6 17-6l13-6 36-22l18-5 12-1l12 1 54 11l36 1 42-3l24-5 19-7l23-10 26-14l18-12 13-12l7-12 4-12l1-12-3-18l-5-12-7-12l-11-12-13-10l-36-17-36-20l-18-9-18-6l-24-3-30 0l-30 3-30 6l-36 12-18 9l-12 7-9 10l-9 20-6 5l-6 2-6 0l-12-3-36-15l-18-5-24-4l-24-2-18 1l-18 5-48 22l-6 1-12-2l-30-13-60-40l-30-16-24-9l-18-4-24-3l-15-6-9-7l-11-11-43-50l-12-8-18-4l-7-4-5-6l-29-60-13-23l-2-7 0-12l5-48 4-48l3-12 5-6l33-22 6-3l18-3 6-4l9-10 16-24l11-32 12-24l52-82 10-24l10-32 6 0l6 1 6 0l6-2 12-6l18-13 13-14l10-12 0-6l-5-5-6 1l-30 22-30 14l-3-2-2-6l5-24-1-12l-5-9-6-3l-6 0-6 2l-5 4-5 6l-11 30-3 12l-2 36-4 18l-4 12-8 16l-12 17-6 7l-6 3-2-7l-2-24-6-24l-11-48-13-30l-4-22 2-2l5 24 11 30l17 72 3 26l6 0 6-6l12-18 9-20l5-24 2-30l2-12 10-30l8-13 6-4zM184 291l27 4 2 2l-23-4-6 0l-12 3 0-3zM286 290l12 1 24 5l16 7 2 3l5-3 4 0l0 12 8 78l-1 28-3-2l1-26-7-66l-1-9-6-5l-2 2-10 4l-6 0-24-5l-12-1-54 8l-12-1-24-5l-24-7 0-3l18 7 36 6l12 0 48-7l12 1 24 5l6-1 3-1l5-6-4-6l-14-6-20-4l-12-1-14 1l2-2zM982 351l9-2 6 6l-45 14-48 6l-36 8-42 1l-60 9-24 5l-20 7-21 12l-7 6-6 9l-5 9-2 12l1 12 6 10l8 8 10 6l12 5 24 5l30 0 42-6l18-4 18-6l30-26 18-10l12-4 18-1l6 2 12 7l12 13 18 25l6 6 9 6l12 6 33 12l28 6 32 4l30 1 24-3l24-5 18-6l16-9 15-12l9-12 5-12l1-13 2 1l0 6 8 9l-7 15-7 10l-10 8-14 10l-12 6-18 6l-18 4-18 3l-24 1-42-3l-42-8-36-13l-18-10-6-6l-17-26-13-14l-12-8-12-3l-18 2-18 9l-11 8-19 21l-12 8-24 6l-24 3-42 2l-18-2-18-3l-12-5-12-7l-6-5-9-12l-3-6-1-12l2-12 5-12l10-12 9-6l13-6 22-7l24-6 72-11l36-2 30-7l36-6 18-5zM334 519l2 0-22 48l-17 18-15 18l-1 6-1 59l-6 22-3 3l-3 7-5 5l-1 6-6-6l-6 0-7-7l-2-17 1-12l5-27 3-3l0-6 6-6l0-6 6-6l0-6 6-6l0-15 18 3l6-4 15-14l7-12zM922 632l12-2 18 0l18 3 12 3l12 5 12 8l9 8 9 10l4 8 4 12l2 12-1 12l-4 12-7 12l-10 11-9 7l-15 9-18 5l-24 3-18-1l-18-5-18-8l-13-9-11-13l-7-11-5-18l2-18 4-12l12-17 12-10l18-10zM920 639l-16 6-12 7l-13 11-9 12l-4 12-2 18l3 12 7 13l12 13 14 10l16 7 18 3l18 1 18-3l18-7 12-7l12-11 5-7l8-18 1-12l-2-12-8-18l-10-11-9-7l-10-6-11-4l-12-3-18-2zM260 717l-10 29-10 37l0 12 5 24l0 12-1 0l-5-36 1-18l5-24 3-22l8-8 0-6l6-6zM1774 864l6-2 6 2l3 3 2 6l-1 12-7 38l-3 4 0 6l-7 7 7-16l7-45-1-8l-5-4-1 0l-6 3-4 9l-6 36-5 12l-21 33-2 3l0 6 4 4l-4 4-2-2l-3-6 1-6l6-10 14-20l6-12 10-48zM1558 945l12 1 18 4l17 7 9 6l14 12 9 12l11 18 4 12l4 18 0 24l-3 18-8 30l-1 12 5 30l1 18-2 17l-6 16-6 8l-6 4-6 2l-6 1-6-2l-9-4-7-6l-14-18-6-5l-6 2-4 9l-2 12-1 54l-8 42-7 18l-8 11-12 13l-3 6-2 18l-3 6-10 9l-18 8-24 4l-40 3-8 2l-10 4-20 19l-32 17-6 6l-3 6 2 9l-3 5-4-8l-2-6 2-6l6-6 34-18l24-21 12-4l48-3 24-5l18-9 7-6l3-6 2-18l2-6 16-17l6-8 5-11l4-18 3-18l1-18-5-42l-1-42 5-22l10-26 5-18l3-18-2-12l2-6 6-6l0-18-18-18l-6 0-24 24l0 6-6 1l0 5-24 25l-9 11-13 12l-8 5-22 7l-56 8-24 5l-30 11-18 12l-13 12-13 18l-7 18-3 12l-1 12 1 16l3 14 9 18l15 24 0 6l-5 6-10 5l-36 12-17 7l-13 8-11 10l-8 12-2 6l-1 12 4 12l10 18 2 6l-1 6-5 6l-33 18-14 12l-9 12-2 6l-1 12 2 12l3 6 12 14l18 12 24 9l24 4 30 0l18-3 18-5l12-5 12-8l0 5-18 10l-18 6-18 3l-24 2-24-2l-18-4-18-7l-12-7-15-12l-9-12-4-12l-1-12 4-12l3-6 10-11l12-9 28-16l5-6 2-6l-2-6-9-18l-3-12 0-12l5-12 10-12l16-12 14-6l42-17 9-7l1-6-2-6l-11-18-8-18l-3-12-1-12l0-12 3-18l6-15 7-15l11-13 10-11l14-8 12-6l36-11 59-11l15-6 8-6l4-6 2-6l0-12-3-24l2-24 5-18l10-19 7-11l11-11 17-13l19-8 12-3zM406 1059l6 2 6 4l24 18 28 24l12 12 9 12l-1 6-12-4l-12-6-18-12l-13-14-25-30l-3-6-2-6zM421 1077l13 18 20 20l18 11 6 2l6-3-16-18l-21-18-17-12l-6-3zM398 1083l32 37 12 11l68 42-6 0l-22-13-4-5l-3 0-27-16l-11-8-25-27l0-3-18-18l0-4zM1126 1575l24-3 24 0l24 4 24 8l18 10 12 10l5 7 7 11l2 7 1 15l-9 9 2-12l0-6-4-12l-4-8-8-10l-10-8-12-7l-12-5-24-6l-30-2-24 2l-24 7-16 7l-8 7-5 5l-2 6 0 6l5 12 20 42l6 12 6 7l6 6 12 5l12 2 18 0l30-3 17-5l11-4-10 9l-12 4-18 3l-18 2-18-1l-12-2-12-5l-6-4-6-7l-6-10-28-57l-3-12 1-6l3-6 9-7l18-9zM546 1635l-1 7-1-1l0-6 2-2zM510 1815l-2 12-6 17l-6 10-6 6l-6 3 0-6l6-3 6-6l6-9 2-8l4-4 1-13l2-2zM982 1916l8-2-2 3l-11 0zM934 1923l27-3-3 3zM898 1929l16-4-4 4l-15 0zM880 1937l0 8-6 8l-1 12 2 11l-3 3-4-14l1-12 5-9z" fill="#d35a4a" stroke="#d35a4a" stroke-width="1.2"/>
<path d="M472 231l6-4 6-1l1 1-7 1l-6 5-5 4l-4 12 1 6l3 6 5 6l6 5 6 1l12-1 6-4l5-7 3-6l1-6-1-6l-3-6-9-8l1-1 9 9l3 6 1 12l-3 6-7 10l-12 4-6 0l-6-2-9-6l-7-12 0-6l1-6 3-6zM514 277l6-1 6 0l6 3 5 6l3 6 1 6l-4 24 1 8l6 0 18-8l12-7 18-14l6-3 6-1l6 3 2 4l-1 6-4 6l-9 11-12 11l-12 10-18 10l-6 2-12 0l-6 3-8 25l-7 18-6 12l-51 79-12 26l-4 15-4 12l-17 24-12 12l-5 3-16 3l-8 4-31 20l-6 6-2 12l-9 102 3 12l11 18 28 58l6 9 6 5l18 4 12 7l47 55 13 12l6 4 12 5l42 6 18 6l12 5 24 13l58 39 14 7l12 3 12 0l6-2 42-24l12-6 12-4l12-2 48 0l18-2 10-6l9-18 6-6l12-6 19-6l48-12 28-4l30-3 30 1l18 1 30 5l30 9 30 14l48 28 12 5l24 7 12 5l18 13 15 15l12 18 5 12l4 18 0 18l-6 18-7 12l-11 11-12 8l-66 30-18 6l-24 7-24 4l-24 2-42-1l-24-3-36-6l-18 0-18 5l-30 18-12 5l-18 7-30 7l-6 2-6 5l-3 7-2 12l3 78-3 24l-18 78-30 84l-22 54-9 16l-6 5-6 2l-6 0-6-4l-12-15-5-4l-7-3-12-1l-6 1-5 3l-4 6-1 6l1 12 14 24l7 24 6 3l6 0 24-3l24-7 6-1l6 1 12 5l18 15 24 16l12 13 7 12l5 12 2 12l-1 12-2 12l-5 12-8 12l-10 11-12 9l-12 7-12 5l-18 5-18 2l-12-2-6-4l-24-24-12-7l-18-2-12 2l-6 3-8 7l-7 12-3 13l-3 17 1 12l2 12 4 12l8 9 6 4l12 3 18-2l18-8 36-21l18-7 18-5l36-5 66-2l30 1 30 4l42 8 24 6l21 9 15 9l0 3 6 6l-4 3-9-9l-11-7-18-9l-18-5-30-7l-30-5-48-4l-60 3-42 7l-30 10-44 23l-17 6-17 2l-12-3-6-3l-8-8-6-12l-2-12-1-18l2-18 5-18l7-12 9-7l6-4 12-2l18 3 12 5l24 21 6 4l12 2 18-3l24-8 12-8l11-9 7-7l6-11 5-12l1-12-2-18l-4-9-6-9l-11-12-13-11l-14-19-10-8l-6-2-12 0l-9 4-9 8l-6 3-36 5l-6-1-3-9l1-24-2-6l-12-24-2-12l1-6 5-7l6-3 12-2l6 1 10 5l14 16 6 4l6 0 6-2l6-5 7-13l25-60 28-78l18-78 3-24l-5-78 2-12l6-14 6-4l30-7 18-7l12-5 30-19l18-6 18-1l60 10 42 2l24-2 24-4l24-6 18-6l54-27 12-7l12-11 9-12l6-18 0-18l-4-18-6-12l-11-16-12-12l-12-8-42-18l-36-21-30-13l-30-9-36-4l-30 0-30 3l-24 4-18 5l-18 7-12 6l-6 5-5 5l-5 12-5 18l-3 5-6 3l-12-1-24-9l-24-5-36-4l-24 0-12 2l-18 6-42 22l-6 2-12 0l-12-3-24-12l-60-40-24-12l-30-10-36-6l-12-4-9-6l-9-9-48-56l-12-7-18-4l-6-4-6-8l-27-56-14-24l-2-6 0-12l4-36 5-60l3-12 5-6l32-21 6-3l18-4 6-3l10-11 8-12l8-12 10-30l12-25 49-77l7-12 7-18l9-28 6-2l12 0 6-1l12-7 24-19l14-15 4-6l1-6-1-2l-6-4-6 1l-30 22-18 8l-12 4-3-5l0-6 4-24l0-6-3-6l-4-5-6-2l-6-1-6 3l-6 4-8 13l-8 24-4 18l-2 30-2 15l-5 15-7 14l-12 18-6 6l-6 0-4-32l-18-72-9-24l-5-24 2-3l5 27 9 24l5 18 12 54l3 24 6 6l6-6 6-8l12-22 6-24l3-36 5-24l6-18 6-12zM178 289l18 0 12 3l3 3-21-4l-18 2 1-3zM286 288l18 1 30 9l7 0 4 5l-5 3-2-3l-16-7-24-5l-17-1 2-2zM174 309l28 7 30 5l54-8 12 1l24 5 6 0l10-4 2-2l6 5 1 9l7 66-1 26l-1-2 0-36l-3-2-5-52l-4-7-18 1l-30-6-6 0l-48 7-12 1l-36-7-18-5l0-3zM976 345l4-1 2 1l6 0 3 4l-51 16-42 7l-30 7-42 3l-72 11-23 6l-30 12-9 6l-6 6-7 12l-4 12 0 12l1 6 6 11l6 7 12 9l12 6 24 5l36 2 40-4l26-5 12-5l6-5 19-21l11-8 18-9l18-2 12 3l12 8 13 14l17 26 6 6l12 7 30 12l30 8 36 5l30 2 24-1l18-3 24-6l18-7 12-7l15-12 10-12l7-15 9 9l-3 6-8 12l-18 16-18 11l-12 6-18 7l-18 3-30 2l-60-6-24-5l-24-6-27-10l-15-8-6-6l-17-28-10-12l-9-8-6-3l-12-4-6 0l-12 2-15 7l-15 12-18 23l-12 7-24 6l-30 4-24 0l-18 0-18-3l-18-4-12-5l-15-10-7-6l-7-12-3-12l-1-6 2-12l5-12 10-12l8-6 13-6l25-8 24-6l72-11 36-3l12-3 60-14zM334 519l-20 42-7 12l-15 14-6 4l-18-3 0-3l4-4 14 4l6-1 12-11l6-8 18-40zM922 626l12-2 18 0l18 2 12 4l18 7 12 8l12 11 6 8l6 11 4 12l1 18-2 12l-5 12-8 12l-8 9-13 9l-17 9-18 6l-18 2-24-1l-24-6-18-9l-16-13-10-12l-7-12-4-18l1-18 7-18l14-18 15-11l18-9zM917 633l-19 8-17 10l-12 12-7 12l-4 12-2 18l5 18 7 12l12 13 17 11l19 7 18 4l24-1 18-3l17-7 13-8l11-10 7-8l5-10 4-12l1-12-2-12l-4-12-7-12l-9-9-11-9l-13-7-12-4l-12-3-18-1l-12 0zM246 645l-5 30 2 23l-5-5 0-36l1-7 8-8zM248 735l-4 24-4 18l-1 12 4 42l-2-2-4-40l5-36 1-17l5-5zM1774 860l6-2 6 1l3 2 4 6l1 12 0 4l-2 2 0 11l-3 16-3 3l0 6-3 2l8-44 0-6l-2-6-3-3l-6-2-6 2l-3 3-5 12l-8 42-6 12l-14 20-6 10l-1 6 3 6l2 2-3 3l-4-5-2-6l1-6 3-6l17-24 6-12l10-48 4-7zM1540 933l18-2 18 1l18 4 18 8l18 13 12 12l12 17 6 13l6 16 3 14l1 18 0 12l0 2-4 4l0 6-6 6l0 26-3 10l-2 12 1 46l-2 2 0 15l-6 15-6 9l-6 6-6 3l-6 2-6 0l-10-2-26-13l-6 3-4 10l-4 36-11 48l-9 18-16 18l-3 6-2 18l-3 6-6 6l-14 9-12 3l-6 0-3 3l-3 1-48 5l-14 3-22 20l-29 16-7 6l-4 6 1 3l-6 6-2-9l3-6 6-6l32-17 20-19l10-4 8-2l40-3 24-4l18-8 10-9l3-6 2-18l3-6 12-13l8-11 7-18l8-42 1-54l2-12 4-9l6-2 6 5l9 12 9 9l6 5 12 4l6-1 6-2l6-4 6-8l5-15 2-12l1-18-6-42l2-12 9-30l2-24-3-24l-6-17-7-13l-11-16-16-14l-14-9-18-6l-18-3-18 1l-19 5-11 6l-10 6-14 12l-9 12-9 16l-6 14-3 12l-2 18 3 36l0 6-2 6l-4 6-8 6l-15 6-59 11l-36 11-12 6l-12 7-8 7l-11 12-7 12l-8 18-4 18l-1 18 1 12l3 12 8 18l11 18 2 6l-1 6-9 7l-42 17-12 5l-12 9-12 10l-7 12-2 6l0 12 3 12l9 18 2 6l-2 6-5 6l-28 16-12 8l-10 12-5 12l-2 6 1 12l4 12 6 8l9 10 9 6l12 7 18 7l30 5 30 0l30-6 17-7l13-7 0 5l-12 7-18 6l-18 4-24 2l-24 0-18-2l-18-6-12-6l-18-12-14-15l-6-12-2-6l0-12 1-6l5-12 10-12l12-10 25-14l7-6 2-6l-1-6-11-24l-2-12 3-12l7-12 12-12l12-8 12-6l38-16 7-6l2-6-1-6l-16-30-3-12l-3-18 1-12l3-18 6-18l8-18 8-12l10-10 12-9l12-6 18-6l24-6 54-10l12-6 6-4l6-9 1-6l-1-36 2-24l6-18 8-18l14-19 18-17l21-12zM424 1074l6 3 24 18l20 18 10 12l-6 3-6-2l-12-6-9-7l-11-12-15-18l-4-6zM435 1089l13 16 9 8l9 5 6 2l1-1-3-6l-12-12-16-12zM415 1107l22 24 27 18l-4 0-6-6l-5 0-3-1l-34-35 0-3zM472 1153l3 2-3 0l-5-4zM484 1161l11 6-5 0zM502 1172l2 1-2 0l-5-4zM1132 1569l24-2 24 0l24 4 18 6l24 14 15 14l4 6 7 12l2 14-7 7l0-9-3-13l-7-11-11-12l-18-12-24-10l-24-4-30-1l-30 5-24 8l-12 7-9 7l-3 6-1 6l1 6 5 12l25 51 10 15l8 6 6 3l24 4 30-1l18-3 12-4l0 6-18 5l-18 2-30 0l-12-2-12-4l-12-10-6-8l-17-36-16-30l-4-12 1-6l2-6 4-5l12-9 24-10zM509 1815l-1 5 0-5l1-1zM503 1833l-1 4 0-4l2-2zM497 1845l-7 9-6 3l15-15zM880 1945l0 2-3 3zM874 1959l5 5 0 8l-4 4-2-11z" fill="#cf5246" stroke="#cf5246" stroke-width="1.2"/>
<path d="M472 228l6-3 6 1l-6 1-6 4l-6 6-3 6l-1 12 3 6l7 9 12 5l6 0 12-4l7-10 3-6l-1-12-3-6l-9-9 2-2l10 11 3 12l-2 12-4 7l-6 5-6 3l-6 1-12-2l-6-3-10-11l-1-6 0-12l2-6zM508 278l6-3 12-1l6 2 6 7l3 8 1 6l-4 24 4 6l14-4 12-6l30-22 6-1l6 3 3 6l-1 6-4 6l-10 12-24 21l-18 11-6 2l-12 0-6 5l-4 15-13 30l-49 76-16 32l-6 24-3 6l-7 12-15 18l-7 7-6 3l-18 4-6 3l-29 19-7 9l-2 9-8 96l1 12 3 6l14 24 22 47l8 13 10 5l12 3 12 7l9 9 39 47l18 15 12 5l48 7 18 6l18 9 18 10l48 33 12 7l12 4 6 1l12-3 16-9l38-27 18-10l36-12 20-11l18-6 118-24l24-3 30-2l24 1 18 2l42 7 18 5l30 12 48 31l18 6 18 0l22-5 8-3l18-4 6-1l6 2 12 13l6 10 12 27l5 22 2 18l-1 18-4 18l-8 18-12 18l-12 11-14 7l-88 34-24 7l-30 6-30 3l-30 0-30-3l-42-7-18 1l-18 6-23 13l-13 6-24 8l-30 8-7 2l-5 7-3 17l3 72-1 12l-16 72-7 24l-23 66-28 72l-9 14-12 6l-6 0-6-3l-12-17-6-5l-6-3-12-1l-6 2-7 7l-2 6 2 12l19 31 6 7l6 2 6 0l48-4 12 2l36 19 14 9l16 14 12 17l5 17 2 18l-2 18-7 18l-9 12-13 14l-43 28 13 3l18 1 84 0l66 10 36 7l24 8 7 3l11 10 0 3l-15-9-13-6l-32-9-66-11l-24-2-24 0l-60 2-36 6l-18 6-12 5l-42 25-18 6l-12 0-6-1l-6-2-6-4l-8-9-4-12l-2-12-1-12l3-17 3-13l7-12 8-7l6-3 12-2l18 2 12 7l24 24 6 4l12 2 18-2l18-5 12-5l12-7 12-9l10-11 8-12l5-12 2-12l1-12-2-12l-5-12-7-12l-12-13-24-16l-18-15-12-5l-6-1-6 1l-24 7-24 3l-6 0-6-3l-7-24-14-24l-1-12 1-6l4-6 5-3l6-1 12 1l7 3 5 4l12 15 6 4l6 0 6-2l6-5 9-16l22-54 30-84l18-78 3-24l-3-78 2-12l3-7 6-5l6-2 30-7l18-7 12-5l30-18 18-5l18 0 36 6l24 3 42 1l24-2 24-4l24-7 18-6l66-30 12-8l11-11 7-12l6-18 0-18l-4-18-5-12l-12-18-15-15l-18-13-12-5l-24-7-12-5l-48-28-30-14l-30-9-30-5l-18-1-30-1l-30 3-28 4l-48 12-19 6l-12 6-6 6l-9 18-10 6l-18 2-48 0l-12 2-12 4l-12 6-42 24l-6 2-12 0l-12-3-14-7l-58-39-24-13l-12-5-18-6l-42-6-12-5l-6-4-13-12l-47-55-12-7l-18-4-6-5l-6-9-28-58l-11-18-3-12l9-102 2-12l6-6 31-20l8-4 16-3l5-3 12-12l17-24 4-12l4-15 12-26l51-79 6-12l7-18 8-25l6-3 12 0l6-2 18-10l12-10 12-11l9-11 4-6l1-6-2-4l-6-3-6 1l-6 3-18 14l-12 7-18 8l-6 0-1-8l4-24-1-6l-3-6-5-6l-6-3-6 0l-6 1-6 5l-4 3-6 12l-11 36-3 42l-6 24-12 22l-6 8-6 6l-6-6-2-18l-6-30-12-48l-9-24-5-27l3-2 7 35l8 24 7 30l10 54 2 6l3 3 6-5l6-8 12-21l6-27 1-32l2-12 12-36zM692 1749l-10 5-7 7l-6 12-4 18l0 18 2 12l5 12 10 9l6 3 12 1l6-1 12-4l32-20 26-18l2-2 5-4l-11-2-12-5l-6-5-21-24l-9-7-6-3l-12-3zM178 286l12 0 12 2l3 1 3 3l-18-3-17 1zM286 286l18 1 32 7l5 4-7 0l-30-9-21-1zM178 313l18 4 30 6l12-1 48-7l6 0 30 6l18-1 4 7l1 6 4 46l-3-4-2-16l2-2 0-12l-4-3-2-15l-6-3-12 0l-24-5-12-1l-48 7-12 0l-42-8-12-3l0-3zM970 339l4-1 6 6l-46 16-72 17l-36 3-72 11l-31 8-18 6l-13 6-8 6l-10 12-5 12l-2 12 1 6l3 12 7 12l7 6 9 6l12 6 12 4l18 4 36 2l42-3 24-5l12-5 12-11l12-16 15-12l15-7 12-2l6 0 12 4l12 8 13 15l17 28 6 6l12 7 30 11l36 9 48 6l36 2 18-2l18-3 18-7l12-6 18-11l12-10 10-12l7-12 1 20l-29 28-3 6l2 6 6 4l39 20 8 6l7 7 6 11l1 12-2 6l-7 12-10 10l-15 8-16 6l-23 5-18 1l-24-1-24-4l-17-7-20-12l-6-6-6-12l-2-6 1-12l12-24 0-6l-4-4-3-2l-21-5-54-11l-24-7-24-9l-12-9-6-9l-12-22-12-17l-12-8-12-4l-6 0-12 2l-9 3-9 6l-12 12-12 17l-6 7-6 4l-12 4-30 6l-42 3-36-3l-18-4-18-7l-12-7-11-8l-5-6-6-12l-2-12 1-12l4-12 7-12l5-6 13-8l26-10 34-8l78-13 36-5l54-13 24-7zM580 482l12-4 18 0l16 5 9 6l5 6 2 12l-2 12-6 10l-12 9-18 4l-18-2-8-3l-9-6-4-6l-2-6-1-12l6-14 6-7zM328 525l-18 40-6 8l-12 11-6 1l-14-4 5-5l9 3 6 1l8-7 5-6l17-36zM916 621l18-3 18 0l18 2 18 5l17 8 13 8l10 10 10 12l6 12 3 12l2 12-3 18l-4 12-7 12l-11 12-12 10l-18 10-24 7l-18 2-24-1l-24-6-18-8l-18-12-12-14l-10-18-4-18l1-18 6-18l13-18 13-12l17-9zM917 627l-19 7-18 10l-15 13-9 15l-6 15-1 18l4 18 9 15l12 13 18 12l18 8 24 5l24-1 18-3l18-6 18-11l8-8 10-12l7-12 3-12l1-12-1-12l-4-12-7-12l-10-12-7-6l-12-8-18-7l-12-4-18-2l-18 0zM239 651l-1 6 0-6l1-1zM243 741l-1 12-5 36l4 40-3-3l0-13-3-12l-1-12 5-30l-1-18 5-5zM1780 854l6 1 8 6l3 6 0 12l-3 4 0-10l-1-6-4-6l-3-2-6-1l-6 2-8 7l-3 12-6 30l-3 12-6 12l-17 24-3 6l-1 6 2 6l4 5-3 3l-6-8-1-6l1-6 6-12l14-18 6-12l4-12 5-30l4-12 5-7l6-4zM1792 896l0 13-3 3zM1552 921l24-2 18 3l24 11 12 8l12 10 16 18l13 24 8 24l3 18 1 13l-13 13 0-14l-1-18-3-14l-6-16-14-24l-10-12-12-11l-22-13-20-6l-24-2-24 3l-18 7-19 10l-17 17-14 19l-8 18-6 18l-2 24 1 36l-1 6-6 9l-6 4-12 6l-48 9-42 11l-20 9-16 14l-12 16-8 18l-8 24-2 18l3 24 6 18l13 24 1 6l-2 6-7 6l-38 16-12 6l-12 8-12 12l-7 12-3 12l2 12 11 24l1 6-2 6l-7 6-25 14l-13 10-5 7l-7 11-2 6l-2 12 3 12l2 6 6 9l8 9 22 15l12 6 12 4l24 4 36 0l18-3 18-5l24-11 0 6l-24 10-24 5l-18 2-56 3l8 3 1 3l29 19 12 10l6 7 7 12l4 13-7 7l-1-8-4-12l-5-8-9-10l-9-8-12-8l-12-6-18-6l-30-4-18 0l-18 1-30 7l-17 6-13 8l-10 10-2 6l1 12 35 72l6 8 6 6l6 4 12 4l24 2 30-1l24-6-7 8l-29 4-30 0l-12-2-12-3l-12-9-11-15l-16-36-19-36l-3-12 1-6l6-8 12-9l18-9 18-6l30-5 54-2l5-3-5-2l-4-4-20-14l-11-10-7-8l-6-10-4-12l0-12 1-6l4-12 11-14l12-10 29-18l3-6 0-6l-9-18-4-12l0-12 2-6l7-12 11-12l9-6 18-10l31-14 9-6l3-6-1-6l-10-18-7-18l-3-18 0-12l2-18 4-18l8-21 9-21l9-13 6-7l12-8 18-4l78-13 12-3l9-6 6-6l3-6 0-6l0-36 5-30l9-24 10-18l18-19 18-13l24-10zM436 1089l6 0 16 12l12 12 3 6l-1 1-6-2l-12-7-9-10zM1660 1103l0 64-4 4l-1-46 2-12zM1654 1188l0 15-12 12l0 6-6 5l-6 3-12 1l-30-5-6 4l-12 39-10 37l-5 12-3 6l-15 18-4 6l-2 18-3 6l-6 7-12 8l-10 3-8 0l18-6 8-6l6-6 3-6l2-18 3-6l16-18 6-12l6-18 6-30l6-42 4-10l6-3 24 12l6 2 12 1l5-2 7-3l8-9 4-6zM1456 1395l27-3-3 3l-18 0-3 2l-21 2-12 3l-9 5-19 18l-30 18-4 6l-4 0-3 3l-1-3 4-6l7-6 29-16l22-20 14-3zM879 1964l1 1-1 7z" fill="#cc4c44" stroke="#cc4c44" stroke-width="1.2"/>
<path d="M466 230l6-5 6 0l-6 3-9 9l-2 6-1 6l2 12 10 11l6 3 12 2l6-1 6-3l6-5 4-7l1-6 0-12l-2-6-10-11l1-1 8 6l6 12 1 6l-1 6-4 12l2 3 12 1l6 3 6 6l3 5 2 12l-3 24 4 4l12-3 12-6l30-22 6-1l6 2 2 2l2 6-1 6l-3 6-24 25l-18 14-12 7l-18 2-5 6l-4 12-12 30l-51 78-15 30l-7 30-4 6l-15 18-13 14l-6 3-18 4l-7 3-29 21l-4 3-3 6l-6 102 1 12l15 24 28 60l7 6 16 5l12 7 11 12l37 44 18 17l12 4 42 5l24 5 12 6l24 13 55 38l11 5 6 1l6-1 12-5l17-12 13-12l18-23 6-6l9-7 15-7l14-5 16-3l84-10 60-13l24-3 30-2l30 0 87 13l27 9 18 10l25 17 11 5l6 0 6-1l6-5 6-8l16-33 15-18l11-7 12-5l6-1 12 0l6 2 12 6l12 10 6 7l12 20 10 28l7 36 2 18l0 24-4 36l-10 42 1 6l6 4 12 3l13-1 29-4l12-5 6-4l3-5 2-6l0-36 3-24l5-18 7-18l11-18 14-18l15-12 13-6l83-19 12-1l12 3 24 11l12 7 13 11l11 12 9 12l8 12 8 18l7 24 3 19l-12 12-2-19l-3-17-5-13l-7-17-8-13l-10-12-12-12l-12-9-24-12l-12-3-12-2l-12 0-18 3l-24 5-18 6l-12 7-18 16l-16 19-9 18l-6 18-4 18l-2 18 1 30l0 6-3 6l-3 4-12 8l-12 3-78 13l-18 4-12 8l-11 14-10 18l-9 24-6 24l-2 18 0 12l3 18 7 18l10 18 1 6l-3 6-9 6l-31 14-18 10l-9 6-11 12l-7 12-2 6l0 12 4 12l9 18 0 6l-3 6-29 18l-12 10-11 14l-4 12-1 6l0 12 4 12l6 10 7 8l11 10 20 14l4 4 5 2l-5 3-6 0l-54 3-18 3l-18 5-18 8l-14 8-6 6l-4 6-1 6l3 12 19 36l16 36 8 12l6 6 15 8l24 3 30 0l23-4-8 8l-27 3-30-1l-18-5-12-8l-6-7-6-9l-18-41-22-37l-4-12 0-6l3-6 11-11l12-8 18-8l24-7 42-5l10-3 0-6l-18-18-12-18l-3-12 0-18l8-18 9-12l12-10 25-14l4-6 0-6l-12-24-3-12l1-12 6-12l12-12 15-10l18-10 24-10l9-6 4-6l-1-6-8-18l-7-18-3-24l1-24 11-48l1-6-2-6l-5-3-6 0l-18 2-18 6l-48 17-24 6l-36 5-24 1l-24-1-30-3l-36-7-18 1l-12 5-18 10l-18 8-24 7l-36 9-6 3l-4 6-3 12l2 78-18 84l-5 18-26 72l-27 72-9 12l-6 5-6 1l-6 0-6-3l-12-17-6-7l-6-3-12-1l-6 2-5 5l-2 6 1 8l4 10 8 11l12 12 6 2l6 0 18-2l24 0 12 2l12 3 30 14l18 10 18 14l11 12 6 12l4 18 1 24l-2 18-4 12l-6 12-10 12l-18 18 0 6l18 4 42 1l24 2 84 14l30 7 0 2l7 8-13-6l-24-6-48-9l-36-5-30-2l-72 0-25-4l43-28 13-14l9-12 7-18l2-18-2-18l-5-17-12-17l-16-14-14-9l-36-19-12-2l-48 4-6 0l-6-2-6-7l-19-31-2-12l2-6 7-7l6-2 12 1l6 3 6 5l12 17 6 3l6 0 12-6l9-14 28-72l23-66 7-24l16-72 1-12l-3-72 3-17l5-7 7-2l30-8 24-8l13-6 23-13l18-6 18-1l42 7 30 3l30 0 30-3l30-6 24-7l88-34 14-7l12-11 12-18l8-18 4-18l1-18-2-18l-5-22-12-27l-6-10-12-13l-6-2-6 1l-18 4-8 3l-22 5-18 0l-18-6-48-31l-30-12-18-5l-42-7-18-2l-24-1-30 2l-24 3-118 24l-18 6-20 11l-36 12-18 10l-38 27-16 9l-12 3-6-1l-12-4-12-7l-48-33-18-10l-18-9-18-6l-48-7-12-5l-18-15-39-47l-9-9-12-7l-12-3-10-5l-8-13-22-47l-14-24-3-6l-1-12 8-96l2-9 7-9l29-19 6-3l18-4 6-3l7-7 15-18l7-12 3-6l6-24 16-32l49-76 13-30l4-15 6-5l12 0 6-2l12-7 12-8l12-11 16-18l4-6 1-6l-3-6-6-3l-6 1-30 22l-12 6-14 4l-4-6 4-24l-1-6-3-8l-6-7-6-2l-12 1-6 3l-9 13-12 36l-2 12-1 32l-6 27-12 21l-6 8-6 5l-3-3-2-6l-10-54-7-30l-8-24-7-35l1-8 4 13l6 30 5 18l11 48 7 42l3 7 6-5l12-17 6-15l3-24 1-30l2-12 8-24l6-18 1-6l-21-1-6-3l-9-8-5-12l-1-6 4-12zM184 283l10 1 2 1l6 0 3 4l-15-3-14 1l4-4zM292 282l3 1 3 2l10 0 8 2l6 4 12 0l2 3-32-7l-19-1 4-4zM178 315l12 4 36 6l12 0 48-7l12 1 24 5l12 0 6 3l2 15-5-5l-1-4-2-3l-6-3-14-2l-4-4-6 0l-2 2-10-2l-12 0-48 7l-24-3-36-7l0-4zM964 333l3-2 7 7l-34 15-18 6l-60 14-36 5l-78 13-34 8l-26 10-13 8l-5 6-7 12l-4 12-1 12l2 12 6 12l5 6 11 8l12 7 18 7l18 4 36 3l42-3 30-6l12-4 6-4l6-7 18-23l6-6 12-7l12-4 6 0l12 1 12 6l10 10 8 12l12 22 5 8l7 6 6 4l24 9 24 7l52 10 20 5l3 1 7 6l0 6-12 24l-1 12 3 9l5 9 7 6l12 9 24 10l30 5 30 0l29-6 25-10l11-8 5-6l8-12 1-12l-1-6 12 12l6 0 1 2l-1 4-6 12l-6 9-12 9l-12 8-18 7l-18 5-18 2l-24 1-24-1l-18-4-18-5l-16-7-18-12l-8-9-6-9l-2-6-1-12l7-24 0-6l-5-6-15-6l-38-8-24-7l-30-11-6-5l-6-8-12-27l-12-18-12-9l-12-4-6-1l-12 2-12 6l-14 12-16 25l-6 7-12 6l-12 3-42 6l-24 1-24-1l-18-2-18-4l-18-7-18-8l-6-1-6 2l-10 21-8 11l-12 9-12 5l-18 1-18-3l-12-6-6-6l-3-5-4-12l1-12 6-17l6-9 6-5l6-4 12-3l18 0 24 3l6-1 4-6l4-18 8-18l9-12 8-6l9-4 20-8l40-9 120-20l50-13 18-6zM578 483l-7 6-4 6l-5 12 0 6l3 12 3 4l6 6 6 3l12 4 18 0l12-5 9-6l5-6 5-12l1-12-2-6l-6-7-12-7l-18-4-12 1zM344 363l2 12-5-6l-1-6 4-4zM1258 503l0 4 6 7l-10 11-3 6l1 6 6 6l24 14 12 8l0 26-7-12l-11-10-13-8l-26-12-9-6l-2-6 3-6zM322 531l-17 36-5 6l-8 7-6-1l-9-3 3-3l12 1 6-3l6-8 5-13l7-7 0-6zM916 614l18-3 18 0l18 2 18 5l18 7 12 7l15 13 10 12l7 12 6 18l1 18-2 12l-4 12-11 18l-10 11-12 10l-24 12-18 6l-24 3-30-2l-24-7-24-12l-18-15-10-12l-9-18-4-18l0-12 3-12l7-18 14-18l17-14 24-12zM915 621l-23 9-17 9l-13 12-13 18l-6 18-1 18l4 18 10 18l12 14 18 12l18 8 24 6l24 1 18-2l24-7 18-10l12-10 11-12l7-12 4-12l3-18-2-12l-3-12-6-12l-10-12-10-10l-13-8-17-8l-18-5-18-2l-18 0zM238 741l1 18-5 30l1 12 3 12l0 13-3-4l-3-25 0-14l3-24-1-14zM1774 852l6-2 6 0l9 5 3 4l0 14-1-6l-3-6-8-6l-6-1-6 2l-6 4-5 7l-4 12-5 30l-4 12-6 12l-14 18-6 12l-1 6 1 6l6 8-3 3l-5-5-2-6l-1-6 3-12l24-36 4-11l4-25 5-18l9-11zM1642 1221l-6 6 0 7l-6 2-12 2l-18-1-8 2l-4 7-12 24l-6 17-5 18l-4 12-8 12l-15 18-3 18l-2 6-5 7l-12 9-7 2l-9 0 16-7l6-5 6-6l3-6 2-18l22-30 5-12l10-37 10-35l3-6 5-2l6 0 18 5l12 0 12-4zM1432 1400l27-3-3 4l-18 2-12 4l-24 23-3 1l-9 0-6 6l-6 0-12 12l-2 0 4-6l34-21 15-15l9-5zM1336 1543l0 6-24 9l-12 3-50 8l0 6 25 24l8 12 4 7l-5 5-1 7l-2-7-5-12l-10-13-18-15l-23-14-1-3l-8-3 56-3l18-2 24-5zM694 1749l12-1 6 1l12 5 9 7l21 24 6 5l12 5 11 2l-5 4-2 2l-26 18-32 20l-12 4-6 1l-12-1-6-3l-10-9-5-12l-2-12 0-18l4-18 6-12l7-7zM690 1755l-10 6-4 6l-3 6-5 18l0 18 2 12l7 12 5 5l6 3 12 1l11-3 7-3l23-15 13-12l2-6-2-6l-16-24-14-14l-8-4-10-2l-6 0z" fill="#c84440" stroke="#c84440" stroke-width="1.2"/>
<path d="M510 225l6 6 3 6l2 12-1 13l5 5 7 3l6 5 5 10l1 12-2 18l2 7 6 0l16-7 26-19l6-3 6-1l6 2 3 3l2 6-1 6l-8 12-26 27l-18 12-12 4l-12 2-3 3l-6 18-11 24l-46 70-12 21l-8 17-5 30l-3 6-22 24l-10 9-29 9l-31 22-6 8l-1 12-2 90l3 13 10 17l26 54 6 10l6 4 18 9l12 10 42 51l18 16 6 4l12 2 54 3l12 3 24 11l66 45 12 1l6-1 6-4l9-8 8-12l9-18 10-12l18-12 18-8l18-5 18-3l84-8 72-15l42-4 30 0l54 13 18 2l30 1 12 2l18 6 30 15l6 1 6-1l8-8 11-24l11-17 9-13l9-8 12-8l12-6 12-2l12 0 12 3l12 6 18 16l8 11 11 18l12 30 8 30l6 42-1 42l-7 54 2 6l3 2 12 2l12-2 6-2l5-6 1-6l0-30 2-18l7-30 8-18l10-18 18-24l8-6 7-2l72-15 21-7l27-10 6-1l6 0 12 4l12 5 18 10l19 16 20 24l17 30 7 18l3 13 0 5l-12 12 0 6l-1 1-4-25l-9-24-13-24l-15-19-18-16l-24-13-12-5l-12-3-18 2l-77 18-13 6l-9 6-11 12l-13 18-7 12l-7 18-5 18l-3 18 0 42l-2 6-3 5l-13 7-23 5l-24 2-12-3l-6-4-1-6l11-48 2-18l1-24-2-30l-5-31-6-17l-6-16-8-14l-9-12-7-7l-12-8-7-3l-11-2-12 2l-6 2-9 4l-9 8-14 16l-16 33-6 8l-6 5-6 1l-6 0-11-5l-25-17-18-10l-27-9-87-13l-30 0-30 2l-24 3-60 13l-84 10-16 3l-14 5-15 7l-9 7-6 6l-18 23-13 12l-17 12-12 5l-6 1-6-1l-11-5-55-38l-24-13-12-6l-24-5-42-5l-13-5-17-16l-37-44-11-12l-12-7-16-5l-7-6-28-60l-15-24-1-12l5-96 1-6l3-6 7-6l27-18 6-3l18-4 6-3l13-14 15-18l4-6 7-30l15-30 51-78l12-30 4-12l5-6 18-2l18-11 24-21l12-14 3-6l1-6-2-6l-2-2-6-2l-6 1-30 22l-12 6-12 3l-4-4 3-24l-2-12-3-5l-6-6-6-3l-12-1-2-3l4-12 0-12l-6-12-8-6l6 0 2-2zM466 225l6 0-6 5l-5 7-4 12l1 6 5 12l9 8 6 3l21 1-1 6l-6 18-8 24l-2 12-1 30l-3 24-6 15l-6 10-6 7l-6 5-3-7l-7-42-11-48l-5-18-6-30l-4-13 0-11l1-1 4 7l5 12 8 46l10 44 2 24l5 30 1 2l6-2 12-17l6-17 0-56l3-12 10-30l-1-6-12-2l-12-6-9-10l-2-6-2-12l2-12 4-6zM184 279l6 0 4 5l-14-1zM292 279l3 4-6-1zM310 285l6 0 2 2zM178 319l30 6 24 3l48-7 12 0l10 2-4 4l-18 0-36 5l-18 1-18-2l-36-8 0-5zM316 326l11 1-11 0l-2-2zM958 325l2-1 7 7l-37 20-18 6l-50 13-96 15l-30 6-42 11l-21 9-8 6l-9 12-8 18l-4 18-4 6l-6 1-24-3l-18 0-12 3l-6 4-6 5l-9 14-3 12l-1 6 1 9l3 9 3 5l6 6 12 6l12 3 18 0l12-3 8-5l10-7 8-11l10-21 6-2l6 1 18 8l18 7 18 4l18 2 24 1l24-1 24-2l24-5 12-4l6-4 6-7l16-25 13-12l13-6 12-2l6 1 12 4l12 9 12 18l12 27 6 8l6 5 30 11l24 7 38 8l15 6 5 6l0 6-7 24l1 12 2 6l6 9 8 9l10 7 18 10l24 7 30 5l30 0 30-5l24-8 12-6l12-8 12-14l4-6 3-10l5 4 12 0l2 3-4 9l-8 12-14 13l-24 14-18 6l-30 7-30 2l-30-1-30-6l-24-8-12-5l-18-13-10-9l-8-12-3-6l-2-12 0-12l3-12 1-6l-5-6-18-6l-36-9-18-6l-18-8-6-7l-3-6-11-30l-10-18-12-11l-12-4-6-1l-12 2-12 7l-13 13-17 29l-6 7-6 5l-12 4-42 7l-24 1-24 0l-30-4-18-4l-24-7-6-1l-6 4-10 13l-8 9-12 8l-12 5-18 3l-18-1-12-4l-12-6-6-6l-4-8-2-12l0-12 6-21l6-12 6-9l6-6 6-3l18-3 24-2l6-4 9-18l7-12 6-6l8-6 18-7l30-9 48-10l102-17 41-11l19-6 13-6zM334 330l2 3 1 4l-9-9zM340 363l1 7-1-1zM1264 514l0 5 6 6l0 6 24 24l0 10-12-8l-24-14-6-6l-1-6 3-6zM306 555l-2 8-6 8l-6 3-7-1l7-6 6 0l6-6 0-6l5-5zM922 602l18-1 24 1l24 5 18 6l18 10 18 15l11 13 10 18l5 18 1 18l-2 12-6 18l-12 18-7 8l-18 15-18 11l-18 6-30 6l-24 0-24-5l-30-13-26-16l-13-12-12-18l-6-18-2-12l0-12 2-12l4-12 10-18l16-18 21-14l24-11zM910 615l-24 9-18 12l-17 15-11 18l-6 18-1 18l4 18 9 18l10 12 18 15l24 12 24 7l30 2 24-3l18-6 24-12l12-10 10-11l11-18 4-12l2-12-1-18l-6-18-7-12l-10-12-15-13l-12-7-18-7l-18-5-18-2l-24 1zM234 747l1 12-3 24l0-6-5-5l1-13-1-7l7-7zM232 801l3 21-3-3l0-6-5-4l0-3 5-5l0-4zM1774 847l6-2 12 0l6 4 0 10l-6-6-6-3l-6 0-6 2l-6 4-9 11l-5 18-4 25l-4 11-24 36l-2 6-1 6l1 6 2 6l5 5-6 6l-4-5-5-12l-1-6 4-12l6-12 18-24l5-13 3-23l7-18 9-12zM1234 1148l12-2 12 0l5 3 1 2l0 10-11 48l-1 24 3 24l7 18 8 18l1 6-4 6l-3 3-36 16l-27 17-12 12l-6 12-1 6l1 12 4 12l10 18 0 6l-4 6-25 14l-12 11-9 11l-3 6-3 6l-3 12 2 18l5 12 9 12l18 18 0 6l-10 3-42 5l-24 7-18 8l-12 8-11 11l-3 6 0 6l4 12 22 37l18 41 6 9l6 7 12 8l18 5 30 1l27-3-11 11l-28 1-24-2l-12-3-12-9l-12-15-23-52l-24-36-5-12l0-6 1-6l3-6 12-11l12-9 12-7l18-6 43-9l5-6-16-24l-6-18 0-18l6-30-2-2l-12 0-6-2l-6-5-6-11l-6-19-8-45l-6-24-13-30l-22-42-5-18l0-10 2-8l10-9 12-7l18-6 12-2l12 1 12 2l12 4 12 6l12 9 8 8l10 12 8 12l8 18 10 36l4 4 6 0l11-4 27-12l6-6 0-6l-12-30-4-24l0-24 6-36l0-6-3-6l-7-3-12 1l-54 18-48 11l-18 3-30-1l-78-13-12 1l-8 1-22 11l-18 6-60 15l-6 2-6 4l-4 10-1 12l2 60-1 12l-19 84-29 84l-14 36-11 36l-7 15-7 9l7 5 30 10l36 18 33 21l12 12 5 12l2 12 2 18l0 24-2 18l-4 18-5 12l-7 12 3 6l27 4 77 14l64 9-3 3l0 4-30-7l-84-14-24-2l-42-1-18-4l0-6 18-18l10-12 6-12l4-12 2-18l-1-24-4-18l-6-12-11-12l-18-14-18-10l-30-14-12-3l-12-2-24 0l-18 2-6 0l-6-2-6-5l-14-18-4-10l-1-8 2-6l7-6 10-1l6 1 9 6l15 21 6 3l6 0 6-1l6-5 9-12l27-72 26-72l6-24 17-78l-2-72 1-12l2-6 4-6l6-3 36-9l24-7 18-8l18-10 12-5l18-1 36 7l30 3 24 1l24-1 36-5l24-6 48-17zM704 1551l-2 6 0 6l2 6 8 12l6 6 6 4l6 1 6 0l11-5 2-6l-1-1-13-23l-5-6-6-4l-6-2-6 1zM1594 1238l6-1 24 1l12-4 0 11l-12 3-18 3l-6 6-5 18l-3 24-2 6l-5 6-3 2l-18 16-17 18l-2 6-2 12l-5 12-10 10l-13 7-6-5l13-6 6-6l5-6 2-6l3-18 15-18l8-12 4-12l5-18 6-17l12-24zM1450 1401l6 0-6 6l-6 0-6 3l-5 3-6 6l-7 0-6 6l-6 0-6 6l-3 0 9-6l18-18 12-4zM1336 1549l0 10-6 2l-18 6-37 8l-1 6 19 25l-5 5 0 6l-1 1-4-7l-8-12-25-24l0-6 2 0l54-9 18-6zM694 1754l12-1 6 1l6 2 8 5l7 6 9 12l12 18 2 6l-2 6-13 12l-23 15-7 3l-11 3-12-1l-6-3-5-5l-7-12-2-12l0-18 5-18l3-6 6-7zM689 1761l-8 6-6 12l-4 18 1 12l4 15 6 8l6 4 12 1l12-4 19-12l8-6 5-6l2-6-1-6l-5-12-8-12l-6-6-8-6l-12-3-6 0z" fill="#c43b3c" stroke="#c43b3c" stroke-width="1.2"/>
<path d="M544 189l18 0 18 18l18 0 12-12l24 24 12 0l6 6 6 0l1 1-43 8l-30 8-24 9l-12 7-6 4l-4 5 6 24l-2 24 6 5l13-5 11-6l18-14 6-3l6-1 6 1l5 5 2 6l-2 6-8 12l-33 34-18 10l-18 5-14 35l-7 12-9 12l-36 54-18 34l-3 14 3 18l12 10 18 10l6 2 12 1l12-2 12-5l6-5 9-11l2-6 5-42l8-20 12-26l6-5 24-8l12-7 12-11l12-18 6-3l30-4 165-30l27-5 22-7l26-8 16-10l18-18 4-9l12 12-31 21l-13 6-60 17l-102 17-54 12l-29 8-13 6l-8 6-6 6l-7 12-9 18l-6 4-24 2l-18 3-6 3l-6 6-6 9l-6 12-6 21l0 12 2 12l4 8 6 6l12 6 12 4l18 1 18-3l12-5 12-8l8-9 10-13l6-4 6 1l24 7 18 4l30 4 24 0l24-1 42-7l12-4 6-5l6-7 17-29l13-13 12-7l12-2 6 1l12 4 12 11l10 18 11 30l3 6 6 7l18 8 18 6l36 9 18 6l5 6-5 24l1 12 2 6l6 12 11 12l10 8 12 8l24 10 30 7l30 3 36-1l30-6 24-8l24-14 8-7l11-12 7-15l10 9 18 0l6 6 18 0l6 6 12 0l6 6 12 0l6 6 24 0l30 30 6 0l6 6 18 0l6 6 6 0l6 6 30 0l6 6 30 0l6-6 6 6l18 0 6 6l6 0 6 6l6 0 42 42l6 0 12 12l12 0 2 3l-14 1-18 5l-12 7-6 6l-11 14-4 12l0 6 0 6l4 12 7 12l10 10 6 3l12 6 12 3l18 1 12-2l12-8 12-12l15-13 4-6l2-6 0-12l-2-6-6-12l-4-6-9-8l-6-4 12 0l18 18 0 6l6 6 0 30l6 6 0 6l-6-4-6-1l-12 3-11 8l-9 12-7 18l-3 23-5 13l-21 30-5 12l-1 12 5 12l4 5-7 7l0 6-6 7l-5-19-11-24l-15-24-17-19l-18-15-18-10l-12-5-12-4l-12 1-42 15l-78 17-7 2l-8 6-18 24l-10 18-8 18l-7 30-2 18l0 30-1 6l-5 6-6 2l-12 2-12-2l-3-2-2-6l7-54 1-42l-6-42-8-30l-6-18-9-18l-8-12-9-12l-11-10-12-8l-12-5-12-1l-12 1-12 3l-12 7-9 7l-15 19-11 17l-11 24-8 8l-6 1-6-1l-30-15-18-6l-12-2-30-1l-18-2-54-13l-30 0-42 4l-72 15-84 8l-18 3-18 5l-18 8-18 12l-10 12-9 18l-8 12-9 8l-6 4-6 1l-12-1-66-45l-24-11-12-3l-54-3-12-2l-6-4-18-16l-42-51-12-10l-18-9-6-4l-6-10-26-54l-11-18-2-12l2-96 1-6l3-6 7-6l27-18 29-9l10-9 22-24l3-6 5-30l8-17 12-21l46-70 11-24l6-18 3-3l12-2 12-4l18-12 26-27l8-12 1-6l-2-6-3-3l-6-2-6 1l-6 3-26 19l-16 7-6 0l-1-1-1-6l2-18-1-12l-5-10-6-5l-7-3-5-5l1-13-2-12l-9-14 10-10l6 0 6-6l0-6zM916 465l-6 1-12 5l-12 10-13 20l-5 12-3 12l0 6 3 6l3 6 9 9l6 5 12 6l6 1 12 1l12-1 12-5l6-4 6-6l4-6 2-12l-1-12-4-18l-7-17-12-13l-12-5zM447 561l-5 2-6 4l-24 23-6 2l-21 5-34 24l-3 6-2 18l-1 42 2 24l2 12 4 12l42 84 6 6l11 7 12 11l42 52 18 16l12 5 12 2l24-1 18-4l7-4 6-6l7-12 10-22l6-4 30 2l78-1 18 3l48 12 24 2l24 0 35-4l23-6 14-6l9-6 12-12l6-12 1-12l-5-12-6-6l-7-6-22-12l-18-7-53-17l-55-20-42-8l-30-3-24 0l-42 2-24 4l-30 7-6 1l-6-1-6-4l-7-8-29-56l-12-29-28-77l-2-6-5-6zM918 603l-14 3-12 4l-24 13-21 16l-14 18-8 18l-4 18 0 12l2 12 6 18l12 18 13 12l26 16 30 13l24 5 24 0l30-6 18-6l18-11 18-15l7-8 12-18l6-18 2-12l-1-18-5-18l-10-18-11-13l-18-15-18-10l-18-6-24-5l-24-1zM1067 771l-13 5-11 7l-7 7-9 11l-5 12-2 18l1 12 5 12l4 6 8 6l13 6 15 4l13 2 17 1l12-2 12-5l7-6 4-6l4-6 4-12l2-12-1-12l-7-18-7-10l-6-7-6-4l-12-6-18-4zM1481 837l-13 5-12 6l-9 7-8 12l-3 12 2 12l8 12 10 7l12 4 18 0l18-2 30-7l18-5 12-5l12-10 4-6l1-6-1-6l-2-6-12-12l-14-8-18-5l-18-3-18 1zM448 231l11 0-4 6l-2 12 2 12l2 6 9 10l6 3 6 3l12 2 1 6l-10 30-3 12l0 48-1 12l-5 12-6 10l-6 8-6 2l-6-26-2-30l-10-44-8-46l-9-19zM461 375l-7 6-3 12l3 26 6 1l6-7 6-10l4-16-1-6l-3-7-6-1zM868 243l48 0 12 12l0 21-24-16l-18-9-21-8zM178 325l36 7 12 1l18-1 36-5l18 0-6 0l-18 18 12 12l-12 12-6 6l-12 0-6 6l-6 0-6-6l-18 0-18-18l-6 0-6-6l-6 0-12-12l0-16zM227 753l1 12-1 7l-1-1 0-18l1-1zM1744 771l6 0 6 6l-14-6zM227 807l0 2-1-2l1-1zM1216 1166l12-2 6 0l7 3 3 6l0 12-6 36l0 18 4 24l12 30 0 6l-6 6-26 12l-12 4-6 0l-4-4-10-36l-8-18-8-12l-10-12-8-8l-12-9-12-6l-12-4-12-2l-12-1-12 2l-18 6-12 7l-10 9-2 6l0 12 5 18l22 42 13 30l6 24 8 45l6 19 6 11l6 5 6 2l12 0 2 2l-6 30 0 18l6 18 16 24l-5 6-43 9l-18 6-12 7l-12 9-12 11l-3 6-1 6l0 6 5 12l24 36 23 52l12 15 12 9l12 3 24 2l28-1-4 4l0 6-12 12l0 6-18 18l-6 0-6 6l-6 0-6 6l-24 0-6-6l-29 0 17-14l11-16 6-12l1-6 0-6l-14-30-16-41l-12-20-24-29l-3-6-1-6l0-6 6-12l25-30 11-18l13-30 6-24l0-18-14-84l-8-30-10-24l-43-80-12-14l-18-11-12-5l-12-3-12-1l-12 1-31 5l-35 9-6 2l-6 7-2 18l0 54-2 18l-20 84-42 120l-5 30 0 12l5 6 8 6l85 48 9 6l4 6 2 6l1 12 1 90l4 12 3 6l7 6 12 6l18 6 29 6l39 4 18 0l14-2 4 4l0 6-3 3l-3 0-61-9l-77-14-27-4l-3-6 7-12l5-12 4-18l2-18 0-24l-2-18-2-12l-5-12-12-12l-33-21-36-18l-30-10-7-5l7-9 7-15l11-36 14-36l29-84 19-84l1-12-2-60l1-12 4-10l6-4 6-2l60-15 18-6l22-11 8-1l12-1 78 13l30 1 18-3l48-11zM1636 1245l0 18-6 6l0 6-6 6l0 6-18 18l0 6-12 12l0 24-18 18l-6 0-36 36l-6-6-12 0l-1-1 13-7l10-10 5-12l3-15 6-8l18-19 12-10l3-2 5-6l2-6 3-24l5-18 6-6l18-3zM1450 1407l-12 12-11 0l6-6 5-3l6-3zM706 1550l6-4 6-1l6 2 6 4l18 29 1 1l-2 6-11 5l-6 0-6-1l-6-4-12-14l-4-10 0-6zM708 1551l-4 6 0 6l3 6 5 8l6 5 6 3l6 0 7-4l1-6-1-6l-7-14-6-5l-6-1-6 0zM1324 1563l12-4 0 4l-30 30-6 0l-6 6-1 7l-19-25 2-6l36-8zM694 1760l6-2 12 1l12 6 8 8l8 12 5 12l1 6-2 6l-5 6-8 6l-19 12-12 4l-12-1-6-4l-7-11-4-18l1-12 4-14l6-10 6-5zM692 1767l-4 4-7 8l-4 12-1 12l3 12 3 7l6 6 6 2l6 0 8-3l22-13 6-8l1-3 0-6l-7-16-6-7l-6-5-6-3l-6-1-6 0z" fill="#bf3338" stroke="#bf3338" stroke-width="1.2"/>
<path d="M634 230l25-4 7 8l-38 6-30 8l-30 12-13 7l-6 6-2 6l0 30 1 6l2 2 8-2l10-4 24-18l12-4 6 2l6 6 2 6l-1 6-8 12l-35 39-12 7l-18 6-4 2l-2 3-8 21l-6 12-22 29l-30 45-12 22l-6 15-1 9l1 5 6 7l24 13 6 2l12 2 12-3l12-6 6-6l5-8 2-6l5-30 11-30l4-24 3-5l6-4 24-8l10-7 10-12l5-12 5-7l6-3 6 0l30 3 24-1l133-22 29-6l39-12 15-6l10-6 6-6l8-12 1-6l0-6-4-12l-9-12-14-12l-22-13-18-8l-30-9 33 0l21 8 24 12l18 13 0 15l20 21 0 3l-4 6-11 12l-16 12-14 6l-40 12-28 6l-165 30-24 2l-6 2-5 2l-13 19-12 11l-12 7-24 8l-6 5-18 42l-4 16-3 30l-2 6-4 6l-11 10-12 5l-18 2-12-3l-18-10-12-10l-3-12 1-12l2-8 6-13l12-21 36-54l9-12 7-12l14-35 18-5l18-10 18-17l18-19 5-10l2-6-2-6l-5-5-6-1l-6 1-6 3l-24 18-6 3l-12 4-6-5l2-24-6-24l4-5 6-4l24-12 36-11zM466 373l6 1 0 1l3 6 0 12l-3 10-6 10l-6 7-6-1l-3-20 1-12l2-6 6-5zM457 387l-3 8-1 10l1 6 6 6l6-7 6-10l1-13-1-4l-6-1-6 2zM916 465l6 1 12 5l12 13 7 17l4 18 1 12l-2 12-4 6l-6 6-6 4l-12 5-12 1l-12-1-6-1l-12-6-6-5l-9-9-3-6l-3-6 0-6l3-12 5-12l13-20 12-10l12-5zM914 471l-4 1-12 5l-12 12-11 18l-2 12 2 12l5 8 6 6l6 4 12 4l12 0 6-1l12-6 10-9l3-6 2-6l0-12-2-12l-2-6-5-10l-6-6-6-4l-6-3zM448 561l6 6 2 6l28 77 12 29l29 56 7 8l6 4 6 1l6-1 30-7l24-4 42-2l24 0 30 3l42 8 55 20l53 17 18 7l22 12 7 6l6 6 5 12l-1 12-6 12l-12 12-9 6l-14 6-23 6l-35 4-24 0l-24-2-48-12l-18-3-78 1l-30-2-6 4l-10 22-7 12l-6 6-7 4l-18 4-24 1l-12-2-12-5l-18-16-42-52l-12-11-11-7l-6-6-42-84l-4-12-3-18l-1-30 1-36l2-12 3-6l34-24 21-5l6-2 24-23l6-4zM433 573l-21 18-6 3l-19 3-35 25l-4 11 0 30l2 30 3 18l13 30 40 78l24 27 36 46l18 17 12 5l18 1 18-2l12-5 6-5l8-12 6-12l10-32 6-4l18 10 12 3l6 0 12-4l13-9 6-6l10-12 1-3l3-3 3-7l4-5 2-6l-6-6-12-6l-12-5-18-3l-18 1-12 3l-12 5-6 1l-18-9-18-14l-18-21-30-57l-12-27-28-78l-6-12-2-2l-6 1zM1072 770l18 0 18 6l6 4 11 9l4 6 7 12l4 12 1 12l-4 18-2 6l-8 12-7 6l-6 3-12 3l-18 1-12-2l-18-4-16-7l-8-6-4-6l-3-6-3-12l0-12 2-12l5-12 9-12l12-9 12-7zM1059 789l-9 6-6 6l-4 6-5 12l0 18 1 6l6 11 6 7l6 3 6 3l12 3 18 1l12-2 6-3l5-5 5-6l3-6 4-12l1-10-2-8l-4-12-10-12l-14-8-12-3l-6 0-12 3zM1702 770l12-2 8 0l4 3 16 0l8 3 12 7l9 8 4 6l6 12 2 6l0 12-2 6l-4 6-15 13l-12 12-12 8l-12 2-12 0l-12-2-12-4l-12-7-6-6l-8-10-3-6l-4-12 0-12l4-12 4-6l4-6 9-8l12-7zM1696 783l-10 6-7 6l-5 6-5 12l0 12 2 6l7 12 6 6l12 7 12 4l12 1 12-1l12-3 6-4l16-16 5-12l0-12-5-12l-10-11-12-7l-18-4-18 1zM1486 836l18-3 18 1l12 2 18 5l14 8 12 12l2 6 1 6l-1 6-4 6l-12 10-12 5l-18 5-30 7l-18 2-18 0l-12-4-10-7l-8-12-2-12l3-12 8-12l9-7 12-6zM1477 849l-9 5-10 7l-5 6-3 6l-1 6 1 6l6 11 6 5l6 4 18 3l29-5 23-6l14-4 11-8l4-6 1-6l-2-6-4-6l-10-8-12-5l-12-3-18-2l-18 2zM946 1209l18 1 18 5l18 9 6 5l9 10 46 84l12 30 7 30l13 78 0 12l-1 12-5 18l-13 30-11 18l-25 30-6 12l0 6 1 6l3 6 24 29l12 20 16 41l11 24 3 12l-4 12-7 12l-10 12-9 9l-5 3-13 0l-6-6-6 6l8 8-14 2l-18 0-39-4l-29-6-18-6l-12-6-4-4l-6-8-4-12l-1-90-1-12l-2-6-4-6l-9-6-85-48l-8-6-5-6l-1-6 2-18l4-18 42-120l20-84 2-18l0-54 2-18l6-7 6-2l36-9zM892 1227l-20 6-4 4l-4 8-3 18l0 48-3 18l-18 78-40 114l-4 18 0 12l2 6 9 12l19 15 48 25l42 14 6 6l1 6-1 6l-6 24-1 12l0 48 2 12l4 12 13 16l10 8 13 6l24 6 25 2l19-2 11-3l12-7 17-14l15-18 5-12l1-6-2-12l-6-24-6-17l-6-13-12-17l-12-12-22-19l-4-6-3-6l0-6 6-12l23-27 13-21l12-24 8-24l3-18 0-18l-4-42-6-36l-10-30-14-30l-26-44-8-10l-10-11-12-8l-12-6-18-6l-12-3-24 0zM712 1549l6 0 6 1l6 5 4 8l4 12-1 6l-1 2-6 2l-6 0-6-3l-7-7-5-8l-2-10 4-6zM709 1557l0 6 2 6l6 6 7 3l6-2 1-7l-1-6-6-8l-6-3-6 2zM694 1767l12-2 6 1l6 3 6 5l6 7 7 16l0 6-1 3l-6 8-22 13l-8 3-6 0l-6-2-6-6l-3-7-3-12l1-12 4-12l7-8z" fill="#bb2a34" stroke="#bb2a34" stroke-width="1.2"/>
<path d="M646 237l20-3 5 5l-43 7-36 11l-18 8-12 7l-6 5-4 8l-2 24 6 4l12-4 18-13l12-7 6-1l6 1 6 5l2 3 1 6l-1 6-7 12l-20 24-4 6l-1 6 6 8l18 7 60 13l24 0 36-4l41-6 64-12l40-12 15-6l11-6 6-6l5-6 3-12l-2-12-6-12l-11-12-16-11l-24-11-34-10l4-4 12 2l24 7 24 11l16 10 14 12l9 12 4 12l0 6-1 6l-8 12-6 6l-10 6-15 6l-39 12-62 12l-100 16-24 1l-30-3-6 0l-6 3-5 7l-5 12-10 12l-10 7-24 8l-6 4-3 5l-4 24-11 30l-5 30-2 6l-5 8-12 10l-12 4-12 1l-12-4-24-13l-6-7-1-5l1-9 12-27l36-55 22-29l6-12 8-21l2-3 4-2l18-6 12-7l35-39 8-12l1-6-2-6l-6-6-6-2l-12 4-24 18l-10 4-8 2l-2-2-1-6l0-30 2-6l6-6 7-4l24-11 36-11zM535 411l-3 1-12 10l-12 13-36 53l-12 23-3 8l-2 6 1 6l4 5 30 13l12 2 12-3l6-3 6-5l6-8 2-7l6-24 9-30l2-12-2-30l1-19-6-4l-6 3zM460 384l6-2 6 1l1 10-1 7l-6 10-6 7l-6-6-1-12l1-6zM459 393l-2 6 0 6l3 7 6-6l4-13-4-5zM916 471l12 4 6 4l6 6 5 10l2 6 2 12l0 12-2 6l-3 6-10 9l-12 6-6 1l-12 0-12-4l-6-4-6-6l-5-8-2-12l2-12 3-6l8-12 5-6l7-6 6-3zM896 489l-4 3-6 6l-6 9-3 12l1 6 3 6l4 6 7 6l12 4 12-2l12-7 5-7l4-12-1-12l-5-12-9-8l-6-2-6-1l-6 1zM436 572l6-1 5 8l36 96 25 51l12 21 18 21l18 14 18 9l6-1 12-5l12-3 18-1l18 3 12 5l12 6 6 6l-2 6-4 5l-3 7-3 3l-1 3-10 12l-6 6-13 9l-12 4-6 0l-12-3-18-10l-6 4-10 32l-6 12-8 12l-6 5-12 5l-18 2-18-1l-12-5-19-18l-35-45-24-27l-46-90-8-24l-3-18-1-30l0-24 4-11l35-25 19-3l6-3zM429 579l-17 14-6 2l-14 2-10 5l-27 19-3 5l-2 13 0 30l2 12 4 18l12 30 45 90l47 63 18 19l12 8 6 2l12 1 20-3l10-4 8-8l4-6 6-12l5-24 1-12l-2-12-13-30l-39-60-30-60l-36-96-6-7zM595 813l-4 6-3 6l0 6 2 6l5 6 9 5l6 1 6-1l10-5 4-6l2-6 0-6l-2-6-5-6l-9-5-6 0l-6 1zM1702 781l18-2 18 2l16 8 12 12l5 12 0 12l-2 6-9 12l-16 14-6 2l-12 2-12 0l-12-2-9-4l-9-6-10-12l-3-6-2-12l3-12 6-10l6-6 6-4zM1706 789l-13 6-6 6l-5 6-3 12l1 6 5 12l11 9 6 3l12 3 18-1l6-2 10-6l8-7 4-11l0-12-4-9l-9-9-13-6l-14-1zM1060 789l6-2 12-3l6 0 12 3l14 8 10 12l4 12 2 8l-1 10-4 12l-3 6-5 6l-5 5-6 3l-12 2-18-1l-12-3-6-3l-6-3-6-7l-6-11-1-6l0-18 5-12l4-6 6-6zM1480 848l12-3 18-2l18 2 12 3l12 5 10 8l4 6 2 6l-1 6-4 6l-11 8-14 4l-23 6-29 5l-18-3-11-8l-5-6-2-6l-1-6 1-6l3-6 9-9l6-4zM1486 855l-13 6-7 6l-4 6-1 6l1 6 3 6l9 7 12 2l19-3 41-11l7-7 2-6l-2-6-6-6l-13-6-12-2l-12-1-12 1zM898 1226l30-4 24 2l24 8 12 6l12 8 10 11l8 10 26 44l14 30 10 30l6 36 4 42l0 18-3 18l-8 24-12 24l-13 21-23 27l-6 12 0 6l3 6 4 6l22 19 12 12l12 17 6 13l6 17 6 24l2 12-1 6l-5 12-15 18l-11 10-12 8l-18 7-24 1l-18-2-12-2l-13-4-13-6l-14-12-8-11l-3-7-3-12l-1-12 0-42l1-12 6-24l1-6-1-6l-6-6-42-14l-48-25-19-15l-9-12-2-6l0-12 4-18l40-114 18-78l3-18 0-48l3-18 4-8l6-5zM888 1239l-14 6-6 7l-4 23-1 36l-17 78-6 24l-38 108-2 12l0 12 6 12l14 14 12 8l42 17 18 6l18 3 30 2l18-1 12-3l12-8 36-32l19-24 17-30l11-30 3-24l-1-30-6-42l-10-36-14-30l-13-23-12-17l-18-19-12-8l-12-6-24-7l-12-2-18 0zM964 1623l-12 11-12 15l-7 10-5 14l-3 16 0 18l2 18 5 12l8 13 12 11l9 6 14 6l19 3 12 0l12-3 12-5l12-7 14-12l9-12 5-12l2-12 0-12l-6-24-6-13l-12-16-12-10l-12-8-18-7l-18-5-12 0l-6 2zM712 1554l6-2 6 3l2 2 4 6l1 6-1 7l-6 2-6-2l-6-6-3-7l0-6z" fill="#b72230" stroke="#b72230" stroke-width="1.2"/>
<path d="M646 242l25-3 4 4l-23 3-24 5l-18 5-18 7l-18 9-10 7l-5 6-3 6l-1 6-1 6l2 4 6 1l10-5 20-14l6-2 6-1l6 1 6 4l4 6 1 6l-1 6-7 12l-15 18-3 6l0 6 3 3l12 7 30 10l24 6 24 2l24 0 36-4l40-6 55-12l33-12 11-6l7-6 5-6l4-12-1-12l-7-12-11-12l-20-12-26-10l-29-8 11 0l2-2 22 6l22 8 14 7l16 11 6 6l9 12 4 12l-1 12-7 12l-6 6-11 6l-15 6-40 12l-64 12-41 6l-48 5-24-3l-48-11-18-7l-6-8 1-6l4-6 20-24l7-12 1-6l-1-6-2-3l-6-5-6-1l-6 1-12 7l-18 13-12 4l-6-4 2-24l2-6 6-6l20-12 30-10zM460 392l6-4 4 5l-4 13-6 6l-3-7 0-6zM538 409l6-3 6 4l-1 19 1 36l-14 54-4 13l-6 8-6 5l-6 3-12 3l-12-2-30-13l-4-5-1-6l2-6 3-8l12-23 36-53l12-13zM519 429l-5 3-12 15l-24 35-12 21l-6 14-1 8l1 3 5 3l13 4 12 5l12 2 6-1l8-4 7-6l5-6 4-8l11-40 1-18l-2-12-4-8l-6-7-6-3zM898 488l12-4 6 1l6 2 9 8l5 12 1 12l-4 12-5 7l-12 7-12 2l-12-4-7-6l-4-6-3-6l-1-6 3-12l6-9 6-6zM901 495l-9 4-6 7l-4 7 0 12l3 6 7 7l6 3 12 1l9-5 6-6l3-12-1-6l-2-6-9-9l-6-2zM430 579l6-1 6 7l36 96 30 60l39 60 13 30l2 12-1 12l-5 24-6 12l-4 6-8 8l-10 4-20 3l-12-1-6-2l-12-8-18-19l-47-63-45-90l-12-30-4-18l-2-12 0-30l2-13 3-5l27-19 10-5l14-2 6-2zM428 585l-16 10-18 4l-11 4-26 18l-4 6-2 12l1 18 6 27l17 45 42 84l7 12 24 36l18 24 18 17l6 4 12 2l18-2 8-3l9-6 7-8l5-10 4-12l1-12-2-18l-4-12-12-24l-32-54-31-60l-7-18-29-78l-5-6-2-1zM1708 789l12-1 14 1l13 6 9 9l4 9 0 12l-4 11-8 7l-10 6-6 2l-18 1-12-3l-6-3-11-9l-5-12-1-6l3-12 5-6l6-6zM598 811l6-2 12-1l6 3 6 6l4 8 0 6l-2 6-4 6l-10 5-6 1l-6-1-9-5l-5-6-2-6l0-6 3-6zM603 819l-5 6-1 6l4 6 3 3l6 1 6-1l4-3 3-6l-1-6-5-6l-7-2zM1492 854l12-2 12 0l18 3 13 6l6 6 2 6l-2 6-7 7l-41 11-19 3l-12-2-9-7l-3-6-1-6l1-6 4-6l7-6 13-6zM892 1238l18-3 12 0l18 1 12 2l24 9 12 6l12 10 11 12l8 12 24 42l12 30 7 30l6 42 0 30l-5 24-12 30l-9 17-9 13l-21 24-30 26l-12 8-12 3l-18 1-30-2l-18-3-18-6l-42-17-12-8l-14-14-6-12l0-12 2-12l38-108 6-24l17-78 1-36l4-23 6-7zM890 1251l-10 4-6 4l-6 12-4 46l-17 78-7 24l-34 96-3 12l0 12 2 6l7 12 8 8l12 8 12 4l21 4 33 10l18 2 24-2l12-2 18-7l24-14 12-10l12-12 17-25l13-24 9-30l2-30-3-36l-8-36-11-30l-10-18-15-24l-8-12-11-12l-11-8-12-6l-24-7-30-1zM970 1620l12-2 12 1l18 6 18 9l12 8 10 11l8 11 6 13l5 18 1 12l0 12-4 12l-8 14-12 12l-16 10-14 6l-18 3-12 0l-13-3-14-6l-9-6-12-11l-8-13-4-10l-3-14 0-18l2-18 3-12l10-16 12-15l6-6z" fill="#b41c2d" stroke="#b41c2d" stroke-width="1.2"/>
<path d="M675 243l4 4-21 3l-27 5-21 6l-14 6-20 12l-7 6-4 6l-2 6 5 3l6-2 12-8l12-6 6-1l12 5 5 9l1 6-1 6l-2 6-17 24l0 6 6 6l20 8 30 8l24 5 24 1l30-1 25-3l37-6 27-6l20-6 27-12l8-6 5-6l5-12 0-12l-7-12-9-9l-13-9-27-12l-35-9 3-3l7 0 11 3l30 9 18 8l16 10 8 8l7 10 4 12l-2 12-7 12l-7 6-11 6l-33 12-55 12l-52 8-48 2l-30-4-36-10l-18-7-6-4l-3-3 0-6l3-6 15-18l7-12 1-6l-1-6-4-6l-6-4-6-1l-6 1-6 2l-20 14-10 5l-6-1-2-4l2-12 6-9l6-6 14-9l13-6 21-7l18-4zM520 428l7 1 5 3l6 7 4 8l2 12-1 18l-11 40-4 8l-5 6-7 6l-8 4-6 1l-12-2-12-5l-13-4-5-3l-1-3 1-8l6-14 12-21l24-35 12-15zM511 441l-9 12-30 45l-7 15-1 6l2 3 12 3l16 6 8 1l6-1 6-3l6-5 6-10l10-36 1-12l0-6-5-12l-6-7-6-2l-6 1zM904 495l12 3 6 5l3 4 3 12l-3 12-3 4l-6 5-6 2l-6 0-6-1l-7-4-6-6l-3-6-1-6l4-12 4-6l9-5zM897 501l-5 4-6 8l-1 6 1 6l6 8 6 4l6 1 6-1l9-6 3-6l1-6-1-6l-6-8-6-4l-6-1zM430 584l6 4 1 3l29 78 7 18l31 60 32 54l12 24 4 12l2 18-1 12l-4 12-5 10l-7 8-9 6l-8 3-18 2l-12-2-6-4l-18-17-18-24l-24-36-7-12l-42-84-17-45l-6-27-1-18l2-12 4-6l26-18 11-4l18-4zM424 591l-18 8-19 4l-26 18-3 4l-3 8 0 6l3 24 12 35l12 30 48 96l18 31 18 25l18 18 12 5l12 0 6-1l12-4 6-5l6-7 4-7l2-6 2-12l-1-18-4-12l-9-20-39-70l-30-60-31-84l-2-4zM604 819l6-2 6 1l6 6 1 7l-3 6-4 3l-6 1-6-1l-3-3-4-6l1-6zM892 1251l12-3 18-1l18 0 12 2l18 6 12 6l11 8 11 12l8 12 15 24l10 18 11 30l8 36 3 36l-2 30-9 30l-13 24-17 25l-12 12-12 10l-24 14-18 7l-12 2-24 2l-18-2-33-10l-21-4-12-4l-12-8-8-8l-7-12-2-6l0-12 3-12l34-96 7-24l17-78 4-46l6-12 6-4zM920 1257l-34 8-6 3l-6 5-4 14l-5 36-19 84l-39 114-1 12l1 6 5 12l8 9 6 4l18 8 36 2l24 5 18 1l24-3 24-8l12-7 14-11l10-9 12-14l8-13 10-17l10-31 3-18l0-24-2-24l-5-24-5-18l-7-18-27-48l-9-12-6-7l-18-12-12-4l-12-2-12 0z" fill="#ae172a" stroke="#ae172a" stroke-width="1.2"/>
<path d="M664 249l15-2 3 2l6 0 1 2l-31 4-24 5l-22 7-12 6l-1 6 11 2l6 4 5 6l3 6 1 6l-1 6-6 12l-8 12-1 6l6 6 19 8l24 6 30 5l24 1 30 0l18-2 37-6l25-6 18-6l16-7 12-9l6-8 3-12l-1-6-2-6l-10-12-19-12l-13-6-18-5l-20-5 5-5l15 4 24 7l18 7 15 9l9 8 7 10l4 12-3 12l-3 6-5 6l-8 6-27 12l-20 6-27 6l-37 6-43 4l-24 0-28-4l-32-8-24-9l-6-4-2-3l0-6 17-24l2-6 1-6l-1-6-5-9l-12-5-6 1l-12 6-12 8l-6 2-5-3l2-6 4-6l7-6 8-6l14-7 33-11zM514 439l6-1 7 3l5 6 5 12l0 6-1 12l-10 36-6 10l-6 5-6 3l-6 1-8-1l-16-6-12-3l-2-3 2-8l12-23 24-35l6-9zM898 501l6-1 6 1l6 4 6 8l1 6-1 6l-3 6-9 6l-6 1-6-1l-6-4-6-8l-1-6 1-6l6-8zM895 507l-5 6-1 6l3 9 6 5l6 1 8-3l5-6 1-6l-2-8-6-5l-6-1zM424 591l6 2 2 4l31 84 30 60l39 70 9 20l4 12 1 18l-2 12-2 6l-4 7-6 7l-6 5-12 4l-6 1-12 0l-12-5-18-18l-18-25-18-31l-48-96-12-30l-12-35-3-24l0-6 3-8l3-4 26-18l19-4zM396 603l-12 6-18 12l-5 6-2 6l5 25 18 50l12 26 48 96l24 42 12 14l6 6 6 2l12 3 12-3l7-3 7-6l4-6 5-12l1-6-1-12l-5-16-18-37l-27-49-30-60l-32-84-1-2l-6-2zM922 1257l24-1 12 2l12 4 18 12l6 7 9 12l27 48 7 18l5 18 5 24l2 24 0 24l-3 18-10 31l-10 17-8 13l-12 14-10 9l-14 11-12 7l-24 8-24 3l-18-1-24-5l-36-2-18-8l-6-4-8-9l-4-9-2-9l2-15 10-27l14-44 14-40l19-84 5-36l4-14 6-5l6-3zM927 1263l-11 4-30 12l-6 3-6 10l-5 25-22 96l-15 42-9 30l-10 24-4 18l1 12 7 12l9 9 12 6l18 2 30-4l24 3 18 0l18-3 18-7l12-6 12-9l12-11 8-10l16-25 11-29l3-18 1-18l0-18-4-24l-4-18-7-18l-28-60-8-11l-6-6-12-9l-12-4-12-2z" fill="#a51429" stroke="#a51429" stroke-width="1.2"/>
<path d="M658 255l31-4 5 4l30 1-30 0l-24 2-36 9l-15 6-2 6l8 12 2 12l-2 12-6 12l0 6 3 4l4 2 19 6l25 5 24 3l30 1 30-2l24-3 24-5l18-5 14-6l10-5 7-7l5-6 2-6l-1-6-1-6l-5-6-6-6l-9-6-13-6l-18-6-18-4l7-6 19 4l19 6 24 12l8 6 10 12l3 12-1 6l-2 6-5 6l-6 6-10 6l-13 6-18 6l-25 6-39 6l-46 2-31-2l-35-7-30-10l-6-5-1-2l1-6 8-12l6-12 1-6l-1-6-3-6l-5-6-6-4l-11-2 1-6l12-6 18-6zM898 506l6-1 6 1l7 7 1 6l-1 6-5 6l-2 2-6 1l-6-1-8-8l-1-6 1-6zM896 513l-2 6 1 6l3 3 6 2l6-3 2-2l1-6-3-7l-6-2-6 1zM400 603l18-4 6 2l1 2 32 84l30 60 33 61l13 29 5 18l0 10-3 8l-3 8-6 7l-6 4-6 2l-12 3-12-3l-6-2-6-6l-12-14-24-42l-48-96-12-26l-18-50-5-25l2-6 5-6l18-12 10-5zM928 1263l12-2 12 1l18 5 12 9l6 6 8 11l28 60 7 18l4 18 4 24l0 18-1 18l-3 18-11 29l-16 25-8 10l-12 11-12 9l-12 6-18 7l-18 3-18 0l-24-3-30 4l-18-2-12-6l-9-9-7-12l-1-12 4-18l10-24 9-30l15-42 22-96l5-25 6-10l6-3 30-12zM926 1269l-13 6-27 20l-6 5-6 16l-21 91-15 42l-10 36-8 18l-7 18 0 12l4 12 9 10l12 7 12 2l12-2 30-11l6-1 24 2l12-1 18-5l12-5 19-14l17-18 12-19l9-23 4-18l2-18 0-18l-2-18-7-27l-15-33-10-36l-7-12-5-6l-7-6-10-5l-18-4-12 1z" fill="#9c1127" stroke="#9c1127" stroke-width="1.2"/>
<path d="M658 261l30-5 36 0l6 5 36 0l6 6 12 0l3-4 18 4l18 6 13 6l9 6 6 6l5 6 1 6l1 6-2 6l-5 6-7 6l-10 6-26 10l-30 6-36 4l-36 1-31-3l-29-5-20-7l-4-2-3-4l0-6 6-12l2-12-2-12l-8-12 2-6l3-1 12-5zM694 261l-18 2-18 4l-16 6-9 6l-3 6 4 31l3 5 9 5l18 6 18 3l24 1 18-2l18-4 21-9l16-12 5-6l0-6-3-6l-13-12-10-6l-14-6-14-3l-18-2zM898 511l6-1 7 3l2 6-1 6l-2 2-6 3l-6-2-3-3l-1-6 2-6zM928 1269l18-3 18 4l10 5 7 6l5 6 7 12l10 36 15 33l7 27 2 18l0 18-2 18l-4 18-9 23l-12 19-17 18l-19 14-12 5l-18 5-12 1l-24-2-6 1l-30 11-12 2l-12-2-12-7l-9-10-4-12l0-12 7-18l8-18 10-36l15-42 21-91l6-16 6-5l27-20zM925 1275l-10 6-12 12l-8 12-7 18l-2 12 0 13l5 29 1 12l6 12 5 0l1 6 54 0l6-1 0-5l6-2 0-4l3-6 3-1l1-5 5-8l6-18 4-28l0-12-2-12l-5-12-5-6l-5-6-11-7l-6-2-12-1l-12 1zM879 1449l-5 2-1 4l-5 2-2 4l-4 2-3 4l-3 2-3 4l-3 2-4 4l-8 8-12 15l-6 11-3 14l2 12 7 10l12 8 12 2l10-2 12-6l7-6 16-18l8-12 1-3l3-3 3-6l5-6 1-5l3-1 3-6l4-6 2-12l-18-18-6 0l-6-6-12 0l-6 3z" fill="#930e26" stroke="#930e26" stroke-width="1.2"/>
<path d="M700 261l30 3 14 3l14 6 10 6l13 12 3 6l0 6-5 6l-16 12-21 9l-18 4-18 2l-24-1-18-3l-18-6-9-5l-3-5-4-31l3-6 9-6l22-8 18-3zM684 267l-14 3-11 3l-11 6-6 6l-2 6 0 6l1 6 5 7l12 8 12 4l12 3 18 0l12-1 12-3l12-5 9-7l4-6 2-6l0-6-3-6l-5-6-7-5l-12-4-12-3zM928 1274l18-3 12 1l7 3 10 6l5 6 5 6l5 12 2 12l0 12-4 28l-6 18-5 8l-1 5-3 1l-3 6 0 4l-6 2 0 5l-6 1-54 0l-1-6-5 0l-6-12-1-12l-5-29 0-13l2-12 7-18l8-12 12-12zM925 1281l-7 6-6 6l-6 12-1 12l1 6 6 12l5 6 8 6l15 6 12 1l12-3 6-3l6-4 6-8l3-13-1-18l-5-12-5-6l-8-6-14-5l-12 0zM880 1446l6-3 12 0l6 6 6 0l18 18-2 12l-4 6-3 6l-3 1-1 5l-5 6-3 6l-3 3-1 3l-8 12-16 18l-7 6-12 6l-10 2-12-2l-12-8-7-10l-2-12 3-14l6-11 12-15l8-8 4-4l3-2 3-4l3-2 3-4l4-2 2-4l5-2 1-4l5-2zM835 1503l-9 11-3 7l0 12 3 7l6 7 6 4l6 2 12-1l11-7 7-8l3-10-2-12l-4-6-6-6l-9-4-6-1l-6 1z" fill="#8a0b25" stroke="#8a0b25" stroke-width="1.2"/>
<path d="M688 267l24 0 12 3l12 4 7 5l5 6 3 6l0 6-2 6l-4 6-9 7l-12 5-12 3l-12 1-18 0l-18-5-11-5l-8-6-4-6l-1-6 0-6l2-6 6-6l11-6 11-3zM680 273l-19 6-8 6l-4 6 0 6l2 6 7 6l6 4 18 5l24 0 18-4l8-5 7-6l2-6 0-6l-3-6-8-6l-12-4-12-3zM928 1280l12-4 6-1l12 2 12 7l9 9 5 12l1 18-3 13l-6 8-6 4l-6 3-12 3l-12-1-15-6l-8-6-5-6l-6-12-1-6l1-12 6-12l6-6zM929 1287l-7 7-6 12l-1 11 2 6l5 8 6 6l6 3 12 4l12-2 12-6l6-9 2-10l-1-12-6-12l-7-6-12-5l-12 1zM838 1501l6-2 6-1l6 1 6 2l6 4 7 10l2 6-2 12l-3 6-5 6l-10 6-7 2l-12-2-9-6l-4-6-2-12l2-12 7-9z" fill="#810823" stroke="#810823" stroke-width="1.2"/>
<path d="M682 273l24-1 12 3l12 4 8 6l3 6 0 6l-2 6-7 6l-8 5-18 4l-24 0-18-5l-6-4-7-6l-2-6 0-6l4-6 8-6l9-3zM683 279l-18 6-6 6l0 6 4 6l12 6 19 3l18-2 15-7l4-6-1-7l-5-5-7-3l-12-3zM934 1285l12-3 12 2l6 3 6 5l5 7 3 12l-1 12-3 6l-4 6-6 5l-12 3-12 0l-12-6-8-8l-5-12 1-12l6-12 7-6z" fill="#7c0722" stroke="#7c0722" stroke-width="1.2"/>
<path d="M688 279l20 0 16 5l7 7 0 6l-4 6-15 7l-12 1-12 0l-12-2-6-2l-7-4-4-6l0-6 6-6l5-2z" fill="#730421" stroke="#730421" stroke-width="1.2"/>
</g>
<path d="M178.0,282.0 L201.3,297.0 L221.3,313.7 L244.7,315.3 L264.7,307.0 L291.3,290.3 L311.3,293.7 L334.7,302.0 L354.7,317.0 L371.3,330.3 L378.0,340.3 L383.0,325.3 L404.7,303.7 L423.0,290.3 L426.3,260.3 L441.3,245.3 L454.7,240.3 L471.3,233.0 L494.7,238.7 L514.7,228.7 L534.7,213.7 L541.3,202.0 L558.0,195.3 L573.0,205.3 L564.7,213.7 L604.6,214.8 L609.3,203.2 L616.3,210.2 L618.6,226.4 L623.2,226.4 L646.4,228.8 L660.4,235.7 L669.6,247.3 L674.3,258.9 L692.9,261.3 L716.1,265.9 L739.3,269.4 L762.5,271.7 L781.1,275.2 L790.4,269.4 L799.7,261.3 L813.6,256.6 L832.2,254.3 L855.4,252.0 L883.2,253.1 L889.0,252.0 L915.0,250.0 L917.0,265.0 L916.0,277.0 L920.0,291.0 L937.0,310.0 L953.0,329.0 L971.0,342.0 L968.7,343.7 L985.3,353.7 L995.3,363.7 L1005.3,377.0 L1018.7,390.3 L1035.3,403.7 L1045.3,412.0 L1068.7,413.7 L1085.3,417.0 L1118.7,420.3 L1152.0,427.0 L1185.3,433.7 L1218.7,440.3 L1232.0,463.7 L1245.3,480.3 L1252.0,510.3 L1262.0,537.0 L1275.3,547.0 L1285.3,557.0 L1285.3,577.0 L1282.0,597.0 L1292.0,600.3 L1312.0,613.7 L1333.3,620.0 L1333.3,630.0 L1353.3,630.0 L1383.3,638.3 L1410.0,646.7 L1433.3,656.7 L1453.3,656.7 L1463.3,673.3 L1486.7,686.7 L1506.7,691.7 L1533.3,701.7 L1556.7,705.0 L1576.7,708.3 L1600.0,705.0 L1620.0,706.7 L1633.3,715.0 L1650.0,723.3 L1673.3,743.3 L1693.3,763.3 L1710.0,773.3 L1733.3,780.0 L1753.3,783.3 L1773.3,790.0 L1783.3,816.7 L1786.7,850.0 L1786.7,870.0 L1783.3,900.0 L1776.7,920.0 L1763.3,943.3 L1746.7,960.0 L1726.7,976.7 L1706.7,996.7 L1693.3,1023.3 L1676.7,1046.7 L1656.7,1060.0 L1651.7,1083.3 L1650.0,1100.0 L1653.3,1143.3 L1646.7,1176.7 L1645.0,1203.3 L1630.0,1220.0 L1625.0,1240.0 L1625.0,1266.7 L1613.3,1286.7 L1600.0,1303.3 L1590.0,1316.7 L1583.3,1333.3 L1583.3,1350.0 L1566.7,1360.0 L1553.3,1366.7 L1546.7,1380.0 L1533.3,1390.0 L1500.0,1380.0 L1483.3,1383.3 L1460.0,1386.7 L1446.7,1400.0 L1436.7,1410.0 L1416.7,1413.3 L1400.0,1420.0 L1383.3,1428.3 L1366.7,1436.7 L1350.0,1450.0 L1340.0,1463.3 L1330.0,1480.0 L1326.7,1500.0 L1326.7,1520.0 L1326.7,1546.7 L1323.3,1566.7 L1310.0,1580.0 L1300.0,1586.7 L1290.0,1593.3 L1280.0,1610.0 L1270.0,1630.0 L1260.0,1643.3 L1240.0,1663.3 L1220.0,1680.0 L1210.0,1690.0 L1200.0,1706.7 L1190.0,1720.0 L1173.3,1736.7 L1166.7,1746.7 L1156.7,1763.3 L1140.0,1773.3 L1120.0,1781.7 L1100.0,1780.0 L1080.0,1776.7 L1053.3,1773.3 L1036.7,1770.0 L1033.3,1783.3 L1043.3,1800.0 L1036.7,1813.3 L1043.3,1826.7 L1056.7,1830.0 L1060.0,1846.7 L1046.7,1866.7 L1033.3,1880.0 L1026.7,1890.0 L1000.0,1903.3 L966.7,1910.0 L933.3,1915.0 L900.0,1918.3 L883.3,1918.3 L868.3,1911.7 L870.0,1933.3 L866.7,1960.0 L870.0,1973.3 L860.0,1983.3 L833.3,1988.3 L810.0,1985.0 L783.3,1976.7 L773.3,1980.0 L773.3,1996.7 L778.3,2020.0 L793.3,2026.7 L810.0,2021.7 L823.3,2026.7 L825.0,2046.7 L806.7,2050.0 L786.7,2060.0 L773.3,2070.0 L770.0,2090.0 L766.7,2103.3 L760.0,2116.7 L743.3,2120.0 L730.0,2123.3 L713.3,2130.0 L703.3,2143.3 L693.3,2156.7 L696.7,2166.7 L713.3,2180.0 L733.3,2186.7 L750.0,2190.0 L755.0,2200.0 L751.7,2213.3 L740.0,2220.0 L716.7,2236.7 L700.0,2250.0 L690.0,2263.3 L686.7,2280.0 L670.0,2286.7 L660.0,2290.0 L646.7,2300.0 L640.0,2310.0 L640.0,2323.3 L645.0,2340.0 L650.0,2353.3 L665.0,2365.0 L660.0,2373.3 L670.0,2386.7 L676.7,2400.0 L693.3,2416.7 L716.7,2430.0 L740.0,2440.0 L773.3,2443.3 L766.7,2453.3 L733.3,2453.3 L716.7,2456.7 L683.3,2456.7 L666.7,2466.7 L676.7,2476.7 L700.0,2483.3 L676.7,2480.0 L633.3,2473.3 L610.0,2466.7 L583.3,2460.0 L560.0,2450.0 L533.3,2436.7 L506.7,2426.7 L486.7,2413.3 L466.7,2396.7 L453.3,2380.0 L443.3,2360.0 L436.7,2340.0 L430.0,2320.0 L426.7,2300.0 L423.3,2280.0 L421.7,2253.3 L423.3,2226.7 L426.7,2210.0 L421.7,2180.0 L423.3,2170.0 L440.0,2166.7 L446.7,2156.7 L460.0,2140.0 L456.7,2126.7 L460.0,2106.7 L463.3,2086.7 L473.3,2076.7 L493.3,2076.7 L500.0,2066.7 L480.0,2063.3 L470.0,2060.0 L466.7,2053.3 L473.3,2033.3 L480.0,1990.0 L481.7,1970.0 L488.3,1950.0 L500.0,1943.3 L501.7,1916.7 L493.3,1896.7 L490.0,1876.7 L490.0,1856.7 L503.3,1853.3 L510.0,1840.0 L516.7,1816.7 L523.3,1803.3 L536.7,1786.7 L543.3,1763.3 L550.0,1743.3 L553.3,1726.7 L556.7,1710.0 L560.0,1690.0 L558.3,1663.3 L555.0,1636.7 L558.3,1623.3 L565.0,1613.3 L563.3,1590.0 L561.7,1576.7 L570.0,1563.3 L575.0,1546.7 L578.3,1530.0 L581.7,1510.0 L588.3,1483.3 L590.0,1466.7 L595.0,1450.0 L593.3,1433.3 L595.0,1406.7 L593.3,1390.0 L601.7,1383.3 L603.3,1350.0 L605.0,1316.7 L605.0,1283.3 L601.7,1250.0 L600.0,1233.3 L596.7,1223.3 L576.7,1210.0 L563.3,1193.3 L543.3,1180.0 L513.3,1166.7 L490.0,1156.7 L463.3,1140.0 L443.3,1130.0 L430.0,1116.7 L416.7,1100.0 L403.3,1083.3 L400.0,1073.3 L396.7,1050.0 L386.7,1030.0 L370.0,1006.7 L356.7,993.3 L350.0,973.3 L340.0,953.3 L333.3,933.3 L326.7,916.7 L320.0,900.0 L313.3,886.7 L303.3,873.3 L293.3,860.0 L283.3,846.7 L273.3,836.7 L260.0,830.0 L246.7,823.3 L238.3,813.3 L236.7,806.7 L243.3,800.0 L240.0,783.3 L236.7,773.3 L233.3,760.0 L236.7,750.0 L243.3,743.3 L253.3,733.3 L263.3,723.3 L270.0,713.3 L270.0,706.7 L256.7,700.0 L244.7,690.3 L248.0,687.0 L249.7,670.3 L246.3,653.7 L251.3,643.7 L258.0,637.0 L264.7,620.3 L271.3,613.7 L274.7,600.3 L274.7,587.0 L288.0,580.3 L311.3,573.7 L318.0,567.0 L311.3,557.0 L321.3,550.3 L324.7,537.0 L331.3,530.3 L351.3,523.7 L358.0,510.3 L364.7,497.0 L374.7,487.0 L371.3,477.0 L366.3,460.3 L366.3,443.7 L364.7,427.0 L361.3,410.3 L363.0,393.7 L358.0,377.0 L348.0,370.3 L351.3,363.7 L358.0,353.7 L351.3,340.3 L341.3,333.7 L324.7,317.0 L304.7,313.7 L278.0,327.0 L264.7,343.7 L274.7,358.7 L261.3,368.7 L244.7,370.3 L214.7,363.7 L211.3,353.7 L178.0,340.3 Z" fill="none" stroke="#000" stroke-width="2.0" stroke-linejoin="round"/>
<path d="M1250.0,1633.0 L1258.0,1637.0 L1257.0,1650.0 L1243.0,1660.0 L1233.0,1670.0 L1220.0,1680.0 L1213.0,1677.0 L1220.0,1663.0 L1233.0,1653.0 L1240.0,1640.0 Z" fill="#fff" stroke="#000" stroke-width="1.8"/>
<path d="M548.0,255.0 L558.0,258.0 L571.0,272.0 L577.0,290.0 L573.0,304.0 L561.0,310.0 L551.0,301.0 L545.0,287.0 L543.0,272.0 Z" fill="#fff" stroke="#000" stroke-width="2"/>
<path d="M889.0,252.0 L915.0,250.0 L915.0,262.0 L907.0,277.0 L890.0,280.0 L886.0,268.0 Z" fill="#dc6e57"/>
<path d="M865.0,258.0 L885.0,256.0 L889.0,262.0 L888.0,275.0 L880.0,281.0 L868.0,278.0 Z" fill="#fff" stroke="#000" stroke-width="1.6"/>
<path d="M497.0,2012.0 L506.0,2004.0 L513.0,2003.0 L520.0,2012.0 L516.0,2031.0 L520.0,2052.0 L509.0,2066.0 L497.0,2066.0 L492.0,2040.0 Z" fill="#fff" stroke="#000" stroke-width="2"/>
<path d="M907.4,2348.5 L924.8,2336.3 L942.2,2333.7 L968.3,2331.1 L971.8,2333.7 L950.9,2348.5 L937.9,2357.2 L924.8,2360.7 L911.8,2355.5 Z" fill="#a7d0e4" stroke="#000" stroke-width="2.2" stroke-linejoin="round"/>
<path d="M973.6,2335.5 L981.4,2329.4 L998.8,2330.2 L1016.2,2333.7 L1020.5,2339.8 L1018.8,2344.2 L1003.1,2346.8 L994.4,2350.3 L981.4,2354.6 L968.3,2353.7 L964.0,2361.6 L955.3,2365.9 L956.1,2357.2 L964.0,2348.5 L973.6,2341.6 Z" fill="#a7d0e4" stroke="#000" stroke-width="2.2" stroke-linejoin="round"/>
<circle cx="905" cy="2321" r="1.6" fill="#000" stroke="#000" stroke-width="1.2"/>
<circle cx="916" cy="2324" r="2.0" fill="#000" stroke="#000" stroke-width="1.2"/>
<circle cx="931" cy="2324" r="1.5" fill="#000" stroke="#000" stroke-width="1.2"/>
<circle cx="938" cy="2325" r="1.5" fill="#000" stroke="#000" stroke-width="1.2"/>
<circle cx="903" cy="2343" r="1.8" fill="#000" stroke="#000" stroke-width="1.2"/>
<circle cx="904" cy="2348" r="1.5" fill="#000" stroke="#000" stroke-width="1.2"/>
<circle cx="919" cy="2338" r="1.7" fill="#000" stroke="#000" stroke-width="1.2"/>
<circle cx="922" cy="2340" r="1.5" fill="#000" stroke="#000" stroke-width="1.2"/>
<circle cx="960" cy="2346" r="1.6" fill="#000" stroke="#000" stroke-width="1.2"/>
<circle cx="975" cy="2367" r="1.5" fill="#000" stroke="#000" stroke-width="1.2"/>
<circle cx="998" cy="2355" r="1.6" fill="#000" stroke="#000" stroke-width="1.2"/>
<circle cx="983" cy="2360" r="1.5" fill="#000" stroke="#000" stroke-width="1.2"/>
<circle cx="1549" cy="2407" r="2.6" fill="#000" stroke="#000" stroke-width="1.2"/>
<circle cx="1555" cy="2409" r="2.6" fill="#000" stroke="#000" stroke-width="1.2"/>
<path d="M786.0,2445.0 L800.0,2442.0 L818.0,2444.0 L816.0,2451.0 L800.0,2452.0 L787.0,2451.0 Z" fill="#d1e5f0" stroke="#000" stroke-width="1.5"/>
<path d="M607.0,191.0 L611.0,189.0 L616.0,196.0 L614.0,199.0 L609.0,196.0 Z" fill="#d6604d"/>
<path d="M638.0,201.0 L644.0,199.0 L650.0,205.0 L648.0,210.0 L641.0,207.0 Z" fill="#d6604d"/>
<path d="M662.0,202.0 L668.0,201.0 L671.0,207.0 L669.0,210.0 L664.0,208.0 Z" fill="#d6604d"/>
<path d="M797.0,243.0 L806.0,238.0 L812.0,241.0 L820.0,239.0 L818.0,248.0 L810.0,252.0 L800.0,256.0 L797.0,250.0 Z" fill="#ce4f45" stroke="#000" stroke-width="1.6"/>
<path d="M765.0,245.0 L772.0,244.0 L773.0,249.0 L766.0,250.0 Z" fill="#be3036"/>
<path d="M886.0,206.0 L890.0,205.0 L890.0,210.0 L887.0,210.0 Z" fill="#b61f2e"/>
<path d="M918.0,237.0 L926.0,234.0 L930.0,236.0 L924.0,241.0 L918.0,242.0 Z" fill="#dc6e57"/>
<circle cx="689" cy="210" r="1.8" fill="none" stroke="#000" stroke-width="1.6"/>
<circle cx="716" cy="214" r="2.5" fill="none" stroke="#000" stroke-width="1.6"/>
<circle cx="722" cy="216" r="2.0" fill="none" stroke="#000" stroke-width="1.6"/>
<circle cx="727" cy="214" r="1.5" fill="none" stroke="#000" stroke-width="1.6"/>
<circle cx="739" cy="216" r="1.6" fill="none" stroke="#000" stroke-width="1.6"/>
<circle cx="793" cy="215" r="1.8" fill="none" stroke="#000" stroke-width="1.6"/>
<path d="M452,2287 450,2286 449,2284 449,2284 450,2280 453,2281 453,2281 452,2285ZM454,2187 455,2185 454,2184 458,2185 457,2188 454,2190 455,2189 453,2191 453,2191ZM425,2265 427,2265 429,2263 429,2264 429,2264 429,2267 420,2269 422,2267ZM450,2212 449,2214 449,2213 450,2205 451,2203 452,2209 451,2213ZM476,2270 474,2267 474,2267 475,2266 476,2265 477,2262 480,2268 478,2272ZM464,2246 464,2245 463,2245 463,2244 463,2243 462,2243 467,2242 467,2244 468,2244ZM499,2077 499,2072 500,2074 502,2072 503,2074 503,2077ZM494,2162 488,2154 487,2153 490,2153 497,2156 494,2159 493,2159ZM478,2199 477,2200 477,2199 477,2198 477,2196 478,2196 479,2199ZM441,2258 442,2257 444,2258 441,2261 440,2261 441,2260ZM480,2249 480,2250 481,2245 482,2246 482,2247 482,2248 482,2248ZM444,2239 446,2240 434,2242 433,2241 433,2239 437,2237 440,2237 440,2237ZM429,2265 426,2265 430,2260 430,2256 436,2256 436,2265 437,2266 434,2266 430,2270ZM470,2247 462,2249 459,2244 457,2241 462,2240 466,2243 470,2244ZM481,2191 479,2189 475,2187 472,2181 473,2183 475,2183 479,2185 482,2186 482,2187ZM492,2105 492,2105 486,2103 485,2101 482,2100 491,2103ZM426,2198 430,2197 434,2198 433,2202 428,2202 427,2203ZM489,2149 490,2150 492,2149 491,2149 490,2153 490,2152 485,2151ZM450,2224 445,2222 442,2219 444,2219 449,2220 451,2221 452,2221ZM470,2271 468,2270 464,2271 458,2268 463,2268 467,2269 467,2269 470,2270 467,2270ZM430,2300 429,2301 427,2299 427,2299 420,2290 432,2301ZM460,2242 459,2245 459,2240 458,2238 458,2236 456,2233 459,2233 461,2232 461,2233ZM463,2281 462,2281 463,2280 462,2280 463,2278 465,2278 465,2279 465,2281 464,2281ZM423,2171 424,2170 425,2170 428,2170 428,2170 426,2172 424,2172 421,2171 420,2171ZM489,2132 489,2132 489,2132 486,2131 485,2129 485,2129 489,2129 489,2129ZM456,2154 455,2153 456,2152 460,2147 460,2153 459,2155 457,2160 457,2159ZM444,2329 443,2329 446,2324 448,2324 447,2325 448,2327 448,2330 446,2329 446,2330ZM468,2217 468,2217 468,2216 468,2216 468,2215 469,2215 469,2219ZM437,2252 442,2250 442,2251 448,2249 439,2252 436,2253ZM459,2252 459,2252 460,2250 459,2249 459,2249 463,2244 465,2245 469,2246 465,2251ZM435,2221 435,2223 434,2223 428,2221 431,2217 435,2216 434,2217ZM473,2218 472,2216 473,2213 478,2212 480,2214 478,2219ZM477,2132 476,2132 477,2130 474,2126 475,2124 484,2129ZM490,2178 489,2178 489,2174 490,2169 490,2169 492,2172 492,2179ZM447,2169 444,2170 444,2169 446,2162 450,2164 449,2167ZM468,2104 463,2103 455,2096 460,2094 471,2098 471,2100 467,2100ZM475,2224 476,2225 476,2227 468,2223 469,2222 467,2221 469,2220 474,2220ZM455,2296 460,2291 461,2290 465,2296 462,2296 462,2298 461,2297 461,2299ZM437,2291 435,2290 434,2290 430,2290 428,2288 427,2288 429,2286 431,2286ZM445,2228 438,2225 438,2221 439,2220 442,2220 444,2224ZM423,2229 422,2229 422,2227 424,2222 424,2220 427,2221ZM473,2177 473,2176 474,2176 474,2174 474,2174 476,2174 475,2178 473,2179ZM458,2120 457,2118 455,2116 458,2117 459,2113 464,2116 464,2117 463,2118 465,2120ZM443,2251 442,2251 441,2249 440,2250 439,2250 439,2250 438,2248ZM488,2218 487,2217 486,2217 484,2215 485,2215 486,2213 486,2212 490,2215ZM467,2191 469,2182 470,2175 472,2178 473,2177 474,2181 472,2187ZM485,2215 485,2215 485,2215 484,2216 482,2216 481,2214 485,2214ZM427,2225 429,2226 432,2224 435,2229 434,2229 430,2231 427,2232ZM439,2320 439,2320 439,2320 443,2317 442,2318 442,2319 441,2320ZM435,2297 430,2301 427,2298 428,2292 432,2292 432,2292 433,2294 436,2293 434,2296ZM437,2184 436,2185 435,2185 435,2183 440,2176 441,2179 441,2180 438,2185 438,2185ZM446,2159 443,2154 442,2152 443,2151 453,2156 453,2157ZM482,2208 475,2206 476,2205 478,2201 478,2199 483,2201 482,2206ZM440,2300 443,2294 447,2293 454,2298 452,2302 453,2303 449,2307ZM462,2275 462,2278 460,2276 454,2275 460,2271 460,2273 464,2274 465,2275ZM474,2247 473,2246 480,2249 475,2251 475,2250 472,2250ZM461,2219 455,2220 457,2218 454,2219 452,2216 457,2215 456,2215 457,2214ZM467,2160 467,2160 469,2159 475,2157 477,2156 476,2159 478,2160 473,2162 470,2165ZM446,2278 445,2277 445,2277 448,2277 446,2281 444,2282 444,2281ZM483,2216 481,2216 480,2215 479,2214 478,2213 479,2212 479,2211 480,2212ZM449,2245 443,2243 442,2243 442,2243 442,2242 443,2240 447,2242 448,2244ZM424,2266 424,2266 423,2266 423,2265 417,2261 423,2254 426,2258 428,2263 426,2265ZM464,2303 465,2303 466,2302 466,2302 467,2302 469,2302 469,2303 469,2303 464,2305ZM489,2107 489,2106 488,2106 490,2105 490,2105 489,2104 490,2103 494,2103ZM426,2245 429,2243 430,2242 434,2244 433,2247 431,2248 432,2249ZM464,2247 468,2246 468,2247 468,2248 468,2248 467,2248 466,2248 465,2247ZM442,2288 441,2286 439,2284 440,2282 441,2283 444,2287ZM431,2223 439,2215 443,2218 446,2218 442,2220 440,2225ZM462,2127 464,2128 464,2128 466,2128 464,2130 463,2132 464,2133 461,2131ZM481,2233 483,2230 482,2233 484,2232 486,2230 489,2231 478,2240 477,2240 479,2238ZM472,2118 471,2117 467,2110 467,2109 467,2105 468,2106 470,2107 470,2107 473,2115ZM464,2259 464,2259 468,2258 468,2259 469,2258 464,2262 464,2263 462,2263 460,2262ZM461,2243 462,2242 464,2237 465,2237 466,2237 466,2241 461,2246ZM452,2246 450,2247 451,2247 451,2246 456,2242 462,2243 460,2245 455,2246 450,2248ZM442,2213 444,2205 445,2203 445,2204 444,2205 446,2206 446,2213 444,2210 444,2213ZM474,2298 473,2299 471,2298 469,2297 469,2294 469,2294ZM451,2235 449,2232 448,2231 449,2226 450,2226 454,2229 455,2228 456,2235ZM492,2132 491,2132 487,2132 484,2127 486,2126 487,2127 487,2126ZM460,2289 457,2292 460,2281 466,2281 467,2280 469,2280 470,2281 466,2286 464,2291ZM460,2207 463,2202 466,2200 466,2202 469,2201 466,2204ZM459,2128 455,2127 456,2124 456,2120 459,2118 464,2123 464,2126 465,2131ZM441,2249 442,2250 440,2249 438,2247 437,2246 439,2246 439,2246 442,2248 443,2249ZM481,2115 481,2114 480,2113 480,2113 477,2112 473,2111 478,2109ZM449,2211 449,2213 448,2212 448,2213 447,2213 444,2212 440,2209ZM456,2291 456,2291 457,2291 460,2290 460,2291 458,2291 457,2292ZM484,2130 487,2128 492,2126 493,2127 495,2128 492,2132 493,2133 491,2133 490,2132ZM465,2243 471,2241 471,2243 471,2243 474,2247 472,2252ZM450,2267 451,2266 453,2264 454,2263 454,2264 454,2266 453,2267ZM497,2124 498,2123 499,2123 500,2122 501,2123 501,2124ZM479,2255 480,2256 473,2254 472,2253 475,2253 476,2254 476,2254 479,2254 478,2254ZM458,2163 451,2161 457,2159 457,2159 458,2160 461,2162 461,2163ZM427,2323 430,2315 434,2316 435,2314 438,2318 436,2321 436,2324ZM458,2257 458,2254 458,2252 456,2251 458,2247 459,2248ZM438,2290 438,2290 441,2289 443,2292 441,2295 440,2294 440,2297 439,2295ZM474,2134 474,2134 470,2134 470,2133 470,2133 471,2131 473,2132ZM473,2141 473,2141 476,2139 481,2146 476,2145 475,2146 473,2146 472,2146ZM453,2315 452,2314 451,2312 447,2310 448,2309 450,2308 450,2307 452,2309 453,2312ZM468,2143 465,2142 464,2133 463,2132 469,2134 472,2141 472,2145ZM473,2286 470,2282 470,2281 472,2281 473,2282 476,2284 475,2285ZM481,2091 487,2091 486,2095 486,2096 483,2098 481,2098 481,2098 480,2096 477,2096ZM468,2189 465,2188 463,2189 463,2182 464,2183 467,2182ZM493,2095 492,2095 492,2095 505,2088 500,2096 497,2096ZM453,2183 454,2183 454,2182 455,2182 456,2181 458,2181 456,2184 455,2184ZM431,2226 434,2222 437,2223 436,2225 438,2224 438,2227 433,2231 433,2231 429,2231ZM444,2315 444,2317 443,2317 439,2310 442,2305 445,2310ZM488,2121 492,2120 493,2122 492,2122 492,2124 491,2124 490,2124 489,2124ZM478,2135 477,2133 476,2133 475,2126 478,2131 478,2131ZM500,2092 496,2092 493,2090 492,2089 494,2088 495,2087 500,2088 501,2091ZM439,2177 437,2175 427,2173 429,2167 438,2170 442,2173ZM456,2284 455,2287 453,2283 454,2279 453,2277 455,2277 461,2284ZM496,2214 492,2214 492,2216 488,2213 487,2210 489,2209 493,2210ZM472,2233 472,2236 469,2233 467,2230 465,2227 467,2227 469,2225 472,2225 475,2229ZM433,2268 435,2267 436,2266 438,2266 440,2267 440,2268 439,2268 439,2268ZM485,2146 485,2144 487,2142 489,2141 489,2142 487,2145 486,2145 484,2147ZM474,2133 474,2129 471,2128 477,2124 480,2129 479,2130ZM492,2164 494,2158 500,2156 500,2158 503,2157 503,2161 494,2168 491,2170ZM461,2206 459,2204 459,2203 460,2202 461,2200 461,2200 465,2204ZM468,2232 463,2227 463,2226 465,2225 466,2226 469,2226 471,2227 472,2232 471,2232ZM472,2139 473,2140 473,2140 468,2137 472,2136 473,2136 473,2138ZM483,2110 483,2110 481,2109 480,2107 478,2106 479,2106 482,2102 486,2106 486,2107ZM449,2204 450,2204 451,2203 451,2202 454,2206 453,2205ZM438,2296 439,2299 437,2300 434,2300 432,2300 432,2299ZM479,2148 478,2148 477,2146 476,2144 478,2137 480,2140 483,2145 483,2147ZM454,2175 455,2174 454,2173 456,2174 457,2171 459,2173 461,2173 458,2178 454,2179ZM456,2229 455,2227 458,2225 459,2222 464,2219 462,2228 460,2229ZM464,2307 465,2309 464,2311 464,2312 463,2312 461,2312 462,2310ZM483,2177 482,2175 477,2171 477,2169 480,2170 484,2170 484,2171 485,2173ZM424,2226 420,2222 425,2219 428,2217 426,2221 429,2222ZM437,2237 440,2229 443,2229 441,2231 444,2230 443,2233 440,2241 439,2241ZM453,2261 453,2261 456,2259 458,2259 458,2260 456,2261 455,2261ZM476,2149 475,2149 474,2149 476,2144 477,2144 478,2144 478,2145 480,2148 479,2148ZM495,2145 495,2146 493,2144 492,2142 492,2141 494,2141 496,2143ZM480,2216 489,2215 489,2219 488,2219 490,2220 477,2221ZM471,2150 470,2150 470,2150 470,2148 470,2148 470,2147 471,2147 472,2149 471,2151ZM444,2207 434,2204 431,2204 441,2202 445,2203 444,2203ZM456,2301 457,2296 457,2295 461,2301 461,2303 459,2302 459,2304 458,2303 459,2306ZM473,2287 472,2281 472,2280 473,2280 474,2280 477,2285ZM428,2214 431,2210 432,2208 432,2211 433,2212 432,2213 433,2213 429,2213ZM422,2232 421,2231 422,2229 424,2230 424,2230 429,2225 432,2228 423,2238ZM471,2271 469,2271 477,2267 477,2267 481,2271 481,2271ZM449,2183 445,2178 447,2169 454,2179 452,2179 452,2179ZM423,2278 424,2278 424,2277 428,2277 425,2282 420,2281ZM473,2260 476,2262 481,2264 483,2265 481,2265 481,2266 480,2267 476,2269 471,2273ZM439,2303 442,2298 446,2298 447,2305 442,2306 440,2306ZM467,2279 467,2278 467,2277 470,2276 470,2277 469,2279 470,2280 468,2281 468,2281ZM427,2208 428,2207 428,2206 430,2208 431,2208 432,2210 431,2210 427,2212 428,2211ZM440,2215 440,2215 443,2218 438,2217 436,2217 435,2208 435,2208 439,2212ZM432,2167 435,2166 437,2167 434,2170 435,2175 434,2174ZM443,2328 444,2332 436,2334 435,2320 436,2318 440,2323 443,2322 443,2325 443,2327ZM451,2308 452,2307 454,2305 455,2307 455,2307 456,2308 455,2310 454,2311 453,2311ZM424,2244 422,2243 421,2241 421,2241 422,2241 422,2241 422,2240 423,2243ZM432,2296 431,2291 433,2292 436,2288 437,2297 435,2298ZM476,2216 474,2215 472,2211 472,2210 472,2208 474,2208 475,2206 478,2216ZM431,2332 433,2330 430,2332 438,2323 437,2325 436,2330 434,2333 432,2334 431,2333ZM448,2291 446,2289 446,2289 450,2284 453,2286 451,2292ZM468,2190 467,2189 468,2186 468,2186 469,2184 470,2184 470,2186 469,2188 469,2188ZM466,2186 470,2186 472,2187 471,2189 471,2189 471,2193ZM473,2291 465,2279 469,2279 470,2282 470,2283 472,2283 473,2285 476,2288ZM456,2260 456,2259 456,2258 457,2258 458,2257 458,2258 458,2258ZM444,2309 440,2309 438,2310 436,2308 442,2298 444,2302 446,2304ZM481,2107 481,2107 482,2108 481,2109 480,2109 481,2105 483,2107 483,2107ZM453,2325 449,2329 446,2327 441,2323 441,2323 442,2320 445,2320 448,2320 451,2323ZM431,2246 430,2243 430,2240 432,2242 433,2241 434,2242 435,2239 438,2248 434,2248ZM424,2184 423,2186 421,2184 422,2181 423,2181 424,2181 425,2181ZM492,2165 496,2158 501,2156 500,2163 500,2163 495,2168ZM430,2186 433,2185 433,2185 435,2185 435,2186 437,2187 436,2187 431,2188ZM467,2182 463,2181 472,2176 477,2179 475,2180 474,2182 472,2187ZM480,2196 480,2194 482,2192 483,2187 484,2191 487,2191 486,2197ZM431,2298 436,2291 439,2293 439,2297 438,2299 436,2299 436,2300ZM466,2119 465,2119 466,2118 465,2117 465,2116 466,2115 467,2117 467,2118ZM428,2200 429,2199 429,2197 430,2196 431,2193 431,2194 433,2196 432,2198 430,2202ZM445,2186 448,2181 455,2179 455,2180 454,2182 456,2183 453,2189 447,2187ZM467,2182 470,2180 472,2180 472,2180 473,2180 473,2180 475,2181 474,2181ZM467,2261 467,2261 467,2260 467,2258 470,2260 470,2260 469,2263ZM452,2235 451,2236 447,2231 451,2226 450,2223 454,2225 454,2225 453,2235ZM482,2119 480,2120 479,2120 478,2121 480,2113 484,2115ZM488,2156 488,2156 489,2151 493,2153 492,2154 493,2155ZM480,2251 476,2251 484,2247 485,2247 485,2247 488,2248 484,2253ZM467,2112 468,2114 466,2112 466,2111 466,2109 468,2110 469,2111 469,2112 468,2112ZM435,2289 435,2288 434,2287 434,2285 435,2285 436,2285 436,2286 437,2287 437,2291ZM488,2118 482,2110 484,2109 484,2108 490,2117 488,2117 491,2121 488,2117ZM502,2118 504,2116 503,2119 502,2124 501,2127 501,2126 499,2128ZM489,2145 490,2145 490,2144 490,2144 491,2145 492,2145 492,2146ZM437,2318 436,2316 435,2314 436,2312 436,2308 441,2317 440,2316 441,2319 441,2319ZM488,2209 488,2207 487,2206 491,2207 491,2208 488,2211ZM459,2143 458,2139 458,2137 459,2139 459,2137 460,2139 461,2139 461,2139 461,2144ZM468,2293 468,2294 467,2295 464,2289 469,2290 468,2291ZM452,2330 451,2329 451,2329 452,2329 451,2327 455,2329 457,2330 457,2331ZM482,2105 478,2103 491,2102 492,2104 490,2107 486,2110ZM486,2247 485,2246 483,2247 482,2245 481,2243 481,2243 478,2241 481,2239ZM547,2433 541,2426 540,2425 543,2423 543,2419 544,2420 547,2429 549,2433 549,2434ZM507,2421 507,2422 508,2419 509,2417 509,2418 510,2418 508,2422 508,2421ZM563,2432 569,2428 569,2427 578,2426 573,2433 568,2435 567,2432ZM510,2402 510,2401 508,2401 508,2394 513,2398 512,2400 511,2402ZM546,2439 543,2440 535,2437 537,2436 535,2436 536,2432 544,2436 546,2437ZM516,2412 516,2412 515,2412 511,2407 517,2409 518,2411 521,2412 523,2413 523,2413ZM444,2333 445,2331 446,2331 445,2333 445,2333 446,2334 446,2335 445,2336 445,2336ZM536,2406 537,2405 539,2405 541,2406 539,2408 536,2411 536,2409ZM555,2421 549,2420 550,2417 551,2417 551,2415 552,2415 553,2417 557,2418 555,2419ZM481,2400 482,2397 482,2395 479,2393 481,2392 479,2390 480,2390 484,2397ZM483,2371 481,2368 479,2369 475,2366 472,2359 485,2357 486,2360 486,2361ZM566,2453 564,2453 563,2453 562,2452 561,2449 561,2449 562,2449 563,2449 565,2450ZM608,2436 607,2436 606,2437 605,2437 604,2437 604,2437 601,2435 602,2434ZM565,2432 567,2432 571,2433 575,2431 579,2434 574,2439 567,2438ZM564,2419 562,2414 564,2413 564,2415 568,2419 568,2420ZM448,2341 446,2341 446,2341 449,2339 452,2338 451,2340 452,2340 450,2343ZM586,2424 590,2424 589,2428 589,2429 587,2430 587,2430ZM492,2367 495,2367 498,2368 499,2372 493,2379 489,2377 489,2374ZM646,2433 641,2432 639,2430 639,2430 642,2429 642,2429 644,2430 645,2431 645,2431ZM459,2349 461,2341 462,2343 464,2338 467,2346 466,2349 467,2351 466,2350 466,2351ZM485,2360 482,2358 481,2356 482,2356 483,2356 487,2360 486,2360ZM605,2434 603,2430 605,2429 613,2427 617,2429 617,2431 612,2437 610,2435 606,2434ZM594,2424 591,2424 591,2424 590,2423 590,2422 591,2421 593,2420 594,2423 594,2423ZM613,2456 611,2457 607,2457 604,2459 604,2455 600,2456 601,2454 608,2449 613,2451ZM462,2355 458,2349 461,2343 466,2344 466,2348 467,2353 468,2355ZM447,2345 447,2345 443,2341 444,2339 447,2336 450,2337 452,2337ZM665,2441 665,2442 661,2439 660,2434 665,2429 665,2430 667,2432 667,2437 665,2440ZM563,2421 558,2419 555,2418 556,2415 555,2413 563,2410 564,2411 566,2416ZM488,2398 486,2398 485,2393 486,2392 487,2394 490,2394 489,2395 490,2395 491,2398ZM555,2445 555,2439 555,2438 556,2438 557,2438 558,2436 558,2439 554,2446ZM502,2410 502,2410 498,2410 497,2403 503,2399 506,2399 505,2409ZM462,2344 459,2343 462,2343 466,2340 469,2342 466,2346 464,2346ZM473,2346 476,2341 476,2340 477,2344 477,2345 475,2345 475,2345 475,2346 475,2345ZM660,2456 662,2449 664,2449 665,2448 664,2452 665,2451ZM636,2458 637,2459 633,2458 629,2454 632,2453 634,2454 638,2455ZM466,2396 468,2393 468,2389 472,2390 472,2390 472,2398 470,2397ZM485,2391 486,2391 486,2390 487,2390 486,2389 485,2388 490,2389 493,2393 493,2396ZM659,2451 659,2450 658,2450 658,2450 657,2446 660,2446 661,2449 661,2449ZM524,2401 525,2399 524,2397 528,2400 529,2400 531,2403ZM470,2363 469,2364 468,2362 466,2361 465,2350 468,2354ZM628,2470 628,2470 627,2470 627,2470 626,2469 626,2469 626,2469 628,2468 631,2469ZM442,2359 443,2358 445,2356 447,2355 449,2357 451,2358ZM560,2440 559,2440 558,2438 558,2437 559,2437 562,2438ZM649,2463 649,2462 647,2460 648,2456 648,2455 652,2458 653,2458ZM478,2358 482,2352 485,2353 485,2354 486,2360 482,2365ZM499,2419 495,2416 490,2408 489,2407 493,2407 495,2406 499,2413ZM490,2408 487,2404 489,2400 491,2400 498,2394 497,2399 498,2405ZM479,2390 478,2388 478,2388 476,2387 479,2387 481,2387 484,2387 483,2388 485,2388ZM649,2441 655,2437 658,2440 656,2445 653,2447 652,2448 647,2450ZM497,2381 497,2378 506,2373 505,2375 504,2377 501,2379ZM598,2427 593,2426 591,2427 589,2420 594,2419 599,2422 601,2423ZM457,2356 456,2355 456,2348 457,2346 457,2348 457,2348 460,2348 462,2355ZM593,2424 593,2426 598,2428 595,2428 590,2430 588,2429ZM513,2414 518,2411 518,2412 518,2414 518,2414 515,2415 514,2415 513,2415ZM473,2336 472,2335 472,2334 473,2334 475,2334 475,2335 476,2335 476,2336 477,2337ZM472,2386 469,2382 471,2379 471,2377 472,2377 474,2376 475,2379 474,2382ZM617,2462 623,2460 628,2456 630,2459 628,2463 626,2465 623,2464 619,2464 620,2463ZM491,2363 493,2360 495,2363 494,2364 493,2364 489,2364ZM624,2469 623,2467 622,2465 621,2460 622,2457 630,2466 628,2468 626,2466 625,2470ZM450,2356 444,2357 444,2355 444,2354 445,2354 447,2351 449,2352 453,2353ZM521,2390 525,2389 527,2392 523,2394 523,2395 520,2395ZM535,2405 535,2404 535,2403 534,2400 538,2399 538,2402 540,2401ZM442,2356 442,2355 442,2353 446,2352 444,2351 455,2352 453,2353 446,2357 443,2359ZM664,2448 664,2448 665,2447 668,2446 668,2448 668,2448 668,2450ZM486,2402 492,2402 490,2405 489,2406 484,2409 485,2407 483,2407ZM458,2348 462,2343 464,2342 462,2347 462,2347 459,2350 459,2349 458,2349ZM602,2467 603,2461 604,2456 604,2450 607,2450 606,2453 607,2449 607,2456 608,2462ZM519,2389 516,2389 517,2387 517,2380 519,2376 520,2381ZM464,2367 464,2364 464,2362 461,2358 461,2357 464,2357 472,2365 471,2364 471,2366ZM456,2329 456,2327 455,2324 459,2321 459,2321 462,2325 462,2327 458,2327 456,2329ZM462,2328 462,2328 461,2328 459,2326 460,2326 462,2325ZM465,2391 462,2393 461,2389 461,2388 462,2386 463,2387 466,2385 467,2393ZM511,2398 510,2395 507,2391 509,2392 512,2391 513,2393 514,2394 513,2394ZM470,2349 475,2349 475,2349 476,2348 478,2347 476,2351 474,2355 465,2354ZM505,2368 507,2368 508,2368 508,2370 506,2370 502,2372ZM545,2418 544,2417 545,2416 548,2416 548,2416 549,2417 548,2420ZM499,2409 498,2407 495,2405 495,2405 497,2404 501,2403 506,2406ZM502,2388 502,2388 505,2392 500,2393 497,2393 495,2393ZM493,2368 498,2371 498,2371 497,2374 497,2379 489,2378ZM611,2450 609,2448 621,2443 621,2443 614,2453 612,2454 610,2451ZM639,2460 636,2461 635,2456 636,2456 639,2455 640,2456ZM469,2371 471,2369 466,2370 465,2368 467,2367 471,2368 473,2367ZM644,2440 642,2437 644,2430 647,2433 649,2431 647,2439 647,2443 645,2439 645,2440ZM521,2400 518,2397 517,2397 515,2394 517,2392 522,2392 523,2391 525,2392ZM474,2350 472,2351 469,2352 469,2351 469,2350 469,2349 470,2346 473,2348 472,2348ZM470,2363 467,2361 463,2359 464,2359 465,2358 466,2358 470,2360 470,2360ZM588,2436 589,2437 586,2436 584,2436 584,2438 583,2437 582,2436 586,2432 587,2433ZM459,2366 460,2366 460,2363 464,2360 463,2363 465,2362 463,2364 465,2363 461,2368ZM541,2423 540,2419 542,2420 542,2418 542,2419 543,2420 545,2421 544,2422 543,2425ZM505,2403 505,2403 503,2403 502,2404 500,2404 498,2403 492,2399 494,2399 500,2394ZM575,2456 576,2454 577,2453 577,2452 577,2452 579,2456 579,2457 579,2456 577,2458ZM481,2366 485,2365 486,2364 491,2365 488,2367 487,2368 487,2370 480,2367ZM655,2434 654,2436 655,2436 657,2436 655,2438 652,2438 651,2438ZM504,2409 505,2404 507,2403 507,2402 509,2400 510,2402 509,2407 509,2408 506,2412ZM492,2406 491,2404 491,2403 493,2403 493,2403 494,2409ZM591,2457 592,2457 596,2455 600,2456 597,2460 592,2459ZM480,2350 475,2350 475,2350 475,2343 474,2338 478,2339 478,2340 483,2347ZM580,2422 582,2421 588,2422 585,2425 583,2424 582,2424ZM595,2450 592,2448 587,2450 583,2448 583,2448 585,2446 593,2444 595,2445ZM571,2427 562,2427 554,2421 558,2422 560,2421 566,2424ZM448,2346 447,2346 446,2344 445,2343 445,2343 446,2343 448,2345ZM517,2395 514,2394 517,2385 520,2386 520,2387 525,2393ZM508,2424 507,2423 507,2422 509,2422 512,2421 512,2422 511,2424 510,2426 508,2425ZM610,2462 608,2461 607,2461 607,2459 606,2459 607,2458 612,2458 612,2460ZM487,2368 486,2367 483,2364 484,2362 483,2360 483,2360 489,2365 490,2369ZM651,2454 648,2451 647,2454 639,2452 639,2450 638,2448 637,2444 648,2442ZM589,2420 589,2419 587,2418 589,2418 589,2418 596,2420ZM454,2336 453,2336 451,2335 452,2331 451,2329 451,2329 454,2327 455,2331 458,2334ZM658,2451 657,2447 657,2442 657,2440 664,2440 662,2454 661,2452ZM536,2423 535,2421 533,2420 530,2415 530,2411 537,2417ZM468,2371 469,2368 470,2367 473,2365 474,2367 474,2370 473,2373 469,2375 469,2372ZM469,2354 467,2349 475,2348 473,2353 473,2356 471,2354ZM671,2458 672,2457 675,2451 679,2455 680,2457 678,2457ZM477,2381 477,2386 474,2388 468,2391 470,2388 466,2390ZM472,2342 473,2340 470,2341 473,2333 476,2335 477,2337 477,2339 477,2344ZM475,2377 475,2377 476,2375 478,2374 480,2373 484,2374 483,2376 482,2376 476,2378ZM492,2385 492,2385 497,2382 499,2380 496,2387 494,2388 493,2387ZM658,2472 657,2473 656,2472 651,2466 653,2467 656,2467ZM499,2380 499,2377 501,2371 506,2371 504,2378 505,2379 502,2380 501,2379ZM468,2355 465,2355 461,2352 465,2351 465,2350 469,2354ZM544,2401 536,2396 539,2396 538,2395 541,2395 545,2398 545,2400ZM555,2425 553,2422 550,2410 552,2411 552,2411 557,2416 558,2419ZM476,2352 477,2352 478,2350 482,2351 481,2352 476,2353ZM685,2440 681,2440 680,2440 674,2440 673,2439 679,2437 679,2438 681,2438 683,2438ZM478,2364 474,2367 472,2367 471,2362 466,2362 475,2359 480,2362ZM621,2429 622,2428 626,2425 627,2424 628,2426 623,2431 621,2431 621,2431ZM544,2402 544,2401 543,2398 544,2397 545,2397 546,2398 546,2401ZM479,2374 478,2373 475,2372 476,2371 476,2371 478,2371 480,2370ZM479,2399 479,2399 480,2397 483,2395 486,2397 484,2399 480,2400ZM461,2349 461,2349 462,2347 463,2347 465,2347 464,2351 463,2352 462,2352ZM469,2351 469,2350 469,2349 469,2349 470,2349 471,2348 471,2348 472,2350 472,2351ZM637,2452 638,2448 639,2447 640,2447 639,2449 639,2450 638,2451 638,2451ZM593,2436 599,2433 597,2436 601,2434 602,2437 601,2441 596,2441 592,2442 592,2440ZM636,2449 645,2444 646,2447 647,2452 647,2452 641,2455 635,2455ZM467,2336 467,2336 467,2335 469,2330 472,2331 472,2332 471,2335 470,2334 470,2337ZM445,2356 442,2353 441,2351 444,2347 447,2348 449,2346 451,2348 449,2353ZM488,2389 490,2385 494,2383 499,2384 498,2386 494,2390ZM632,2444 637,2443 642,2449 643,2449 641,2450 639,2453ZM473,2335 480,2336 478,2337 477,2337 479,2339 475,2338 473,2339ZM557,2412 557,2413 558,2411 559,2411 560,2411 558,2414 557,2416 557,2417ZM669,2477 667,2476 665,2475 665,2473 664,2473 669,2472 671,2472 671,2474ZM578,2435 578,2433 581,2432 581,2436 580,2438 579,2439ZM589,2429 591,2429 597,2428 595,2430 601,2429 598,2432 595,2432 589,2433ZM471,2345 474,2348 466,2347 462,2345 463,2344 464,2343 467,2342 472,2343 472,2345ZM568,2428 566,2427 568,2426 569,2425 570,2425 570,2426 570,2427 571,2429ZM459,2378 458,2378 457,2377 459,2376 458,2375 458,2374 461,2378 461,2380ZM654,2442 654,2440 656,2437 659,2438 660,2439 661,2439 662,2440 652,2444ZM551,2429 546,2433 542,2424 548,2419 548,2419 551,2418 554,2423 557,2425ZM558,2410 557,2407 558,2407 559,2407 560,2407 560,2407ZM489,2363 488,2361 496,2358 498,2366 496,2364 495,2368 493,2365 488,2366ZM630,2452 630,2452 631,2449 637,2447 639,2448 640,2448 640,2448ZM458,2376 458,2376 458,2373 458,2374 462,2370 462,2371 459,2377ZM529,2408 523,2407 520,2405 520,2403 521,2397 523,2398 524,2398 525,2399 530,2406ZM505,2387 505,2386 508,2385 508,2385 508,2384 512,2385 511,2386 511,2388 506,2388ZM463,2369 462,2368 463,2368 463,2367 464,2367 467,2369ZM516,2397 513,2393 512,2388 515,2390 516,2386 516,2386 517,2389 523,2398ZM580,2454 591,2441 591,2441 590,2445 588,2447 586,2450ZM571,2436 566,2438 567,2436 564,2435 561,2435 572,2430 572,2433 575,2433 573,2434ZM505,2393 502,2391 502,2390 500,2381 509,2382 507,2385ZM668,2437 673,2430 673,2433 676,2434 680,2439 675,2443 674,2444 671,2443 668,2443ZM440,2344 440,2341 439,2341 443,2333 444,2330 447,2337 445,2340ZM477,2339 476,2338 474,2337 473,2337 474,2334 478,2335 477,2336ZM479,2402 478,2393 483,2391 485,2394 487,2392 486,2397 487,2397 489,2402 489,2402ZM464,2369 461,2368 461,2369 462,2371 462,2372 453,2366 454,2364 458,2363 460,2364ZM642,2478 644,2468 647,2466 646,2467 650,2468 647,2472 648,2472ZM560,2451 561,2446 564,2444 567,2443 569,2448 565,2451ZM607,2433 606,2431 606,2431 613,2433 611,2434 608,2438ZM473,2347 475,2346 472,2350 471,2351 469,2351 468,2350ZM525,2407 524,2406 522,2405 521,2405 520,2403 519,2400ZM573,2419 576,2414 579,2413 581,2413 582,2419 571,2421Z" fill="none" stroke="#000" stroke-width="2.0" stroke-linejoin="round"/>
<path d="M575.0,215.0 L545.0,235.0 L523.0,250.0 L502.0,304.0 L519.0,302.0 L523.0,320.0 L530.0,341.0 L530.0,361.0 L540.0,372.0 L561.0,377.0 L606.0,379.0 L631.0,407.0 L648.0,405.0 L693.0,401.0 L699.0,412.0 L687.0,431.0 L685.0,459.0 L690.0,476.0 L702.0,497.0 L683.0,518.0 L699.0,529.0 L706.0,539.0 L709.0,570.0 L716.0,574.0 M378.0,322.0 L372.0,333.0 L362.0,345.0 M716.0,574.0 L735.0,586.0 L756.0,582.0 L763.0,588.0 L781.0,574.0 L801.0,563.0 L833.0,539.0 L850.0,544.0 M850.0,544.0 L864.0,582.0 L871.0,624.0 L885.0,655.0 L895.0,662.0 L902.0,634.0 L923.0,627.0 L934.0,634.0 L939.0,620.0 L944.0,603.0 L984.0,603.0 M850.0,544.0 L840.0,520.0 L836.0,490.0 L850.0,481.0 L871.0,474.0 L895.0,467.0 L920.0,460.0 L940.0,457.0 L946.0,446.0 L942.0,443.0 M836.0,490.0 L820.0,480.0 L800.0,485.0 M954.0,333.0 L927.0,345.0 L923.0,363.0 L934.0,375.0 L920.0,387.0 L906.0,401.0 L902.0,413.0 L923.0,439.0 L942.0,443.0 M942.0,443.0 L948.0,460.0 L958.0,471.0 L961.0,481.0 L951.0,495.0 L954.0,526.0 L954.0,544.0 L965.0,558.0 L982.0,568.0 L1000.0,565.0 L1035.0,547.0 L1059.0,547.0 M1059.0,547.0 L1080.0,549.0 L1078.0,537.0 L1094.0,530.0 L1115.0,526.0 L1122.0,537.0 L1139.0,540.0 L1163.0,537.0 L1184.0,539.0 L1202.0,516.0 L1216.0,488.0 L1228.0,467.0 M1042.0,411.0 L1038.0,439.0 L1017.0,450.0 L1014.0,474.0 L1028.0,498.0 L1040.0,505.0 L1048.0,530.0 L1059.0,547.0 M1149.0,420.0 L1132.0,446.0 L1136.0,467.0 L1146.0,492.0 L1143.0,516.0 L1134.0,537.0 M1122.0,537.0 L1125.0,551.0 L1156.0,565.0 L1167.0,579.0 L1177.0,596.0 L1188.0,620.0 L1202.0,645.0 L1212.0,652.0 L1226.0,645.0 L1237.0,624.0 M982.0,568.0 L984.0,603.0 L989.0,634.0 L1014.0,655.0 L1045.0,673.0 L1059.0,683.0 L1076.0,681.0 L1059.0,711.0 L1042.0,753.0 L1024.0,788.0 L1000.0,833.0 L999.0,836.0 L1006.0,857.0 L1003.0,902.0 L999.0,907.0 M1006.0,857.0 L1024.0,895.0 L1037.0,912.0 L1055.0,926.0 L1150.0,933.0 L1274.0,941.0 M716.0,574.0 L700.0,575.0 L690.0,580.0 L672.0,555.0 L618.0,554.0 L618.0,575.0 L636.0,578.0 L638.0,590.0 L608.0,595.0 L608.0,620.0 L622.0,630.0 L629.0,650.0 L626.0,682.0 L619.0,730.0 L615.0,755.0 L610.0,757.0 M610.0,757.0 L589.0,743.0 L610.0,703.0 L593.0,696.0 L554.0,685.0 L516.0,692.0 L505.0,675.0 L495.0,658.0 L481.0,640.0 L460.0,619.0 L436.0,614.0 M310.0,556.0 L317.0,563.0 L345.0,577.0 L356.0,584.0 L377.0,602.0 L401.0,598.0 L436.0,614.0 M436.0,614.0 L436.0,643.0 L425.0,664.0 L404.0,685.0 L387.0,694.0 L352.0,708.0 L335.0,731.0 L324.0,752.0 L309.0,778.0 L282.0,767.0 L262.0,752.0 L250.0,745.0 M610.0,757.0 L586.0,751.0 L551.0,762.0 L516.0,783.0 L509.0,807.0 L502.0,825.0 L488.0,850.0 L485.0,852.0 L490.0,870.0 L500.0,905.0 L512.0,925.0 L550.0,947.0 L567.0,945.0 L594.0,930.0 L592.0,979.0 L627.0,979.0 M485.0,850.0 L550.0,874.0 L595.0,883.0 L672.0,923.0 L717.0,940.0 M627.0,979.0 L654.0,984.0 L675.0,972.0 L696.0,958.0 L721.0,940.0 L731.0,930.0 L759.0,926.0 L780.0,912.0 L801.0,909.0 L829.0,879.0 L849.0,879.0 L877.0,902.0 L895.0,909.0 L999.0,907.0 M766.0,937.0 L766.0,979.0 L773.0,1006.0 L794.0,1024.0 L829.0,1034.0 L846.0,1045.0 L877.0,1059.0 L898.0,1066.0 L923.0,1066.0 L930.0,1083.0 L937.0,1118.0 L930.0,1121.0 L940.0,1135.0 L942.0,1156.0 L1003.0,1158.0 L999.0,1181.0 L1010.0,1194.0 L1027.0,1212.0 L1031.0,1222.0 L1024.0,1257.0 L1017.0,1278.0 M895.0,909.0 L895.0,979.0 L947.0,982.0 L947.0,1006.0 L954.0,1026.0 L943.0,1045.0 L926.0,1066.0 M627.0,979.0 L654.0,1031.0 L646.0,1038.0 L644.0,1083.0 L635.0,1100.0 L639.0,1118.0 L632.0,1135.0 L637.0,1153.0 L648.0,1160.0 L637.0,1167.0 L625.0,1188.0 L627.0,1201.0 L618.0,1205.0 L600.0,1225.0 M625.0,1198.0 L641.0,1215.0 L648.0,1240.0 L661.0,1261.0 L654.0,1285.0 L660.0,1300.0 L670.0,1323.0 L680.0,1357.0 L683.0,1378.0 L707.0,1380.0 M707.0,1380.0 L720.0,1360.0 L740.0,1347.0 L753.0,1353.0 L790.0,1355.0 L800.0,1377.0 L817.0,1350.0 L853.0,1350.0 M853.0,1350.0 L860.0,1353.0 L870.0,1300.0 L884.0,1271.0 L890.0,1267.0 L943.0,1257.0 L978.0,1261.0 L1017.0,1278.0 M857.0,1353.0 L873.0,1367.0 L893.0,1393.0 L913.0,1410.0 L940.0,1417.0 L950.0,1418.0 L974.0,1429.0 L1002.0,1446.0 L1016.0,1456.0 L1020.0,1474.0 L1007.0,1498.0 L995.0,1524.0 L1047.0,1533.0 L1065.0,1530.0 L1093.0,1519.0 L1117.0,1502.0 L1128.0,1470.0 L1138.0,1418.0 M1017.0,1278.0 L1013.0,1289.0 L1016.0,1317.0 L1014.0,1352.0 L1054.0,1355.0 L1065.0,1352.0 L1089.0,1359.0 L1096.0,1387.0 L1100.0,1411.0 L1124.0,1411.0 L1138.0,1418.0 M950.0,1258.0 L978.0,1260.0 L1009.0,1275.0 L1018.0,1282.0 M1128.0,1470.0 L1145.0,1467.0 L1152.0,1474.0 L1155.0,1491.0 L1157.0,1519.0 L1148.0,1523.0 L1117.0,1537.0 L1089.0,1557.0 L1072.0,1578.0 L1047.0,1603.0 L1027.0,1624.0 M1027.0,1624.0 L1018.0,1634.0 L1013.0,1672.0 L1007.0,1707.0 L1002.0,1735.0 L999.0,1750.0 L1000.0,1765.0 M1027.0,1624.0 L1047.0,1620.0 L1079.0,1637.0 L1082.0,1651.0 L1096.0,1644.0 L1124.0,1669.0 L1152.0,1693.0 L1169.0,1704.0 L1187.0,1700.0 M1157.0,1519.0 L1194.0,1523.0 L1218.0,1530.0 L1246.0,1543.0 L1263.0,1561.0 L1288.0,1568.0 L1284.0,1592.0 M1155.0,1491.0 L1194.0,1495.0 L1236.0,1502.0 L1243.0,1491.0 L1281.0,1484.0 L1330.0,1481.0 M1180.0,1369.0 L1208.0,1368.0 L1253.0,1378.0 L1284.0,1382.0 L1295.0,1404.0 L1305.0,1432.0 L1312.0,1443.0 M1138.0,1418.0 L1148.0,1394.0 L1162.0,1373.0 L1187.0,1359.0 L1211.0,1338.0 L1225.0,1307.0 L1246.0,1279.0 L1249.0,1261.0 M1249.0,1261.0 L1222.0,1251.0 L1194.0,1237.0 L1176.0,1223.0 L1173.0,1209.0 L1155.0,1213.0 L1155.0,1192.0 L1124.0,1202.0 L1082.0,1188.0 L1054.0,1192.0 L1034.0,1209.0 L1023.0,1202.0 M1246.0,1279.0 L1305.0,1282.0 L1316.0,1293.0 L1368.0,1282.0 L1375.0,1307.0 L1396.0,1331.0 L1396.0,1359.0 L1403.0,1376.0 M1403.0,1376.0 L1427.0,1369.0 L1458.0,1359.0 M1458.0,1359.0 L1490.0,1355.0 L1538.0,1338.0 L1542.0,1317.0 M1249.0,1261.0 L1267.0,1244.0 L1298.0,1230.0 L1326.0,1227.0 L1347.0,1230.0 L1368.0,1220.0 L1372.0,1197.0 L1372.0,1165.0 L1382.0,1138.0 L1389.0,1113.0 L1414.0,1113.0 M1150.0,1198.0 L1107.0,1198.0 L1079.0,1188.0 L1055.0,1194.0 L1031.0,1212.0 M1326.0,790.0 L1343.0,794.0 L1337.0,825.0 L1312.0,839.0 L1305.0,863.0 L1309.0,881.0 L1295.0,898.0 L1274.0,940.0 L1260.0,1003.0 L1256.0,1038.0 L1253.0,1072.0 L1239.0,1114.0 L1208.0,1150.0 L1180.0,1180.0 L1173.0,1209.0 M1410.0,650.0 L1403.0,685.0 L1389.0,720.0 L1368.0,754.0 L1334.0,782.0 L1323.0,791.0 M1334.0,786.0 L1365.0,796.0 L1368.0,824.0 L1361.0,852.0 L1382.0,880.0 L1400.0,883.0 L1382.0,915.0 L1400.0,946.0 L1424.0,956.0 M1553.0,706.0 L1525.0,734.0 L1515.0,765.0 L1515.0,800.0 L1518.0,828.0 L1508.0,838.0 L1480.0,840.0 L1445.0,859.0 L1428.0,880.0 L1417.0,911.0 L1421.0,936.0 L1424.0,956.0 M1424.0,956.0 L1407.0,970.0 L1396.0,988.0 L1403.0,1002.0 L1403.0,1033.0 L1407.0,1068.0 L1410.0,1103.0 L1414.0,1113.0 M1257.0,1040.0 L1271.0,1043.0 L1302.0,1050.0 L1330.0,1054.0 L1361.0,1054.0 L1396.0,1047.0 L1407.0,1047.0 M1424.0,956.0 L1435.0,970.0 L1452.0,977.0 L1476.0,967.0 L1490.0,949.0 L1494.0,929.0 L1522.0,932.0 L1553.0,915.0 L1577.0,904.0 M1570.0,709.0 L1577.0,754.0 L1584.0,789.0 L1591.0,838.0 L1598.0,859.0 L1595.0,880.0 L1577.0,904.0 M1577.0,904.0 L1595.0,922.0 L1602.0,915.0 L1633.0,901.0 L1664.0,911.0 L1682.0,925.0 L1703.0,915.0 L1744.0,911.0 L1772.0,908.0 M1595.0,862.0 L1626.0,859.0 L1647.0,873.0 L1668.0,866.0 L1696.0,859.0 L1713.0,866.0 L1710.0,880.0 L1730.0,887.0 L1772.0,866.0 M1696.0,775.0 L1678.0,807.0 L1664.0,828.0 L1661.0,866.0 M1664.0,828.0 L1689.0,824.0 L1710.0,814.0 L1703.0,835.0 L1727.0,838.0 L1734.0,824.0 L1776.0,828.0 M1682.0,932.0 L1713.0,946.0 L1741.0,953.0 M1682.0,925.0 L1682.0,932.0 L1685.0,963.0 L1678.0,977.0 L1689.0,995.0 L1703.0,998.0 M1414.0,1113.0 L1431.0,1106.0 L1459.0,1096.0 L1480.0,1089.0 L1494.0,1103.0 L1529.0,1106.0 L1563.0,1124.0 L1577.0,1138.0 L1598.0,1138.0 L1619.0,1148.0 L1612.0,1172.0 L1598.0,1186.0 L1598.0,1200.0 L1609.0,1214.0 L1623.0,1225.0 L1633.0,1232.0 M1609.0,1214.0 L1598.0,1214.0 L1581.0,1225.0 L1577.0,1250.0 L1567.0,1290.0 L1560.0,1310.0 L1542.0,1317.0 M600.0,1227.0 L617.0,1203.0 L627.0,1200.0 M707.0,1380.0 L710.0,1383.0 L700.0,1417.0 L667.0,1430.0 L660.0,1443.0 L663.0,1457.0 L660.0,1470.0 L663.0,1487.0 L660.0,1497.0 L667.0,1517.0 L650.0,1523.0 L640.0,1543.0 L623.0,1563.0 L613.0,1590.0 L615.0,1617.0 L607.0,1630.0 L597.0,1657.0 L600.0,1680.0 L605.0,1703.0 L612.0,1727.0 L617.0,1757.0 L603.0,1770.0 L597.0,1790.0 L600.0,1813.0 L593.0,1827.0 L577.0,1837.0 L573.0,1857.0 L577.0,1883.0 L583.0,1903.0 L570.0,1913.0 L567.0,1930.0 L557.0,1940.0 L553.0,1963.0 L551.0,1984.0 L551.0,2021.0 L541.0,2045.0 L546.0,2068.0 L555.0,2096.0 L569.0,2105.0 L555.0,2114.0 L560.0,2142.0 L551.0,2161.0 L555.0,2175.0 L541.0,2198.0 L532.0,2221.0 L527.0,2244.0 L509.0,2253.0 L495.0,2267.0 L500.0,2291.0 L518.0,2305.0 L537.0,2314.0 L537.0,2342.0 L541.0,2356.0 L662.0,2360.0 L667.0,2365.0 M657.0,2374.0 L657.0,2448.0" fill="none" stroke="#000" stroke-width="1.9" stroke-linejoin="round"/>
<text x="723" y="272.3" font-size="41.7" text-anchor="middle" fill="#fff" stroke="#000" stroke-width="8.5" stroke-linejoin="round" paint-order="stroke">28</text>
<text x="483" y="469.3" font-size="41.7" text-anchor="middle" fill="#fff" stroke="#000" stroke-width="8.5" stroke-linejoin="round" paint-order="stroke">19</text>
<text x="338" y="632.3" font-size="41.7" text-anchor="middle" fill="#fff" stroke="#000" stroke-width="8.5" stroke-linejoin="round" paint-order="stroke">18</text>
<text x="1020" y="396.3" font-size="41.7" text-anchor="middle" fill="#fff" stroke="#000" stroke-width="8.5" stroke-linejoin="round" paint-order="stroke">28</text>
<text x="1122" y="426.3" font-size="41.7" text-anchor="middle" fill="#fff" stroke="#000" stroke-width="8.5" stroke-linejoin="round" paint-order="stroke">29</text>
<text x="1210" y="457.3" font-size="41.7" text-anchor="middle" fill="#fff" stroke="#000" stroke-width="8.5" stroke-linejoin="round" paint-order="stroke">27</text>
<text x="934" y="528.3" font-size="41.7" text-anchor="middle" fill="#fff" stroke="#000" stroke-width="8.5" stroke-linejoin="round" paint-order="stroke">34</text>
<text x="1254" y="621.3" font-size="41.7" text-anchor="middle" fill="#fff" stroke="#000" stroke-width="8.5" stroke-linejoin="round" paint-order="stroke">32</text>
<text x="1340" y="671.3" font-size="41.7" text-anchor="middle" fill="#fff" stroke="#000" stroke-width="8.5" stroke-linejoin="round" paint-order="stroke">33</text>
<text x="1482" y="707.3" font-size="41.7" text-anchor="middle" fill="#fff" stroke="#000" stroke-width="8.5" stroke-linejoin="round" paint-order="stroke">31</text>
<text x="955" y="727.3" font-size="41.7" text-anchor="middle" fill="#fff" stroke="#000" stroke-width="8.5" stroke-linejoin="round" paint-order="stroke">29</text>
<text x="1674" y="750.3" font-size="41.7" text-anchor="middle" fill="#fff" stroke="#000" stroke-width="8.5" stroke-linejoin="round" paint-order="stroke">32</text>
<text x="1532" y="793.3" font-size="41.7" text-anchor="middle" fill="#fff" stroke="#000" stroke-width="8.5" stroke-linejoin="round" paint-order="stroke">33</text>
<text x="1786" y="816.3" font-size="41.7" text-anchor="middle" fill="#fff" stroke="#000" stroke-width="8.5" stroke-linejoin="round" paint-order="stroke">30</text>
<text x="1799" y="860.3" font-size="41.7" text-anchor="middle" fill="#fff" stroke="#000" stroke-width="8.5" stroke-linejoin="round" paint-order="stroke">30</text>
<text x="1797" y="891.3" font-size="41.7" text-anchor="middle" fill="#fff" stroke="#000" stroke-width="8.5" stroke-linejoin="round" paint-order="stroke">31</text>
<text x="825" y="914.3" font-size="41.7" text-anchor="middle" fill="#fff" stroke="#000" stroke-width="8.5" stroke-linejoin="round" paint-order="stroke">33</text>
<text x="1768" y="946.3" font-size="41.7" text-anchor="middle" fill="#fff" stroke="#000" stroke-width="8.5" stroke-linejoin="round" paint-order="stroke">30</text>
<text x="695" y="956.3" font-size="41.7" text-anchor="middle" fill="#fff" stroke="#000" stroke-width="8.5" stroke-linejoin="round" paint-order="stroke">32</text>
<text x="1346" y="964.3" font-size="41.7" text-anchor="middle" fill="#fff" stroke="#000" stroke-width="8.5" stroke-linejoin="round" paint-order="stroke">32</text>
<text x="1723" y="987.3" font-size="41.7" text-anchor="middle" fill="#fff" stroke="#000" stroke-width="8.5" stroke-linejoin="round" paint-order="stroke">32</text>
<text x="386" y="1023.3" font-size="41.7" text-anchor="middle" fill="#fff" stroke="#000" stroke-width="8.5" stroke-linejoin="round" paint-order="stroke">25</text>
<text x="1676" y="1056.3" font-size="41.7" text-anchor="middle" fill="#fff" stroke="#000" stroke-width="8.5" stroke-linejoin="round" paint-order="stroke">31</text>
<text x="1086" y="1144.3" font-size="41.7" text-anchor="middle" fill="#fff" stroke="#000" stroke-width="8.5" stroke-linejoin="round" paint-order="stroke">31</text>
<text x="1360" y="1150.3" font-size="41.7" text-anchor="middle" fill="#fff" stroke="#000" stroke-width="8.5" stroke-linejoin="round" paint-order="stroke">27</text>
<text x="668" y="1173.3" font-size="41.7" text-anchor="middle" fill="#fff" stroke="#000" stroke-width="8.5" stroke-linejoin="round" paint-order="stroke">9</text>
<text x="1316" y="1181.3" font-size="41.7" text-anchor="middle" fill="#fff" stroke="#000" stroke-width="8.5" stroke-linejoin="round" paint-order="stroke">31</text>
<text x="1494" y="1289.3" font-size="41.7" text-anchor="middle" fill="#fff" stroke="#000" stroke-width="8.5" stroke-linejoin="round" paint-order="stroke">28</text>
<text x="1136" y="1308.3" font-size="41.7" text-anchor="middle" fill="#fff" stroke="#000" stroke-width="8.5" stroke-linejoin="round" paint-order="stroke">32</text>
<text x="1615" y="1303.3" font-size="41.7" text-anchor="middle" fill="#fff" stroke="#000" stroke-width="8.5" stroke-linejoin="round" paint-order="stroke">33</text>
<text x="1518" y="1390.3" font-size="41.7" text-anchor="middle" fill="#fff" stroke="#000" stroke-width="8.5" stroke-linejoin="round" paint-order="stroke">28</text>
<text x="1403" y="1411.3" font-size="41.7" text-anchor="middle" fill="#fff" stroke="#000" stroke-width="8.5" stroke-linejoin="round" paint-order="stroke">25</text>
<text x="1037" y="1468.3" font-size="41.7" text-anchor="middle" fill="#fff" stroke="#000" stroke-width="8.5" stroke-linejoin="round" paint-order="stroke">35</text>
<text x="1316" y="1473.3" font-size="41.7" text-anchor="middle" fill="#fff" stroke="#000" stroke-width="8.5" stroke-linejoin="round" paint-order="stroke">27</text>
<text x="1340" y="1546.3" font-size="41.7" text-anchor="middle" fill="#fff" stroke="#000" stroke-width="8.5" stroke-linejoin="round" paint-order="stroke">29</text>
<text x="1249" y="1627.3" font-size="41.7" text-anchor="middle" fill="#fff" stroke="#000" stroke-width="8.5" stroke-linejoin="round" paint-order="stroke">29</text>
<text x="602" y="1740.3" font-size="41.7" text-anchor="middle" fill="#fff" stroke="#000" stroke-width="8.5" stroke-linejoin="round" paint-order="stroke">27</text>
<text x="1010" y="1787.3" font-size="41.7" text-anchor="middle" fill="#fff" stroke="#000" stroke-width="8.5" stroke-linejoin="round" paint-order="stroke">33</text>
<text x="1083" y="1788.3" font-size="41.7" text-anchor="middle" fill="#fff" stroke="#000" stroke-width="8.5" stroke-linejoin="round" paint-order="stroke">27</text>

<g>
<path d="M1642,2361 C1645,2390 1670,2415 1713,2425 C1760,2428 1790,2395 1798,2332 L1806,2330 L1781,2306 L1756,2330 L1765,2330 C1765,2365 1745,2400 1711,2404 C1680,2405 1650,2390 1642,2361 Z" fill="#0073ba"/>
<path d="M1643,2356 C1640,2320 1665,2295 1695,2293 C1725,2293 1737,2315 1737,2340 L1744,2340 L1719,2363 L1698,2340 L1706,2340 C1707,2325 1697,2318 1683,2318 C1660,2319 1644,2340 1644,2362" fill="none" stroke="#0073ba" stroke-width="1.3"/>
<circle cx="1718.7" cy="2382.7" r="16.8" fill="#f39207"/>
<text x="1651" y="2370.5" font-size="23" font-weight="bold" font-style="italic" textLength="51" lengthAdjust="spacingAndGlyphs" fill="#111">INPE</text>
</g>
</g>
<rect x="177.6" y="177.3" width="1673.7" height="2309.8999999999996" fill="none" stroke="#000" stroke-width="3.3"/>
<text x="156.2" y="293.5" font-size="50" text-anchor="end">10°N</text>
<text x="156.2" y="628.3" font-size="50" text-anchor="end">0°</text>
<text x="156.2" y="963.1" font-size="50" text-anchor="end">10°S</text>
<text x="156.2" y="1297.8" font-size="50" text-anchor="end">20°S</text>
<text x="156.2" y="1632.6" font-size="50" text-anchor="end">30°S</text>
<text x="156.2" y="1967.4" font-size="50" text-anchor="end">40°S</text>
<text x="156.2" y="2302.1" font-size="50" text-anchor="end">50°S</text>
<text x="278.0" y="2547.5" font-size="50" text-anchor="middle">80°W</text>
<text x="612.8" y="2547.5" font-size="50" text-anchor="middle">70°W</text>
<text x="947.5" y="2547.5" font-size="50" text-anchor="middle">60°W</text>
<text x="1282.2" y="2547.5" font-size="50" text-anchor="middle">50°W</text>
<text x="1617.0" y="2547.5" font-size="50" text-anchor="middle">40°W</text>
<rect x="1893.6" y="2358.80" width="51.5" height="24.20" fill="#063264"/>
<rect x="1893.6" y="2335.20" width="51.5" height="24.20" fill="#09386d"/>
<rect x="1893.6" y="2311.60" width="51.5" height="24.20" fill="#0d3f76"/>
<rect x="1893.6" y="2288.00" width="51.5" height="24.20" fill="#0f437b"/>
<rect x="1893.6" y="2264.39" width="51.5" height="24.20" fill="#124984"/>
<rect x="1893.6" y="2240.79" width="51.5" height="24.20" fill="#15508d"/>
<rect x="1893.6" y="2217.19" width="51.5" height="24.20" fill="#195696"/>
<rect x="1893.6" y="2193.59" width="51.5" height="24.20" fill="#1c5c9f"/>
<rect x="1893.6" y="2169.99" width="51.5" height="24.20" fill="#1f63a8"/>
<rect x="1893.6" y="2146.39" width="51.5" height="24.20" fill="#2369ad"/>
<rect x="1893.6" y="2122.79" width="51.5" height="24.20" fill="#266caf"/>
<rect x="1893.6" y="2099.19" width="51.5" height="24.20" fill="#2a71b2"/>
<rect x="1893.6" y="2075.59" width="51.5" height="24.20" fill="#2e77b5"/>
<rect x="1893.6" y="2051.98" width="51.5" height="24.20" fill="#327cb7"/>
<rect x="1893.6" y="2028.38" width="51.5" height="24.20" fill="#3681ba"/>
<rect x="1893.6" y="2004.78" width="51.5" height="24.20" fill="#3a87bd"/>
<rect x="1893.6" y="1981.18" width="51.5" height="24.20" fill="#3c8abe"/>
<rect x="1893.6" y="1957.58" width="51.5" height="24.20" fill="#408fc1"/>
<rect x="1893.6" y="1933.98" width="51.5" height="24.20" fill="#4695c4"/>
<rect x="1893.6" y="1910.38" width="51.5" height="24.20" fill="#4f9bc7"/>
<rect x="1893.6" y="1886.78" width="51.5" height="24.20" fill="#59a1ca"/>
<rect x="1893.6" y="1863.18" width="51.5" height="24.20" fill="#62a7ce"/>
<rect x="1893.6" y="1839.57" width="51.5" height="24.20" fill="#6bacd1"/>
<rect x="1893.6" y="1815.97" width="51.5" height="24.20" fill="#71b0d3"/>
<rect x="1893.6" y="1792.37" width="51.5" height="24.20" fill="#7bb6d6"/>
<rect x="1893.6" y="1768.77" width="51.5" height="24.20" fill="#84bcd9"/>
<rect x="1893.6" y="1745.17" width="51.5" height="24.20" fill="#8dc2dc"/>
<rect x="1893.6" y="1721.57" width="51.5" height="24.20" fill="#96c7df"/>
<rect x="1893.6" y="1697.97" width="51.5" height="24.20" fill="#9dcbe1"/>
<rect x="1893.6" y="1674.37" width="51.5" height="24.20" fill="#a2cde3"/>
<rect x="1893.6" y="1650.77" width="51.5" height="24.20" fill="#a9d1e5"/>
<rect x="1893.6" y="1627.16" width="51.5" height="24.20" fill="#b1d5e7"/>
<rect x="1893.6" y="1603.56" width="51.5" height="24.20" fill="#b8d8e9"/>
<rect x="1893.6" y="1579.96" width="51.5" height="24.20" fill="#c0dceb"/>
<rect x="1893.6" y="1556.36" width="51.5" height="24.20" fill="#c7e0ed"/>
<rect x="1893.6" y="1532.76" width="51.5" height="24.20" fill="#cce2ef"/>
<rect x="1893.6" y="1509.16" width="51.5" height="24.20" fill="#d2e6f0"/>
<rect x="1893.6" y="1485.56" width="51.5" height="24.20" fill="#d7e8f1"/>
<rect x="1893.6" y="1461.96" width="51.5" height="24.20" fill="#dbeaf2"/>
<rect x="1893.6" y="1438.36" width="51.5" height="24.20" fill="#e0ecf3"/>
<rect x="1893.6" y="1414.75" width="51.5" height="24.20" fill="#e4eef4"/>
<rect x="1893.6" y="1391.15" width="51.5" height="24.20" fill="#e9f0f4"/>
<rect x="1893.6" y="1367.55" width="51.5" height="24.20" fill="#ecf2f5"/>
<rect x="1893.6" y="1343.95" width="51.5" height="24.20" fill="#f0f4f6"/>
<rect x="1893.6" y="1320.35" width="51.5" height="24.20" fill="#f5f6f7"/>
<rect x="1893.6" y="1296.75" width="51.5" height="24.20" fill="#f7f5f4"/>
<rect x="1893.6" y="1273.15" width="51.5" height="24.20" fill="#f8f2ef"/>
<rect x="1893.6" y="1249.55" width="51.5" height="24.20" fill="#f9efe9"/>
<rect x="1893.6" y="1225.94" width="51.5" height="24.20" fill="#f9ede5"/>
<rect x="1893.6" y="1202.34" width="51.5" height="24.20" fill="#fae9df"/>
<rect x="1893.6" y="1178.74" width="51.5" height="24.20" fill="#fbe6da"/>
<rect x="1893.6" y="1155.14" width="51.5" height="24.20" fill="#fbe3d4"/>
<rect x="1893.6" y="1131.54" width="51.5" height="24.20" fill="#fcdfcf"/>
<rect x="1893.6" y="1107.94" width="51.5" height="24.20" fill="#fddcc9"/>
<rect x="1893.6" y="1084.34" width="51.5" height="24.20" fill="#fcd7c2"/>
<rect x="1893.6" y="1060.74" width="51.5" height="24.20" fill="#fcd3bc"/>
<rect x="1893.6" y="1037.14" width="51.5" height="24.20" fill="#fbccb4"/>
<rect x="1893.6" y="1013.53" width="51.5" height="24.20" fill="#f9c6ac"/>
<rect x="1893.6" y="989.93" width="51.5" height="24.20" fill="#f8bfa4"/>
<rect x="1893.6" y="966.33" width="51.5" height="24.20" fill="#f7b99c"/>
<rect x="1893.6" y="942.73" width="51.5" height="24.20" fill="#f6b394"/>
<rect x="1893.6" y="919.13" width="51.5" height="24.20" fill="#f6af8e"/>
<rect x="1893.6" y="895.53" width="51.5" height="24.20" fill="#f5a886"/>
<rect x="1893.6" y="871.93" width="51.5" height="24.20" fill="#f2a17f"/>
<rect x="1893.6" y="848.33" width="51.5" height="24.20" fill="#ef9979"/>
<rect x="1893.6" y="824.73" width="51.5" height="24.20" fill="#eb9172"/>
<rect x="1893.6" y="801.12" width="51.5" height="24.20" fill="#e8896c"/>
<rect x="1893.6" y="777.52" width="51.5" height="24.20" fill="#e48066"/>
<rect x="1893.6" y="753.92" width="51.5" height="24.20" fill="#e27b62"/>
<rect x="1893.6" y="730.32" width="51.5" height="24.20" fill="#de735c"/>
<rect x="1893.6" y="706.72" width="51.5" height="24.20" fill="#db6b55"/>
<rect x="1893.6" y="683.12" width="51.5" height="24.20" fill="#d7634f"/>
<rect x="1893.6" y="659.52" width="51.5" height="24.20" fill="#d35a4a"/>
<rect x="1893.6" y="635.92" width="51.5" height="24.20" fill="#cf5246"/>
<rect x="1893.6" y="612.32" width="51.5" height="24.20" fill="#cc4c44"/>
<rect x="1893.6" y="588.71" width="51.5" height="24.20" fill="#c84440"/>
<rect x="1893.6" y="565.11" width="51.5" height="24.20" fill="#c43b3c"/>
<rect x="1893.6" y="541.51" width="51.5" height="24.20" fill="#bf3338"/>
<rect x="1893.6" y="517.91" width="51.5" height="24.20" fill="#bb2a34"/>
<rect x="1893.6" y="494.31" width="51.5" height="24.20" fill="#b72230"/>
<rect x="1893.6" y="470.71" width="51.5" height="24.20" fill="#b41c2d"/>
<rect x="1893.6" y="447.11" width="51.5" height="24.20" fill="#ae172a"/>
<rect x="1893.6" y="423.51" width="51.5" height="24.20" fill="#a51429"/>
<rect x="1893.6" y="399.91" width="51.5" height="24.20" fill="#9c1127"/>
<rect x="1893.6" y="376.30" width="51.5" height="24.20" fill="#930e26"/>
<rect x="1893.6" y="352.70" width="51.5" height="24.20" fill="#8a0b25"/>
<rect x="1893.6" y="329.10" width="51.5" height="24.20" fill="#810823"/>
<rect x="1893.6" y="305.50" width="51.5" height="24.20" fill="#7c0722"/>
<rect x="1893.6" y="281.90" width="51.5" height="24.20" fill="#730421"/>
<path d="M1893.6,281.9 L1919.35,177.09999999999997 L1945.1,281.9 Z" fill="#67001f"/>
<path d="M1893.6,2382.4 L1919.35,2487.2000000000003 L1945.1,2382.4 Z" fill="#053061"/>
<path d="M1893.6,281.9 L1919.35,177.09999999999997 L1945.1,281.9 L1945.1,2382.4 L1919.35,2487.2000000000003 L1893.6,2382.4 Z" fill="none" stroke="#000" stroke-width="3.3" stroke-linejoin="miter"/>
<line x1="1945.1" y1="2382.4" x2="1960.6" y2="2382.4" stroke="#000" stroke-width="3.3"/>
<text x="1975" y="2403.7" font-size="50">-5</text>
<line x1="1945.1" y1="2146.4" x2="1960.6" y2="2146.4" stroke="#000" stroke-width="3.3"/>
<text x="1975" y="2167.7" font-size="50">0</text>
<line x1="1945.1" y1="1910.4" x2="1960.6" y2="1910.4" stroke="#000" stroke-width="3.3"/>
<text x="1975" y="1931.7" font-size="50">5</text>
<line x1="1945.1" y1="1674.4" x2="1960.6" y2="1674.4" stroke="#000" stroke-width="3.3"/>
<text x="1975" y="1695.7" font-size="50">10</text>
<line x1="1945.1" y1="1438.4" x2="1960.6" y2="1438.4" stroke="#000" stroke-width="3.3"/>
<text x="1975" y="1459.7" font-size="50">15</text>
<line x1="1945.1" y1="1202.3" x2="1960.6" y2="1202.3" stroke="#000" stroke-width="3.3"/>
<text x="1975" y="1223.6" font-size="50">20</text>
<line x1="1945.1" y1="966.3" x2="1960.6" y2="966.3" stroke="#000" stroke-width="3.3"/>
<text x="1975" y="987.6" font-size="50">25</text>
<line x1="1945.1" y1="730.3" x2="1960.6" y2="730.3" stroke="#000" stroke-width="3.3"/>
<text x="1975" y="751.6" font-size="50">30</text>
<line x1="1945.1" y1="494.3" x2="1960.6" y2="494.3" stroke="#000" stroke-width="3.3"/>
<text x="1975" y="515.6" font-size="50">35</text>
<line x1="1945.1" y1="281.9" x2="1960.6" y2="281.9" stroke="#000" stroke-width="3.3"/>
<text x="1975" y="303.2" font-size="50">40</text>
<text x="1892.2" y="174.5" font-size="50" text-anchor="middle">(°C)</text>
</svg></body></html>
